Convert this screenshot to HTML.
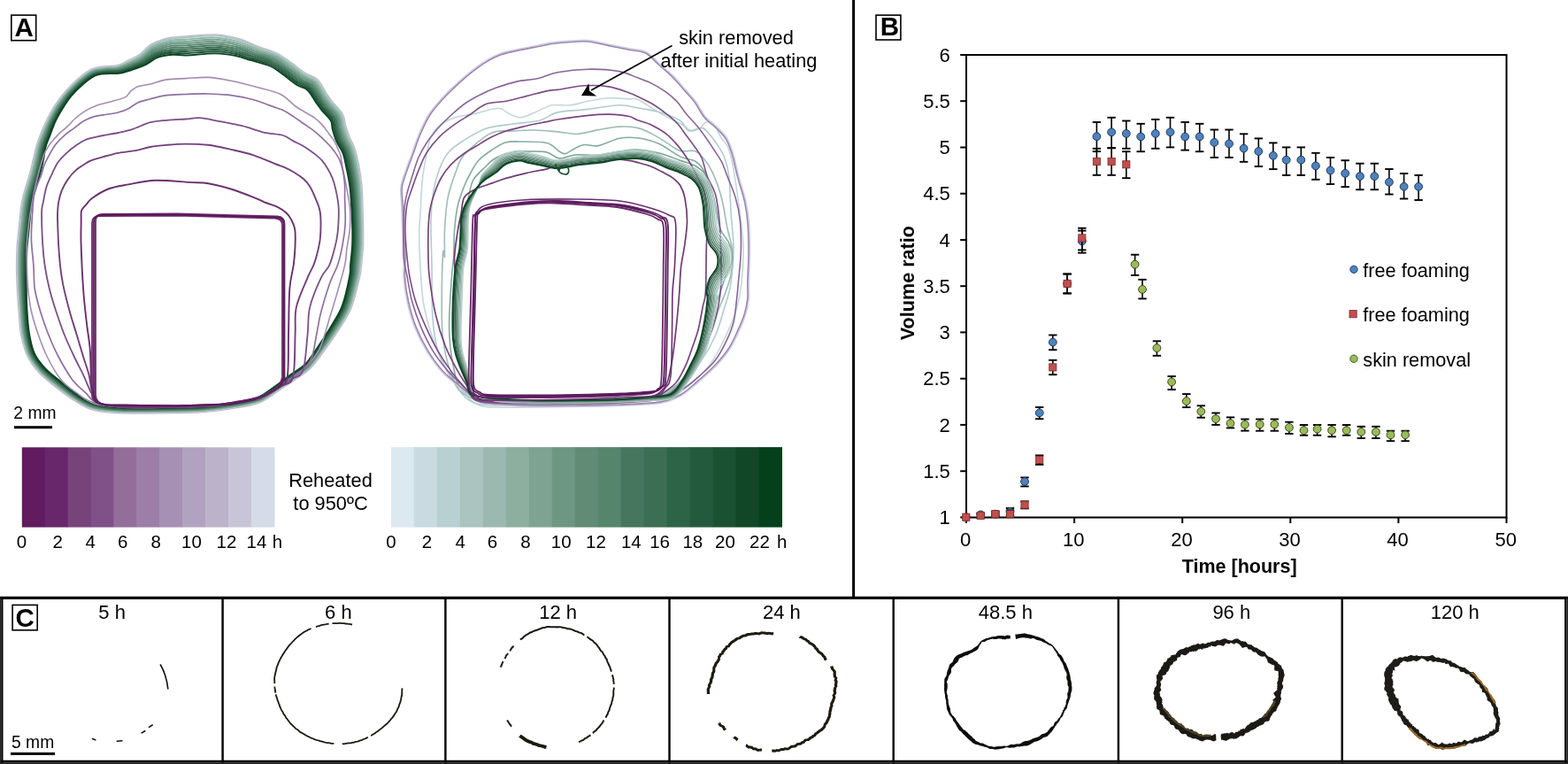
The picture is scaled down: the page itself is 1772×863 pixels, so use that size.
<!DOCTYPE html><html><head><meta charset="utf-8"><title>Figure</title><style>html,body{margin:0;padding:0;background:#fff;}body{width:1772px;height:863px;overflow:hidden;}</style></head><body><svg width="1772" height="863" viewBox="0 0 1772 863" style="display:block">
<rect width="1772" height="863" fill="#ffffff"/>
<g fill="none" stroke-linejoin="round" stroke-linecap="round">
<path d="M191.9,42.5 C198.2,41.1 200.8,41.6 209.4,41.0 C218.0,40.4 233.1,38.4 243.3,38.9 C253.6,39.4 263.3,41.9 271.0,44.0 C278.7,46.1 282.5,48.9 289.6,51.6 C296.6,54.3 306.5,56.8 313.2,60.0 C319.9,63.3 324.6,67.3 329.9,71.1 C335.2,74.8 340.0,79.2 344.8,82.3 C349.7,85.4 354.7,85.7 358.9,89.8 C363.1,93.8 367.1,102.6 369.9,106.8 C372.7,110.9 372.7,111.0 375.6,114.7 C378.6,118.4 384.9,124.3 387.4,128.8 C389.9,133.3 389.4,137.4 390.7,141.7 C391.9,145.9 393.1,149.9 394.9,154.2 C396.6,158.6 399.3,162.7 401.0,167.8 C402.8,172.9 404.0,177.6 405.4,185.0 C406.7,192.3 408.3,201.2 409.2,212.0 C410.0,222.8 410.2,239.1 410.5,249.8 C410.8,260.4 411.0,267.3 410.7,275.8 C410.4,284.3 409.2,294.1 408.5,300.7 C407.7,307.2 408.2,307.1 406.2,315.1 C404.3,323.2 400.5,339.5 396.6,349.1 C392.7,358.7 387.8,364.9 382.9,372.7 C378.0,380.4 372.3,388.3 367.0,395.6 C361.6,402.9 356.5,410.6 350.8,416.3 C345.0,421.9 338.5,425.3 332.4,429.6 C326.3,433.8 320.8,437.7 314.2,441.9 C307.7,446.2 301.8,451.8 293.0,455.1 C284.2,458.4 272.1,460.0 261.7,461.7 C251.2,463.5 242.5,464.7 230.3,465.6 C218.1,466.4 203.9,466.6 188.5,466.8 C173.0,467.0 151.1,467.4 137.3,466.8 C123.5,466.2 114.6,465.7 105.7,463.3 C96.8,461.0 91.2,456.9 84.1,452.6 C77.0,448.3 69.6,442.6 63.0,437.4 C56.4,432.2 49.9,427.4 44.5,421.6 C39.2,415.8 34.4,409.7 31.0,402.5 C27.5,395.3 25.3,386.8 23.7,378.5 C22.0,370.1 21.8,361.0 21.1,352.4 C20.4,343.8 19.7,335.4 19.3,326.7 C18.9,317.9 18.5,307.8 18.5,300.0 C18.5,292.1 18.7,285.6 19.0,279.6 C19.3,273.7 20.0,269.4 20.5,264.4 C21.0,259.3 21.5,254.4 22.0,249.4 C22.5,244.3 22.9,238.9 23.6,234.1 C24.3,229.3 25.1,224.8 26.2,220.5 C27.2,216.2 28.4,212.7 29.8,208.2 C31.1,203.6 32.9,198.3 34.2,193.3 C35.5,188.4 36.4,183.7 37.7,178.6 C38.9,173.4 40.3,167.1 41.7,162.4 C43.2,157.6 44.5,154.4 46.4,149.8 C48.4,145.1 50.7,139.6 53.3,134.4 C56.0,129.2 58.6,123.8 62.1,118.5 C65.5,113.3 69.6,108.0 74.0,102.9 C78.4,97.9 83.5,92.7 88.5,88.5 C93.4,84.3 98.5,80.2 103.5,77.9 C108.6,75.7 114.1,75.5 118.9,74.7 C123.7,74.0 128.0,74.7 132.3,73.6 C136.7,72.5 140.8,70.2 145.0,68.2 C149.2,66.1 153.1,64.6 157.5,61.5 C161.9,58.5 165.5,53.0 171.2,49.9 C176.9,46.7 185.5,44.0 191.9,42.5Z" stroke="#c4b6d4" stroke-width="1.3"/>
<path d="M192.1,44.0 C198.4,42.6 201.0,43.1 209.5,42.5 C218.0,41.9 233.1,39.9 243.3,40.4 C253.5,40.9 263.0,43.3 270.7,45.4 C278.3,47.5 282.1,50.4 289.1,53.0 C296.1,55.7 305.9,58.2 312.6,61.4 C319.2,64.6 323.8,68.6 329.0,72.3 C334.3,76.0 339.2,80.5 344.0,83.6 C348.8,86.7 353.8,86.8 357.9,90.9 C362.0,94.9 365.9,103.5 368.7,107.6 C371.4,111.8 371.6,112.0 374.5,115.6 C377.4,119.3 383.6,125.2 386.1,129.6 C388.6,134.0 388.0,137.9 389.2,142.1 C390.5,146.3 391.7,150.4 393.5,154.8 C395.2,159.2 397.9,163.2 399.6,168.3 C401.3,173.4 402.5,178.0 403.9,185.3 C405.2,192.6 406.8,201.4 407.7,212.1 C408.5,222.9 408.7,239.2 409.0,249.8 C409.3,260.4 409.5,267.3 409.2,275.7 C408.9,284.2 407.7,294.0 407.0,300.5 C406.2,307.1 406.7,306.8 404.8,314.8 C402.8,322.8 399.1,339.0 395.2,348.5 C391.3,358.0 386.5,364.2 381.6,371.9 C376.7,379.6 371.1,387.5 365.8,394.7 C360.4,401.9 355.4,409.6 349.7,415.2 C344.0,420.8 337.6,424.1 331.5,428.3 C325.5,432.6 319.9,436.4 313.4,440.7 C306.9,444.9 301.1,450.5 292.5,453.7 C283.8,457.0 271.8,458.5 261.4,460.3 C251.0,462.0 242.3,463.3 230.2,464.1 C218.0,464.9 203.9,465.1 188.4,465.3 C173.0,465.5 151.1,465.9 137.4,465.3 C123.7,464.7 114.9,464.2 106.1,461.9 C97.4,459.6 91.9,455.6 84.9,451.3 C77.9,447.1 70.5,441.4 63.9,436.2 C57.4,431.1 50.9,426.3 45.6,420.6 C40.4,414.9 35.7,408.9 32.3,401.9 C28.9,394.8 26.8,386.5 25.2,378.2 C23.5,370.0 23.3,360.9 22.6,352.3 C21.9,343.7 21.2,335.4 20.8,326.6 C20.4,317.9 20.0,307.8 20.0,300.0 C20.0,292.2 20.2,285.6 20.5,279.7 C20.8,273.8 21.5,269.5 22.0,264.5 C22.5,259.5 23.0,254.5 23.5,249.5 C24.0,244.5 24.4,239.1 25.1,234.3 C25.7,229.5 26.6,225.1 27.6,220.8 C28.7,216.5 29.9,213.1 31.2,208.6 C32.5,204.1 34.3,198.7 35.7,193.7 C37.0,188.8 37.9,184.1 39.1,178.9 C40.4,173.7 41.7,167.5 43.2,162.8 C44.6,158.0 45.9,155.0 47.8,150.3 C49.7,145.7 52.1,140.2 54.7,135.1 C57.3,129.9 59.9,124.5 63.3,119.4 C66.7,114.2 70.8,108.9 75.1,103.9 C79.5,99.0 84.6,93.7 89.4,89.6 C94.3,85.5 99.2,81.5 104.2,79.3 C109.1,77.1 114.3,76.9 119.1,76.2 C123.8,75.5 128.2,76.2 132.6,75.1 C137.0,74.0 141.3,71.6 145.6,69.5 C149.8,67.5 153.9,65.9 158.3,62.8 C162.6,59.8 166.2,54.3 171.8,51.2 C177.5,48.1 185.8,45.5 192.1,44.0Z" stroke="#a5c8bc" stroke-width="1.9"/>
<path d="M192.4,46.0 C198.6,44.7 201.1,45.3 209.6,44.7 C218.1,44.2 233.1,42.2 243.2,42.6 C253.3,43.1 262.6,45.4 270.2,47.4 C277.7,49.4 281.6,52.1 288.5,54.7 C295.5,57.3 305.3,59.8 311.9,62.9 C318.5,66.1 322.9,70.0 328.1,73.6 C333.3,77.3 338.4,81.9 343.1,85.0 C347.9,88.1 352.7,88.1 356.7,92.1 C360.8,96.0 364.6,104.4 367.4,108.5 C370.1,112.6 370.4,113.0 373.3,116.6 C376.1,120.2 382.3,126.0 384.7,130.3 C387.2,134.6 386.5,138.3 387.7,142.5 C388.9,146.7 390.3,151.0 392.0,155.4 C393.8,159.8 396.5,163.8 398.3,168.8 C400.0,173.8 401.1,178.3 402.5,185.5 C403.8,192.8 405.5,201.5 406.3,212.3 C407.2,223.0 407.5,239.3 407.8,249.9 C408.0,260.4 408.3,267.2 408.0,275.7 C407.6,284.1 406.5,293.9 405.8,300.4 C405.0,306.9 405.6,306.6 403.7,314.5 C401.8,322.5 398.1,338.7 394.3,348.2 C390.5,357.6 385.7,363.7 380.9,371.4 C376.0,379.1 370.4,387.1 365.1,394.3 C359.9,401.5 354.9,409.2 349.3,414.7 C343.6,420.3 337.2,423.6 331.2,427.8 C325.1,432.0 319.6,436.0 313.1,440.2 C306.6,444.5 300.9,450.0 292.3,453.2 C283.7,456.5 271.7,458.0 261.3,459.7 C251.0,461.4 242.3,462.7 230.1,463.5 C218.0,464.4 203.9,464.5 188.4,464.7 C173.0,464.9 151.1,465.3 137.4,464.7 C123.7,464.2 115.0,463.6 106.3,461.3 C97.6,458.9 92.2,455.0 85.3,450.8 C78.3,446.5 70.9,440.7 64.4,435.6 C57.9,430.5 51.4,425.7 46.2,420.0 C41.0,414.4 36.4,408.6 33.0,401.6 C29.7,394.6 27.6,386.3 26.0,378.1 C24.5,369.8 24.2,360.8 23.5,352.2 C22.8,343.7 22.2,335.3 21.8,326.6 C21.4,317.9 21.1,307.8 21.1,300.0 C21.1,292.2 21.3,285.7 21.6,279.8 C22.0,273.9 22.6,269.6 23.1,264.6 C23.6,259.6 24.1,254.6 24.6,249.6 C25.1,244.6 25.5,239.2 26.2,234.5 C26.8,229.7 27.7,225.4 28.7,221.1 C29.7,216.8 30.9,213.4 32.3,208.9 C33.6,204.4 35.4,199.0 36.7,194.0 C38.1,189.0 39.0,184.3 40.2,179.1 C41.4,174.0 42.7,167.8 44.1,163.0 C45.6,158.3 46.9,155.3 48.7,150.7 C50.6,146.1 52.9,140.6 55.5,135.4 C58.1,130.3 60.7,125.0 64.1,119.8 C67.4,114.7 71.4,109.4 75.7,104.4 C80.0,99.5 85.1,94.3 89.9,90.2 C94.7,86.2 99.6,82.2 104.5,80.0 C109.3,77.8 114.4,77.7 119.2,77.0 C123.9,76.3 128.3,77.0 132.8,75.9 C137.3,74.9 141.6,72.6 146.0,70.6 C150.3,68.6 154.5,67.0 158.9,64.0 C163.4,61.0 166.9,55.7 172.5,52.7 C178.1,49.7 186.2,47.3 192.4,46.0Z" stroke="#90b6a7" stroke-width="1.9"/>
<path d="M192.7,48.0 C198.8,46.7 201.3,47.5 209.7,47.0 C218.1,46.4 233.2,44.5 243.2,44.8 C253.2,45.2 262.3,47.4 269.7,49.3 C277.2,51.3 281.0,53.9 287.9,56.4 C294.8,58.9 304.6,61.3 311.2,64.4 C317.7,67.5 321.9,71.3 327.1,75.0 C332.3,78.7 337.5,83.3 342.2,86.4 C347.0,89.4 351.6,89.4 355.6,93.3 C359.5,97.1 363.4,105.3 366.1,109.4 C368.8,113.4 369.2,114.0 372.0,117.6 C374.9,121.2 381.0,126.9 383.4,131.1 C385.8,135.3 385.0,138.8 386.2,142.9 C387.4,147.1 388.8,151.6 390.6,156.0 C392.4,160.4 395.2,164.3 396.9,169.3 C398.6,174.2 399.7,178.6 401.0,185.8 C402.4,193.0 404.1,201.7 405.0,212.4 C405.9,223.1 406.3,239.4 406.6,249.9 C406.8,260.4 407.1,267.2 406.8,275.6 C406.4,284.0 405.2,293.9 404.5,300.3 C403.9,306.7 404.5,306.4 402.6,314.3 C400.7,322.2 397.1,338.4 393.3,347.8 C389.6,357.2 384.9,363.3 380.1,371.0 C375.3,378.6 369.7,386.6 364.5,393.8 C359.3,401.0 354.4,408.7 348.8,414.3 C343.2,419.8 336.8,423.0 330.8,427.3 C324.8,431.5 319.2,435.5 312.8,439.8 C306.3,444.0 300.7,449.5 292.1,452.7 C283.5,455.9 271.6,457.5 261.2,459.2 C250.9,460.9 242.2,462.1 230.1,463.0 C218.0,463.8 203.9,464.0 188.4,464.2 C173.0,464.4 151.1,464.8 137.4,464.2 C123.8,463.6 115.1,462.9 106.5,460.6 C97.8,458.3 92.5,454.5 85.6,450.2 C78.7,445.9 71.4,440.1 64.9,435.0 C58.4,429.9 52.0,425.2 46.8,419.5 C41.6,413.9 37.0,408.2 33.7,401.2 C30.4,394.3 28.5,386.1 26.9,377.9 C25.4,369.7 25.1,360.7 24.4,352.2 C23.7,343.6 23.2,335.3 22.8,326.6 C22.4,317.9 22.2,307.8 22.2,300.0 C22.2,292.2 22.4,285.7 22.7,279.8 C23.1,274.0 23.7,269.7 24.2,264.7 C24.7,259.7 25.2,254.7 25.7,249.7 C26.2,244.7 26.6,239.3 27.3,234.6 C27.9,229.9 28.8,225.6 29.8,221.4 C30.8,217.1 32.0,213.7 33.3,209.2 C34.7,204.7 36.5,199.3 37.8,194.3 C39.1,189.3 40.1,184.6 41.3,179.4 C42.5,174.2 43.7,168.0 45.1,163.3 C46.5,158.6 47.8,155.7 49.7,151.1 C51.5,146.5 53.8,141.0 56.3,135.8 C58.8,130.7 61.5,125.5 64.8,120.3 C68.2,115.2 72.1,109.8 76.3,104.9 C80.6,100.0 85.7,94.9 90.4,90.8 C95.2,86.8 100.0,82.9 104.8,80.7 C109.6,78.6 114.6,78.4 119.3,77.8 C124.0,77.1 128.4,77.8 133.0,76.8 C137.5,75.8 141.9,73.6 146.4,71.6 C150.8,69.7 155.1,68.0 159.6,65.1 C164.1,62.2 167.7,57.1 173.2,54.2 C178.7,51.4 186.6,49.2 192.7,48.0Z" stroke="#7da695" stroke-width="1.9"/>
<path d="M193.0,49.9 C199.0,48.8 201.5,49.6 209.8,49.2 C218.2,48.7 233.2,46.7 243.1,47.1 C253.0,47.4 261.9,49.4 269.3,51.3 C276.7,53.1 280.5,55.6 287.4,58.1 C294.2,60.5 304.0,62.9 310.5,65.9 C316.9,69.0 321.0,72.7 326.1,76.4 C331.3,80.0 336.6,84.8 341.3,87.8 C346.1,90.8 350.5,90.7 354.4,94.5 C358.3,98.2 362.1,106.3 364.8,110.3 C367.6,114.3 368.0,114.9 370.8,118.5 C373.7,122.1 379.7,127.7 382.0,131.9 C384.4,136.0 383.6,139.2 384.7,143.4 C385.9,147.5 387.4,152.2 389.2,156.6 C391.0,161.0 393.8,164.8 395.5,169.8 C397.3,174.7 398.3,179.0 399.6,186.1 C401.0,193.2 402.7,201.9 403.7,212.5 C404.6,223.2 405.0,239.4 405.3,249.9 C405.6,260.5 405.9,267.2 405.5,275.6 C405.2,283.9 404.0,293.8 403.3,300.2 C402.7,306.6 403.3,306.2 401.5,314.1 C399.7,321.9 396.1,338.0 392.4,347.4 C388.7,356.8 384.1,362.8 379.3,370.5 C374.6,378.2 369.0,386.2 363.9,393.4 C358.7,400.6 353.9,408.2 348.3,413.8 C342.7,419.4 336.4,422.5 330.4,426.7 C324.4,431.0 318.9,435.0 312.5,439.3 C306.0,443.5 300.4,449.0 291.9,452.2 C283.3,455.4 271.4,456.9 261.1,458.6 C250.8,460.3 242.2,461.6 230.1,462.4 C217.9,463.3 203.8,463.4 188.4,463.6 C173.0,463.8 151.1,464.2 137.5,463.6 C123.8,463.0 115.2,462.3 106.6,460.0 C98.1,457.6 92.8,453.9 86.0,449.6 C79.1,445.4 71.8,439.5 65.4,434.4 C58.9,429.3 52.5,424.6 47.3,419.0 C42.2,413.4 37.7,407.8 34.4,400.9 C31.2,394.0 29.3,385.9 27.8,377.7 C26.3,369.6 25.9,360.6 25.3,352.1 C24.6,343.6 24.1,335.2 23.8,326.5 C23.5,317.9 23.3,307.8 23.3,300.0 C23.3,292.2 23.5,285.8 23.8,279.9 C24.2,274.0 24.8,269.8 25.3,264.8 C25.8,259.8 26.3,254.8 26.8,249.8 C27.3,244.8 27.7,239.5 28.4,234.8 C29.0,230.1 29.9,225.8 30.9,221.6 C31.9,217.4 33.1,214.0 34.4,209.5 C35.7,205.0 37.6,199.6 38.9,194.6 C40.2,189.6 41.2,184.8 42.4,179.6 C43.6,174.5 44.7,168.3 46.1,163.6 C47.4,158.9 48.8,156.0 50.6,151.4 C52.4,146.9 54.6,141.3 57.1,136.2 C59.6,131.1 62.3,125.9 65.6,120.8 C68.9,115.7 72.7,110.3 76.9,105.4 C81.1,100.5 86.2,95.4 90.9,91.4 C95.6,87.4 100.4,83.6 105.1,81.4 C109.9,79.3 114.7,79.2 119.4,78.5 C124.0,77.9 128.6,78.7 133.1,77.7 C137.7,76.7 142.3,74.6 146.8,72.6 C151.3,70.7 155.8,69.1 160.3,66.3 C164.8,63.5 168.5,58.5 173.9,55.7 C179.4,53.0 187.1,51.0 193.0,49.9Z" stroke="#6c9783" stroke-width="1.9"/>
<path d="M193.3,51.9 C199.2,50.9 201.7,51.8 209.9,51.4 C218.2,51.0 233.2,49.0 243.0,49.3 C252.8,49.6 261.5,51.5 268.8,53.2 C276.1,55.0 280.0,57.4 286.8,59.8 C293.6,62.1 303.4,64.5 309.8,67.4 C316.2,70.4 320.1,74.1 325.2,77.7 C330.3,81.3 335.8,86.2 340.4,89.2 C345.1,92.2 349.4,92.0 353.3,95.7 C357.1,99.4 360.8,107.2 363.5,111.2 C366.3,115.1 366.8,115.9 369.6,119.5 C372.5,123.1 378.4,128.6 380.7,132.6 C383.0,136.7 382.1,139.7 383.2,143.8 C384.4,147.9 385.9,152.8 387.7,157.2 C389.5,161.6 392.4,165.4 394.2,170.3 C395.9,175.1 396.8,179.3 398.2,186.4 C399.6,193.4 401.4,202.0 402.4,212.6 C403.3,223.2 403.8,239.5 404.1,250.0 C404.4,260.5 404.6,267.2 404.3,275.5 C404.0,283.9 402.8,293.7 402.1,300.1 C401.5,306.4 402.2,306.0 400.4,313.8 C398.7,321.7 395.1,337.7 391.5,347.1 C387.8,356.4 383.3,362.4 378.6,370.0 C373.9,377.7 368.3,385.7 363.2,392.9 C358.1,400.1 353.4,407.8 347.8,413.3 C342.3,418.9 335.9,421.9 330.0,426.2 C324.0,430.4 318.5,434.6 312.2,438.8 C305.8,443.1 300.2,448.5 291.7,451.7 C283.2,454.9 271.3,456.4 261.0,458.1 C250.8,459.8 242.1,461.0 230.0,461.9 C217.9,462.7 203.8,462.9 188.4,463.1 C173.0,463.3 151.1,463.7 137.5,463.1 C123.9,462.5 115.3,461.7 106.8,459.3 C98.3,457.0 93.1,453.3 86.3,449.1 C79.5,444.8 72.3,438.9 65.9,433.8 C59.5,428.7 53.0,424.0 47.9,418.5 C42.8,412.9 38.4,407.4 35.1,400.6 C31.9,393.8 30.2,385.7 28.7,377.6 C27.2,369.5 26.8,360.5 26.2,352.0 C25.5,343.5 25.1,335.2 24.8,326.5 C24.5,317.8 24.4,307.8 24.4,300.0 C24.5,292.2 24.6,285.8 24.9,280.0 C25.3,274.1 25.9,269.9 26.4,264.9 C26.9,259.9 27.4,254.9 27.9,249.9 C28.4,244.9 28.8,239.6 29.5,234.9 C30.1,230.2 31.0,226.1 32.0,221.9 C33.0,217.7 34.1,214.3 35.5,209.8 C36.8,205.3 38.6,199.9 40.0,194.9 C41.3,189.9 42.3,185.0 43.5,179.9 C44.6,174.7 45.7,168.5 47.0,163.9 C48.4,159.2 49.7,156.4 51.5,151.8 C53.3,147.3 55.4,141.7 57.9,136.6 C60.4,131.5 63.1,126.4 66.3,121.3 C69.6,116.2 73.3,110.8 77.5,105.9 C81.7,101.1 86.8,96.0 91.4,92.0 C96.1,88.0 100.8,84.3 105.4,82.1 C110.1,80.0 114.8,79.9 119.5,79.3 C124.1,78.7 128.7,79.5 133.3,78.6 C137.9,77.6 142.6,75.5 147.2,73.7 C151.8,71.8 156.4,70.2 161.0,67.4 C165.5,64.7 169.2,59.8 174.6,57.2 C180.0,54.7 187.5,52.9 193.3,51.9Z" stroke="#5b8873" stroke-width="1.9"/>
<path d="M193.7,53.9 C199.4,53.0 201.8,54.0 210.1,53.6 C218.3,53.2 233.2,51.2 243.0,51.5 C252.7,51.8 261.2,53.5 268.4,55.2 C275.6,56.8 279.4,59.1 286.2,61.4 C293.0,63.7 302.7,66.0 309.0,69.0 C315.4,71.9 319.1,75.5 324.2,79.1 C329.3,82.7 334.9,87.6 339.6,90.6 C344.2,93.6 348.3,93.3 352.1,96.9 C355.9,100.5 359.5,108.1 362.3,112.0 C365.0,116.0 365.5,116.9 368.4,120.5 C371.2,124.0 377.1,129.4 379.3,133.4 C381.5,137.3 380.6,140.1 381.8,144.2 C382.9,148.3 384.4,153.4 386.3,157.8 C388.1,162.2 391.1,165.9 392.8,170.7 C394.6,175.6 395.4,179.6 396.8,186.6 C398.2,193.6 400.0,202.2 401.0,212.8 C402.1,223.3 402.5,239.6 402.9,250.0 C403.2,260.5 403.4,267.2 403.1,275.5 C402.8,283.8 401.5,293.6 400.9,299.9 C400.3,306.3 401.1,305.8 399.4,313.6 C397.6,321.4 394.1,337.4 390.5,346.7 C386.9,356.1 382.5,361.9 377.8,369.6 C373.2,377.2 367.7,385.3 362.6,392.5 C357.5,399.7 352.9,407.3 347.4,412.9 C341.9,418.4 335.5,421.4 329.6,425.6 C323.7,429.9 318.2,434.1 311.8,438.4 C305.5,442.6 300.0,447.9 291.5,451.1 C283.0,454.3 271.2,455.8 261.0,457.5 C250.7,459.2 242.1,460.5 230.0,461.3 C217.9,462.2 203.8,462.3 188.4,462.5 C173.0,462.7 151.1,463.2 137.5,462.5 C123.9,461.9 115.5,461.0 107.0,458.7 C98.5,456.3 93.5,452.8 86.7,448.5 C79.9,444.3 72.7,438.3 66.3,433.2 C60.0,428.1 53.6,423.4 48.5,417.9 C43.4,412.4 39.0,407.0 35.9,400.2 C32.7,393.5 31.0,385.5 29.5,377.4 C28.1,369.4 27.7,360.5 27.0,352.0 C26.4,343.5 26.0,335.1 25.8,326.5 C25.6,317.8 25.5,307.7 25.6,300.0 C25.6,292.3 25.7,285.9 26.1,280.0 C26.4,274.2 27.1,270.1 27.6,265.1 C28.1,260.1 28.6,255.1 29.1,250.1 C29.6,245.1 29.9,239.7 30.5,235.1 C31.2,230.4 32.0,226.3 33.0,222.1 C34.0,218.0 35.2,214.7 36.5,210.2 C37.9,205.7 39.7,200.1 41.0,195.1 C42.4,190.1 43.4,185.3 44.5,180.1 C45.7,175.0 46.7,168.8 48.0,164.1 C49.3,159.5 50.7,156.7 52.5,152.2 C54.3,147.7 56.3,142.1 58.7,137.0 C61.1,131.9 63.8,126.8 67.1,121.7 C70.3,116.6 73.9,111.3 78.1,106.5 C82.2,101.6 87.3,96.5 92.0,92.6 C96.6,88.7 101.2,84.9 105.8,82.9 C110.4,80.8 114.9,80.7 119.5,80.1 C124.2,79.5 128.8,80.3 133.5,79.4 C138.2,78.5 142.9,76.5 147.6,74.7 C152.3,72.9 157.0,71.2 161.6,68.6 C166.3,65.9 170.0,61.2 175.4,58.8 C180.7,56.3 187.9,54.7 193.7,53.9Z" stroke="#4a7a62" stroke-width="1.9"/>
<path d="M194.0,55.9 C199.7,55.1 202.0,56.2 210.2,55.8 C218.3,55.5 233.3,53.5 242.9,53.7 C252.5,53.9 260.8,55.6 267.9,57.1 C275.0,58.7 278.9,60.9 285.6,63.1 C292.4,65.3 302.1,67.6 308.3,70.5 C314.6,73.4 318.2,76.8 323.3,80.4 C328.3,84.0 334.0,89.1 338.7,92.0 C343.3,95.0 347.3,94.6 351.0,98.1 C354.7,101.6 358.3,109.0 361.0,112.9 C363.7,116.8 364.3,117.9 367.2,121.5 C370.0,125.0 375.8,130.3 378.0,134.1 C380.1,138.0 379.1,140.6 380.3,144.6 C381.4,148.7 383.0,154.0 384.8,158.4 C386.7,162.8 389.7,166.5 391.5,171.2 C393.2,176.0 394.0,180.0 395.4,186.9 C396.7,193.9 398.7,202.4 399.7,212.9 C400.8,223.4 401.3,239.6 401.7,250.1 C402.0,260.5 402.2,267.1 401.9,275.4 C401.5,283.7 400.3,293.5 399.7,299.8 C399.1,306.1 400.0,305.6 398.3,313.3 C396.6,321.1 393.1,337.1 389.6,346.4 C386.1,355.7 381.7,361.5 377.1,369.1 C372.5,376.7 367.0,384.8 361.9,392.0 C356.9,399.2 352.3,406.9 346.9,412.4 C341.4,417.9 335.1,420.8 329.2,425.1 C323.3,429.3 317.9,433.7 311.5,437.9 C305.2,442.2 299.8,447.4 291.3,450.6 C282.9,453.8 271.1,455.3 260.9,457.0 C250.6,458.7 242.0,459.9 229.9,460.8 C217.9,461.6 203.8,461.8 188.4,462.0 C173.0,462.2 151.1,462.6 137.5,462.0 C124.0,461.3 115.6,460.4 107.2,458.0 C98.7,455.7 93.8,452.2 87.0,448.0 C80.3,443.7 73.2,437.7 66.8,432.6 C60.5,427.5 54.1,422.9 49.1,417.4 C44.0,412.0 39.7,406.6 36.6,399.9 C33.4,393.2 31.8,385.3 30.4,377.3 C29.0,369.3 28.5,360.4 27.9,351.9 C27.3,343.4 27.0,335.1 26.8,326.5 C26.6,317.8 26.6,307.7 26.7,300.0 C26.7,292.3 26.8,285.9 27.2,280.1 C27.5,274.3 28.2,270.2 28.7,265.2 C29.2,260.2 29.7,255.2 30.2,250.2 C30.7,245.2 31.0,239.9 31.6,235.2 C32.3,230.6 33.1,226.5 34.1,222.4 C35.1,218.3 36.3,215.0 37.6,210.5 C38.9,206.0 40.8,200.4 42.1,195.4 C43.4,190.4 44.5,185.5 45.6,180.4 C46.8,175.2 47.6,169.0 48.9,164.4 C50.2,159.8 51.6,157.1 53.4,152.6 C55.2,148.0 57.1,142.4 59.5,137.4 C61.9,132.3 64.6,127.3 67.8,122.2 C71.0,117.1 74.6,111.8 78.7,107.0 C82.8,102.1 87.9,97.1 92.5,93.2 C97.0,89.3 101.6,85.6 106.1,83.6 C110.6,81.5 115.0,81.4 119.6,80.9 C124.2,80.3 128.9,81.2 133.7,80.3 C138.4,79.5 143.2,77.5 148.0,75.8 C152.8,74.0 157.6,72.3 162.3,69.7 C167.0,67.1 170.8,62.6 176.1,60.3 C181.3,58.0 188.3,56.6 194.0,55.9Z" stroke="#3a6c52" stroke-width="1.9"/>
<path d="M194.3,57.8 C199.9,57.2 202.2,58.4 210.3,58.0 C218.4,57.7 233.3,55.8 242.8,56.0 C252.4,56.1 260.4,57.6 267.5,59.1 C274.5,60.5 278.4,62.7 285.1,64.8 C291.8,67.0 301.4,69.1 307.6,72.0 C313.8,74.8 317.3,78.2 322.3,81.8 C327.3,85.4 333.2,90.5 337.8,93.4 C342.3,96.3 346.2,95.9 349.8,99.3 C353.5,102.7 357.0,110.0 359.7,113.8 C362.4,117.7 363.1,118.9 366.0,122.4 C368.8,125.9 374.5,131.1 376.6,134.9 C378.7,138.7 377.6,141.1 378.8,145.1 C379.9,149.1 381.5,154.5 383.4,159.0 C385.3,163.4 388.3,167.0 390.1,171.7 C391.9,176.4 392.6,180.3 394.0,187.2 C395.3,194.1 397.3,202.5 398.4,213.0 C399.5,223.5 400.1,239.7 400.4,250.1 C400.8,260.5 401.0,267.1 400.6,275.4 C400.3,283.6 399.0,293.4 398.5,299.7 C397.9,306.0 398.8,305.4 397.2,313.1 C395.6,320.8 392.1,336.7 388.7,346.0 C385.2,355.3 380.9,361.0 376.3,368.6 C371.7,376.2 366.3,384.4 361.3,391.6 C356.3,398.8 351.8,406.4 346.4,411.9 C341.0,417.4 334.7,420.3 328.8,424.5 C323.0,428.8 317.5,433.2 311.2,437.4 C304.9,441.7 299.5,446.9 291.1,450.1 C282.7,453.3 271.0,454.7 260.8,456.4 C250.6,458.1 242.0,459.4 229.9,460.2 C217.8,461.0 203.8,461.2 188.4,461.4 C173.0,461.6 151.1,462.1 137.6,461.4 C124.1,460.7 115.7,459.7 107.3,457.4 C99.0,455.1 94.1,451.6 87.4,447.4 C80.7,443.2 73.6,437.1 67.3,432.0 C61.0,426.9 54.6,422.3 49.6,416.9 C44.6,411.5 40.3,406.2 37.3,399.6 C34.2,392.9 32.7,385.1 31.3,377.1 C29.9,369.1 29.4,360.3 28.8,351.8 C28.2,343.4 28.0,335.1 27.8,326.4 C27.6,317.8 27.7,307.7 27.8,300.0 C27.9,292.3 27.9,285.9 28.3,280.2 C28.6,274.4 29.3,270.3 29.8,265.3 C30.3,260.3 30.8,255.3 31.3,250.3 C31.8,245.3 32.1,240.0 32.7,235.4 C33.4,230.8 34.2,226.7 35.2,222.6 C36.2,218.5 37.3,215.3 38.7,210.8 C40.0,206.3 41.8,200.7 43.2,195.7 C44.5,190.7 45.6,185.8 46.7,180.6 C47.8,175.4 48.6,169.3 49.9,164.7 C51.2,160.1 52.6,157.4 54.3,152.9 C56.1,148.4 57.9,142.8 60.3,137.8 C62.7,132.7 65.4,127.7 68.6,122.7 C71.7,117.6 75.2,112.3 79.3,107.5 C83.3,102.6 88.4,97.6 93.0,93.8 C97.5,89.9 101.9,86.3 106.4,84.3 C110.9,82.2 115.2,82.1 119.7,81.6 C124.3,81.1 129.1,82.0 133.8,81.2 C138.6,80.4 143.6,78.5 148.4,76.8 C153.3,75.1 158.3,73.4 163.0,70.9 C167.7,68.4 171.6,63.9 176.8,61.8 C182.0,59.6 188.7,58.5 194.3,57.8Z" stroke="#2a5f43" stroke-width="1.9"/>
<path d="M194.6,59.8 C200.1,59.3 202.4,60.5 210.4,60.3 C218.4,60.0 233.3,58.0 242.8,58.2 C252.2,58.3 260.1,59.6 267.0,61.0 C274.0,62.4 277.8,64.4 284.5,66.5 C291.1,68.6 300.8,70.7 306.9,73.5 C313.1,76.3 316.3,79.6 321.3,83.2 C326.3,86.7 332.3,91.9 336.9,94.8 C341.4,97.7 345.1,97.2 348.7,100.5 C352.3,103.8 355.7,110.9 358.4,114.7 C361.1,118.5 361.9,119.9 364.7,123.4 C367.6,126.9 373.2,132.0 375.3,135.7 C377.3,139.4 376.1,141.5 377.3,145.5 C378.4,149.5 380.1,155.1 382.0,159.6 C383.9,164.0 387.0,167.6 388.7,172.2 C390.5,176.9 391.2,180.6 392.5,187.5 C393.9,194.3 395.9,202.7 397.1,213.1 C398.2,223.6 398.8,239.8 399.2,250.1 C399.6,260.5 399.8,267.1 399.4,275.3 C399.1,283.6 397.8,293.3 397.2,299.6 C396.7,305.8 397.7,305.2 396.1,312.9 C394.5,320.5 391.2,336.4 387.7,345.6 C384.3,354.9 380.1,360.6 375.5,368.2 C371.0,375.8 365.6,383.9 360.7,391.1 C355.7,398.3 351.3,406.0 345.9,411.5 C340.6,416.9 334.3,419.7 328.4,424.0 C322.6,428.3 317.2,432.7 310.9,437.0 C304.7,441.2 299.3,446.4 290.9,449.6 C282.5,452.7 270.9,454.2 260.7,455.9 C250.5,457.6 241.9,458.8 229.9,459.7 C217.8,460.5 203.8,460.7 188.4,460.9 C173.0,461.1 151.1,461.5 137.6,460.9 C124.1,460.2 115.8,459.1 107.5,456.7 C99.2,454.4 94.4,451.1 87.7,446.8 C81.1,442.6 74.1,436.5 67.8,431.4 C61.5,426.3 55.2,421.7 50.2,416.4 C45.2,411.0 41.0,405.8 38.0,399.2 C35.0,392.7 33.5,384.8 32.2,376.9 C30.8,369.0 30.3,360.2 29.7,351.8 C29.1,343.3 28.9,335.0 28.8,326.4 C28.7,317.8 28.8,307.7 28.9,300.0 C29.0,292.3 29.1,286.0 29.4,280.2 C29.7,274.5 30.4,270.4 30.9,265.4 C31.4,260.4 31.9,255.4 32.4,250.4 C32.9,245.4 33.2,240.1 33.8,235.5 C34.5,231.0 35.3,227.0 36.3,222.9 C37.3,218.8 38.4,215.6 39.7,211.1 C41.1,206.6 42.9,201.0 44.3,196.0 C45.6,191.0 46.7,186.0 47.8,180.9 C48.9,175.7 49.6,169.6 50.9,165.0 C52.1,160.4 53.5,157.8 55.3,153.3 C57.0,148.8 58.8,143.2 61.1,138.2 C63.4,133.1 66.2,128.2 69.3,123.2 C72.5,118.1 75.8,112.8 79.9,108.0 C83.9,103.2 89.0,98.2 93.5,94.4 C97.9,90.5 102.3,87.0 106.7,85.0 C111.1,83.0 115.3,82.9 119.8,82.4 C124.4,81.9 129.2,82.8 134.0,82.1 C138.8,81.3 143.9,79.5 148.8,77.8 C153.8,76.1 158.9,74.4 163.7,72.0 C168.4,69.6 172.3,65.3 177.5,63.3 C182.6,61.2 189.1,60.3 194.6,59.8Z" stroke="#1a5133" stroke-width="1.9"/>
<path d="M194.9,61.8 C200.3,61.4 202.5,62.7 210.5,62.5 C218.5,62.3 233.4,60.3 242.7,60.4 C252.1,60.5 259.7,61.7 266.5,63.0 C273.4,64.3 277.3,66.2 283.9,68.2 C290.5,70.2 300.2,72.3 306.2,75.0 C312.3,77.7 315.4,81.0 320.4,84.5 C325.3,88.1 331.4,93.3 336.0,96.2 C340.5,99.1 344.0,98.5 347.5,101.7 C351.1,105.0 354.5,111.8 357.1,115.6 C359.8,119.3 360.7,120.9 363.5,124.4 C366.3,127.8 371.9,132.8 373.9,136.4 C375.9,140.0 374.7,142.0 375.8,145.9 C376.9,149.9 378.6,155.7 380.5,160.2 C382.5,164.6 385.6,168.1 387.4,172.7 C389.2,177.3 389.7,181.0 391.1,187.7 C392.5,194.5 394.6,202.9 395.7,213.3 C396.9,223.7 397.6,239.8 398.0,250.2 C398.4,260.5 398.5,267.1 398.2,275.3 C397.9,283.5 396.6,293.2 396.0,299.5 C395.5,305.7 396.6,305.0 395.0,312.6 C393.5,320.2 390.2,336.1 386.8,345.3 C383.4,354.5 379.3,360.1 374.8,367.7 C370.3,375.3 364.9,383.5 360.0,390.7 C355.2,397.9 350.8,405.5 345.5,411.0 C340.1,416.4 333.9,419.2 328.1,423.5 C322.2,427.7 316.8,432.3 310.6,436.5 C304.4,440.8 299.1,445.9 290.7,449.1 C282.4,452.2 270.7,453.7 260.6,455.3 C250.4,457.0 241.9,458.3 229.8,459.1 C217.8,459.9 203.7,460.1 188.4,460.3 C173.0,460.5 151.1,461.0 137.6,460.3 C124.2,459.6 115.9,458.4 107.7,456.1 C99.4,453.8 94.7,450.5 88.1,446.3 C81.5,442.0 74.5,435.8 68.3,430.8 C62.1,425.7 55.7,421.1 50.8,415.8 C45.8,410.5 41.6,405.4 38.7,398.9 C35.7,392.4 34.4,384.6 33.0,376.8 C31.7,368.9 31.1,360.1 30.6,351.7 C30.0,343.3 29.9,335.0 29.8,326.4 C29.7,317.7 29.9,307.7 30.0,300.0 C30.1,292.3 30.2,286.0 30.5,280.3 C30.8,274.5 31.5,270.5 32.0,265.5 C32.5,260.5 33.0,255.5 33.5,250.5 C34.0,245.5 34.3,240.3 34.9,235.7 C35.6,231.2 36.4,227.2 37.4,223.2 C38.3,219.1 39.5,215.9 40.8,211.4 C42.1,206.9 44.0,201.3 45.3,196.3 C46.7,191.2 47.8,186.3 48.9,181.1 C50.0,175.9 50.6,169.8 51.8,165.2 C53.0,160.7 54.5,158.1 56.2,153.7 C57.9,149.2 59.6,143.5 61.9,138.5 C64.2,133.5 67.0,128.7 70.1,123.6 C73.2,118.6 76.5,113.3 80.5,108.5 C84.4,103.7 89.5,98.8 94.0,95.0 C98.4,91.2 102.7,87.7 107.0,85.7 C111.4,83.7 115.4,83.6 119.9,83.2 C124.5,82.7 129.3,83.6 134.2,82.9 C139.1,82.2 144.2,80.5 149.2,78.9 C154.3,77.2 159.5,75.5 164.3,73.2 C169.2,70.8 173.1,66.7 178.2,64.8 C183.3,62.9 189.5,62.2 194.9,61.8Z" stroke="#0b4424" stroke-width="1.9"/>
<path d="M106.9,456.0 C98.0,453.3 92.9,448.3 86.5,443.7 C80.1,439.1 74.1,435.2 68.6,428.4 C63.1,421.6 57.5,411.5 53.3,403.0 C49.0,394.5 46.1,386.0 43.1,377.5 C40.1,369.0 37.4,360.5 35.5,352.0 C33.6,343.5 32.5,335.0 31.7,326.5 C30.8,318.0 30.6,309.5 30.4,301.0 C30.2,292.5 30.0,284.0 30.4,275.5 C30.8,267.0 32.0,257.6 32.9,250.0 C33.8,242.4 34.8,236.7 36.0,230.0 C37.2,223.3 38.5,216.7 40.0,210.0 C41.5,203.3 43.5,195.5 45.0,190.0 C46.5,184.5 47.9,180.1 48.9,177.0 C49.9,173.9 49.9,173.8 51.2,171.3 C52.6,168.8 54.5,165.3 57.0,162.0 C59.5,158.7 63.4,154.4 66.2,151.6 C69.0,148.8 71.5,147.0 73.6,145.1 C75.7,143.2 77.1,141.8 79.0,140.0 C80.9,138.2 82.0,136.4 84.8,134.0 C87.6,131.6 92.0,128.0 95.9,125.6 C99.8,123.2 103.3,121.2 108.4,119.4 C113.5,117.6 120.9,116.1 126.5,114.5 C132.1,112.9 138.3,111.4 141.8,109.6 C145.3,107.8 145.1,105.4 147.4,103.4 C149.7,101.4 151.9,99.2 155.7,97.8 C159.5,96.4 164.6,96.3 170.0,95.0 C175.4,93.7 181.7,91.0 188.4,89.9 C195.1,88.8 202.2,89.0 210.0,88.6 C217.8,88.2 227.0,87.0 235.5,87.4 C244.0,87.8 251.7,89.3 261.0,91.2 C270.4,93.1 282.2,96.2 291.6,98.8 C301.0,101.3 310.1,103.0 317.1,106.5 C324.2,110.0 329.5,116.8 333.9,120.0 C338.2,123.2 339.7,123.7 343.2,125.8 C346.7,127.9 351.3,130.2 354.8,132.7 C358.3,135.2 361.3,138.0 364.0,140.9 C366.7,143.8 368.7,147.0 371.0,150.1 C373.3,153.2 376.0,156.1 377.9,159.4 C379.8,162.7 381.4,167.1 382.6,169.8 C383.8,172.5 384.1,172.3 384.9,175.6 C385.7,178.9 386.0,183.3 387.2,189.5 C388.4,195.7 390.4,205.1 391.8,212.7 C393.2,220.2 394.8,227.3 395.4,234.8 C396.0,242.3 396.0,250.2 395.4,257.9 C394.8,265.6 392.9,274.2 391.9,281.1 C390.9,288.1 391.5,291.2 389.6,299.6 C387.8,308.0 383.6,322.0 380.8,331.6 C378.1,341.2 375.7,348.6 373.1,357.1 C370.6,365.6 367.6,376.2 365.5,382.6 C363.4,389.0 363.0,390.7 360.4,395.3 C357.8,399.9 354.2,405.4 350.0,410.0 C345.8,414.6 340.8,418.5 335.0,423.0 C329.2,427.5 322.2,432.7 315.0,437.0 C307.8,441.3 301.2,446.0 292.0,449.0 C282.8,452.0 270.3,453.3 260.0,455.0 C249.7,456.7 241.7,458.2 230.0,459.0 C218.3,459.8 205.0,459.8 190.0,460.0 C175.0,460.2 153.8,460.7 140.0,460.0 C126.2,459.3 115.8,458.7 106.9,456.0Z" stroke="#a48db3" stroke-width="1.6"/>
<path d="M109.4,455.0 C102.2,452.3 101.4,448.1 96.7,443.7 C92.0,439.3 86.5,435.2 81.4,428.4 C76.3,421.6 70.6,411.5 66.1,403.0 C61.6,394.5 58.0,386.0 54.6,377.5 C51.2,369.0 48.2,360.5 45.7,352.0 C43.2,343.5 40.6,335.0 39.3,326.5 C38.0,318.0 38.6,310.4 38.0,301.0 C37.4,291.6 35.6,280.2 35.4,270.0 C35.2,259.8 36.2,248.2 36.7,240.0 C37.2,231.8 37.5,226.2 38.4,221.1 C39.3,216.0 40.5,213.4 41.9,209.5 C43.2,205.6 45.1,201.8 46.5,197.9 C47.9,194.1 48.5,190.2 50.0,186.4 C51.5,182.6 53.7,178.7 55.8,174.8 C57.9,170.9 59.7,167.1 62.8,163.2 C65.9,159.3 70.9,154.6 74.3,151.6 C77.7,148.6 80.0,147.6 83.4,145.1 C86.8,142.6 90.8,139.0 94.5,136.8 C98.2,134.6 101.9,133.1 105.6,131.9 C109.3,130.7 112.2,130.6 116.8,129.8 C121.4,129.0 128.8,128.2 133.4,127.0 C138.0,125.8 140.9,124.8 144.6,122.9 C148.3,121.1 151.5,117.8 155.7,115.9 C159.9,114.0 164.6,113.1 170.0,111.7 C175.4,110.3 181.7,108.6 188.4,107.7 C195.1,106.8 202.2,106.8 210.0,106.5 C217.8,106.2 227.0,105.8 235.5,106.0 C244.0,106.2 252.5,106.6 261.0,107.7 C269.5,108.8 278.0,110.5 286.5,112.8 C295.0,115.1 306.4,119.8 312.0,121.8 C317.6,123.8 316.7,123.0 320.0,124.6 C323.3,126.2 327.7,129.1 331.6,131.6 C335.5,134.1 339.3,137.0 343.2,139.7 C347.1,142.4 351.3,145.1 354.8,147.8 C358.3,150.5 361.1,153.2 364.0,155.9 C366.9,158.6 369.8,161.5 372.1,164.0 C374.4,166.5 376.0,168.3 377.9,171.0 C379.8,173.7 382.1,176.8 383.7,180.3 C385.2,183.8 386.2,187.4 387.2,191.8 C388.2,196.2 389.1,201.7 389.5,206.9 C389.9,212.1 389.5,215.7 389.6,223.2 C389.7,230.7 390.6,243.4 390.2,252.1 C389.8,260.8 388.8,267.4 387.3,275.3 C385.9,283.2 383.9,292.4 381.5,299.6 C379.1,306.9 376.2,310.1 373.1,318.8 C370.0,327.5 365.4,342.2 362.9,352.0 C360.3,361.8 359.5,369.0 357.8,377.5 C356.1,386.0 354.8,396.8 352.7,403.0 C350.6,409.2 348.3,411.3 345.0,415.0 C341.7,418.7 338.0,421.3 333.0,425.0 C328.0,428.7 321.8,433.0 315.0,437.0 C308.2,441.0 301.2,445.8 292.0,449.0 C282.8,452.2 270.3,454.3 260.0,456.0 C249.7,457.7 241.7,458.3 230.0,459.0 C218.3,459.7 205.0,459.8 190.0,460.0 C175.0,460.2 153.4,460.8 140.0,460.0 C126.6,459.2 116.6,457.7 109.4,455.0Z" stroke="#9070a0" stroke-width="1.7"/>
<path d="M110.7,455.0 C104.5,452.3 105.8,449.0 103.0,443.7 C100.2,438.4 97.3,430.1 94.1,423.3 C90.9,416.5 87.5,410.6 83.9,403.0 C80.3,395.4 75.9,386.0 72.5,377.5 C69.1,369.0 66.3,360.5 63.5,352.0 C60.7,343.5 58.0,335.0 55.9,326.5 C53.8,318.0 52.1,309.5 50.8,301.0 C49.5,292.5 48.8,285.7 48.2,275.5 C47.6,265.3 47.0,247.9 47.1,240.0 C47.2,232.1 48.0,232.8 48.9,228.1 C49.8,223.4 50.8,216.8 52.3,211.8 C53.8,206.8 56.0,202.5 58.1,197.9 C60.2,193.3 62.4,188.1 65.1,184.0 C67.8,179.9 70.9,176.9 74.4,173.6 C77.9,170.3 82.0,167.0 85.9,164.3 C89.8,161.6 93.3,159.2 98.0,157.4 C102.7,155.6 108.1,154.7 114.0,153.5 C119.9,152.3 127.4,151.3 133.4,150.0 C139.4,148.7 144.0,147.8 150.1,145.8 C156.2,143.8 163.6,139.9 170.0,138.2 C176.4,136.5 181.7,136.4 188.4,135.8 C195.1,135.2 203.8,134.9 210.0,134.5 C216.2,134.1 218.9,132.8 225.3,133.2 C231.7,133.6 240.1,135.6 248.2,137.1 C256.3,138.6 265.2,140.1 273.7,142.2 C282.2,144.3 291.5,148.0 299.2,149.8 C306.9,151.6 314.6,151.4 320.0,153.0 C325.4,154.6 327.7,157.4 331.6,159.4 C335.5,161.4 339.3,162.9 343.2,165.2 C347.1,167.5 351.3,170.6 354.8,173.3 C358.3,176.0 361.3,178.3 364.0,181.4 C366.7,184.5 369.1,188.5 371.0,191.8 C372.9,195.1 374.2,197.6 375.6,201.1 C377.0,204.6 377.9,207.1 379.1,212.7 C380.3,218.3 382.3,226.3 382.7,234.8 C383.1,243.3 382.3,256.0 381.5,263.7 C380.7,271.4 379.6,275.1 378.0,281.1 C376.4,287.1 374.7,294.2 372.2,299.6 C369.7,305.0 366.6,305.8 362.9,313.7 C359.2,321.6 352.8,336.3 350.2,346.9 C347.6,357.5 348.9,365.6 347.6,377.5 C346.3,389.4 345.4,409.8 342.5,418.2 C339.6,426.6 334.6,424.7 330.0,428.0 C325.4,431.3 321.3,434.3 315.0,438.0 C308.7,441.7 301.2,447.0 292.0,450.0 C282.8,453.0 270.3,454.5 260.0,456.0 C249.7,457.5 241.7,458.3 230.0,459.0 C218.3,459.7 205.0,459.8 190.0,460.0 C175.0,460.2 153.2,460.8 140.0,460.0 C126.8,459.2 116.9,457.7 110.7,455.0Z" stroke="#7a4f87" stroke-width="1.8"/>
<path d="M112.0,455.0 C106.0,452.3 106.2,449.0 104.3,443.7 C102.4,438.4 102.2,430.1 100.5,423.3 C98.8,416.5 96.4,410.6 94.1,403.0 C91.8,395.4 89.0,386.0 86.5,377.5 C84.0,369.0 81.3,361.4 78.8,352.0 C76.2,342.6 73.0,330.1 71.2,321.4 C69.4,312.7 68.8,307.6 68.0,300.0 C67.2,292.4 66.6,283.8 66.1,275.5 C65.6,267.2 65.3,255.9 65.1,250.0 C64.9,244.1 64.9,243.7 65.1,240.0 C65.3,236.3 65.4,232.2 66.2,228.1 C67.0,224.0 68.0,219.6 69.7,215.3 C71.5,211.1 74.0,206.5 76.7,202.6 C79.4,198.7 82.4,195.2 85.9,192.1 C89.5,189.0 95.2,185.8 98.0,184.0 C100.8,182.2 99.8,182.5 102.9,181.3 C106.0,180.2 111.7,178.5 116.8,177.1 C121.9,175.7 127.4,174.1 133.4,172.9 C139.4,171.7 146.8,171.2 152.9,170.1 C159.0,168.9 164.1,167.1 170.0,166.0 C175.9,164.9 181.7,164.4 188.4,163.8 C195.1,163.2 202.2,162.6 210.0,162.6 C217.8,162.6 227.0,162.8 235.5,163.8 C244.0,164.9 252.5,167.0 261.0,168.9 C269.5,170.8 278.0,172.5 286.5,175.3 C295.0,178.1 306.4,183.3 312.0,185.5 C317.6,187.7 316.7,187.0 320.0,188.4 C323.3,189.8 327.7,191.9 331.6,194.2 C335.5,196.5 340.1,199.6 343.2,202.3 C346.3,205.0 348.2,207.5 350.1,210.4 C352.0,213.3 353.0,215.9 354.8,220.0 C356.6,224.1 359.4,230.4 360.7,234.8 C362.0,239.2 362.2,240.5 362.4,246.3 C362.6,252.1 362.5,262.7 361.8,269.5 C361.1,276.3 359.6,281.9 358.3,286.9 C357.1,291.9 356.1,295.1 354.3,299.6 C352.5,304.1 350.8,305.8 347.6,313.7 C344.4,321.6 337.2,336.3 334.9,346.9 C332.6,357.5 334.2,364.3 333.6,377.5 C333.0,390.7 333.7,416.1 331.1,425.9 C328.5,435.6 324.0,432.1 318.0,436.0 C312.0,439.9 304.7,445.7 295.0,449.0 C285.3,452.3 270.8,454.3 260.0,456.0 C249.2,457.7 241.7,458.3 230.0,459.0 C218.3,459.7 205.0,459.8 190.0,460.0 C175.0,460.2 153.0,460.8 140.0,460.0 C127.0,459.2 118.0,457.7 112.0,455.0Z" stroke="#733f7b" stroke-width="1.9"/>
<path d="M112.0,455.0 C106.3,452.4 107.1,448.1 105.6,443.7 C104.1,439.3 103.6,436.5 103.0,428.4 C102.4,420.3 102.6,405.9 101.8,395.3 C101.0,384.7 99.2,376.2 97.9,364.7 C96.6,353.2 95.1,341.4 94.1,326.5 C93.0,311.6 92.0,288.2 91.6,275.5 C91.2,262.8 91.7,255.9 91.7,250.0 C91.7,244.1 91.5,242.3 91.7,240.0 C91.9,237.7 91.9,237.8 92.9,236.2 C94.0,234.6 96.1,232.5 98.0,230.4 C99.9,228.3 100.3,226.5 104.3,223.7 C108.3,220.9 115.4,216.1 122.2,213.5 C129.0,210.9 136.2,210.0 145.1,208.4 C154.0,206.8 164.2,204.2 175.7,203.8 C187.2,203.4 203.9,205.3 213.9,205.9 C223.9,206.5 227.7,205.9 235.5,207.2 C243.3,208.5 251.9,210.7 261.0,213.5 C270.1,216.3 283.4,221.7 290.0,224.3 C296.6,226.9 296.5,227.4 300.4,229.0 C304.3,230.6 309.3,231.7 313.2,233.6 C317.1,235.5 320.9,238.0 323.6,240.5 C326.3,243.0 327.8,245.3 329.4,248.6 C331.0,251.9 332.7,254.8 333.4,260.2 C334.1,265.6 333.7,274.5 333.4,281.1 C333.1,287.7 332.7,292.0 331.7,299.6 C330.7,307.2 328.2,313.5 327.3,326.5 C326.4,339.5 326.4,360.9 326.0,377.5 C325.6,394.1 326.5,416.0 324.7,425.9 C322.9,435.8 319.9,433.3 315.0,437.0 C310.1,440.7 304.2,445.0 295.0,448.0 C285.8,451.0 270.8,453.3 260.0,455.0 C249.2,456.7 241.7,457.3 230.0,458.0 C218.3,458.7 205.0,458.8 190.0,459.0 C175.0,459.2 153.0,459.7 140.0,459.0 C127.0,458.3 117.7,457.6 112.0,455.0Z" stroke="#6a2f6d" stroke-width="1.9"/>
<path d="M104.0,252.2 Q104.0,244.2 112.0,244.2 L200.0,243.7 L311.0,246.7 Q319.0,247.2 319.0,255.2 L319.0,426 Q317.0,434 314,438 L300,446 L288,451 L260,456.5 L200,458.5 L120,457.5 Q104.0,456 104.0,446 Z" stroke="#6c2f6e" stroke-width="1.8"/>
<path d="M108.0,250.0 Q108.0,242.0 116.0,242.0 L200.0,241.5 L313.5,244.5 Q321.5,245.0 321.5,253.0 L321.5,426 Q319.5,434 314,438 L300,446 L288,451 L260,456.5 L200,458.5 L120,457.5 Q108.0,456 108.0,446 Z" stroke="#66266a" stroke-width="1.8"/>
<path d="M106.0,251.0 Q106.0,243.0 114.0,243.0 L200.0,242.5 L312.5,245.5 Q320.5,246.0 320.5,254.0 L320.5,426 Q318.5,434 314,438 L300,446 L288,451 L260,456.5 L200,458.5 L120,457.5 Q106.0,456 106.0,446 Z" stroke="#5c1a5c" stroke-width="1.8"/>
</g>
<g fill="none" stroke-linejoin="round" stroke-linecap="round">
<path d="M475.1,240.0 C475.7,230.4 476.2,213.1 477.4,202.2 C478.6,191.3 480.6,182.1 482.1,174.4 C483.7,166.7 484.4,161.3 486.7,155.9 C489.0,150.5 491.4,145.9 496.0,142.0 C500.6,138.1 507.6,135.0 514.5,132.7 C521.5,130.4 529.6,129.8 537.7,128.1 C545.8,126.4 557.0,122.3 563.2,122.3 C569.4,122.3 570.5,126.4 574.8,128.1 C579.0,129.8 583.3,133.1 588.7,132.7 C594.1,132.3 601.4,128.0 607.2,125.7 C613.0,123.4 617.1,120.0 623.4,118.8 C629.7,117.6 638.1,119.6 645.0,118.8 C651.9,118.0 657.6,115.5 664.8,114.2 C671.9,112.9 680.2,111.1 687.9,110.7 C695.6,110.3 705.8,111.6 711.1,111.8 C716.5,112.0 715.8,110.3 720.0,112.0 C724.2,113.7 730.8,118.5 736.2,121.7 C741.6,124.9 747.1,128.4 752.5,131.4 C757.9,134.4 763.8,136.8 768.7,139.5 C773.6,142.2 777.9,146.9 781.7,147.7 C785.5,148.5 788.7,146.0 791.4,144.4 C794.1,142.8 795.5,138.7 797.9,137.9 C800.3,137.1 803.3,136.8 806.0,139.5 C808.7,142.2 811.5,149.9 814.2,154.2 C816.9,158.5 820.1,160.9 822.3,165.5 C824.4,170.1 825.8,176.1 827.1,181.8 C828.5,187.6 828.9,190.3 830.4,200.0 C831.9,209.7 834.4,226.7 836.0,240.0 C837.6,253.3 839.7,266.7 840.0,280.0 C840.3,293.3 839.3,308.3 838.0,320.0 C836.7,331.7 835.0,340.0 832.0,350.0 C829.0,360.0 824.5,370.3 820.0,380.0 C815.5,389.7 810.8,399.7 805.0,408.0 C799.2,416.3 792.5,423.3 785.0,430.0 C777.5,436.7 769.2,443.7 760.0,448.0 C750.8,452.3 748.3,454.2 730.0,456.0 C711.7,457.8 678.3,458.3 650.0,459.0 C621.7,459.7 578.9,460.6 560.0,460.0 C541.1,459.4 543.0,458.4 536.8,455.3 C530.6,452.2 528.0,447.4 522.9,441.4 C517.8,435.4 511.8,428.9 506.2,419.2 C500.6,409.5 494.1,396.0 489.5,383.0 C484.9,370.0 480.9,357.5 478.4,341.3 C475.8,325.1 475.0,299.2 474.2,285.6 C473.4,272.0 473.6,267.5 473.8,259.9 C474.0,252.3 474.5,249.6 475.1,240.0Z" stroke="#c3d8da" stroke-width="1.6"/>
<path d="M488.0,300.0 C487.7,281.7 486.7,264.2 487.0,250.0 C487.3,235.8 488.3,225.0 490.0,215.0 C491.7,205.0 494.2,197.2 497.0,190.0 C499.8,182.8 502.3,177.3 507.0,172.0 C511.7,166.7 517.8,162.5 525.0,158.0 C532.2,153.5 540.8,148.0 550.0,145.0 C559.2,142.0 570.0,141.5 580.0,140.0 C590.0,138.5 601.7,138.2 610.0,136.0 C618.3,133.8 620.9,129.0 630.0,126.9 C639.1,124.8 653.2,124.8 664.8,123.4 C676.4,122.1 689.9,119.0 699.5,118.8 C709.1,118.6 715.2,121.0 722.7,122.3 C730.2,123.6 736.7,124.3 744.4,126.6 C752.1,128.9 763.0,132.8 768.7,136.3 C774.4,139.8 774.3,146.3 778.4,147.7 C782.5,149.0 789.3,143.9 793.1,144.4 C796.9,144.9 798.2,147.7 801.2,150.9 C804.2,154.2 807.9,159.3 810.9,163.9 C813.9,168.5 816.8,172.5 819.0,178.5 C821.2,184.5 822.7,189.8 823.9,200.0 C825.1,210.2 825.1,226.7 826.0,240.0 C826.9,253.3 829.0,266.7 829.0,280.0 C829.0,293.3 827.8,308.3 826.0,320.0 C824.2,331.7 821.0,340.0 818.0,350.0 C815.0,360.0 812.3,370.3 808.0,380.0 C803.7,389.7 798.0,399.7 792.0,408.0 C786.0,416.3 779.0,423.7 772.0,430.0 C765.0,436.3 762.0,441.8 750.0,446.0 C738.0,450.2 716.7,453.2 700.0,455.0 C683.3,456.8 673.3,456.5 650.0,457.0 C626.7,457.5 580.0,458.8 560.0,458.0 C540.0,457.2 538.0,456.7 530.0,452.0 C522.0,447.3 517.7,438.7 512.0,430.0 C506.3,421.3 499.8,411.7 496.0,400.0 C492.2,388.3 490.3,376.7 489.0,360.0 C487.7,343.3 488.3,318.3 488.0,300.0Z" stroke="#b2cccc" stroke-width="1.6"/>
<path d="M502.5,290.0 C502.8,285.7 501.9,271.1 502.5,259.9 C503.1,248.7 504.0,233.9 506.2,222.8 C508.4,211.7 512.4,201.2 515.5,193.1 C518.6,185.0 518.2,181.6 524.8,174.5 C531.4,167.4 545.8,154.8 555.0,150.4 C564.2,146.0 571.7,148.6 580.0,148.0 C588.3,147.4 596.7,146.8 605.0,147.0 C613.3,147.2 622.0,148.2 630.0,148.9 C638.0,149.6 645.5,151.6 653.2,151.2 C660.9,150.8 668.6,147.9 676.3,146.6 C684.0,145.2 692.2,143.5 699.5,143.1 C706.8,142.7 713.9,143.1 720.0,144.4 C726.1,145.7 730.8,148.2 736.2,150.9 C741.6,153.6 747.1,157.3 752.5,160.6 C757.9,163.8 763.3,168.8 768.7,170.4 C774.1,172.0 780.6,169.1 784.9,170.4 C789.2,171.8 791.5,174.7 794.7,178.5 C798.0,182.3 801.4,187.0 804.4,193.1 C807.4,199.2 810.9,208.5 813.0,215.0 C815.1,221.5 815.8,224.8 817.3,232.0 C818.8,239.2 820.2,249.3 822.0,258.0 C823.8,266.7 827.3,275.3 828.0,284.0 C828.7,292.7 827.3,302.3 826.0,310.0 C824.7,317.7 822.3,323.3 820.0,330.0 C817.7,336.7 814.5,343.0 812.0,350.0 C809.5,357.0 807.8,364.5 805.0,372.0 C802.2,379.5 799.2,387.3 795.0,395.0 C790.8,402.7 785.5,411.0 780.0,418.0 C774.5,425.0 768.7,432.0 762.0,437.0 C755.3,442.0 750.3,445.3 740.0,448.0 C729.7,450.7 715.0,451.7 700.0,453.0 C685.0,454.3 673.3,455.5 650.0,456.0 C626.7,456.5 581.2,458.0 560.0,456.0 C538.8,454.0 531.4,450.3 522.9,444.2 C514.4,438.1 512.7,429.4 509.0,419.2 C505.3,409.0 502.2,396.0 500.6,383.0 C499.0,370.0 499.2,357.5 499.2,341.3 C499.2,325.1 500.1,294.2 500.6,285.6 C501.2,277.1 502.2,294.3 502.5,290.0Z" stroke="#9dbdb6" stroke-width="1.6"/>
<path d="M512.7,290.0 C513.2,281.1 512.8,269.6 513.6,259.9 C514.4,250.2 515.5,240.3 517.4,232.0 C519.3,223.7 522.4,216.0 524.8,209.8 C527.2,203.6 529.3,199.8 532.0,195.0 C534.7,190.2 537.2,185.2 541.0,181.0 C544.8,176.8 550.0,173.3 555.0,170.0 C560.0,166.7 565.7,162.7 571.0,161.0 C576.3,159.3 579.2,159.9 587.0,160.0 C594.8,160.1 610.5,159.7 618.0,161.5 C625.5,163.3 628.5,169.0 632.0,171.0 C635.5,173.0 636.1,174.1 639.0,173.5 C641.9,172.9 646.0,169.4 649.5,167.7 C653.0,166.0 655.6,164.0 660.0,163.5 C664.4,163.0 669.3,165.8 676.0,164.6 C682.7,163.4 692.7,157.8 700.0,156.3 C707.3,154.8 712.6,154.8 720.0,155.8 C727.4,156.8 736.3,158.8 744.4,162.3 C752.5,165.8 762.0,173.7 768.7,176.9 C775.5,180.2 780.6,179.4 784.9,181.8 C789.2,184.2 791.7,186.8 794.7,191.5 C797.7,196.2 800.7,203.2 803.0,210.0 C805.3,216.8 806.8,224.1 808.6,232.1 C810.4,240.1 811.3,250.9 813.9,258.2 C816.5,265.4 822.0,269.8 824.3,275.6 C826.6,281.4 828.4,287.1 827.8,292.9 C827.2,298.7 823.1,304.1 820.8,310.3 C818.5,316.5 816.0,324.0 813.9,330.0 C811.8,336.0 810.6,339.1 808.3,346.1 C806.0,353.1 803.0,363.9 800.0,372.0 C797.0,380.1 793.7,387.3 790.0,395.0 C786.3,402.7 782.2,411.2 778.0,418.0 C773.8,424.8 770.5,431.0 765.0,436.0 C759.5,441.0 755.8,445.3 745.0,448.0 C734.2,450.7 715.8,451.0 700.0,452.0 C684.2,453.0 673.3,453.7 650.0,454.0 C626.7,454.3 581.2,456.2 560.0,454.0 C538.8,451.8 530.9,448.2 522.9,441.0 C514.9,433.8 514.4,422.8 511.8,410.8 C509.2,398.8 507.8,385.3 507.6,369.1 C507.4,352.9 509.5,326.6 510.4,313.4 C511.2,300.2 512.2,298.9 512.7,290.0Z" stroke="#86ac9f" stroke-width="1.6"/>
<path d="M526.0,240.0 C526.7,236.7 528.5,226.2 530.0,220.0 C531.5,213.8 532.0,208.2 535.0,203.0 C538.0,197.8 543.7,193.2 548.0,189.0 C552.3,184.8 555.3,181.0 561.0,178.0 C566.7,175.0 576.0,172.2 582.0,171.0 C588.0,169.8 591.0,170.8 597.0,171.0 C603.0,171.2 612.2,170.7 618.0,172.0 C623.8,173.3 626.7,178.5 632.0,179.0 C637.3,179.5 642.7,175.7 650.0,175.0 C657.3,174.3 667.7,175.7 676.0,175.0 C684.3,174.3 692.7,172.0 700.0,171.0 C707.3,170.0 712.5,168.7 720.0,169.0 C727.5,169.3 737.0,171.0 745.0,173.0 C753.0,175.0 761.3,178.7 768.0,181.0 C774.7,183.3 780.2,184.3 785.0,187.0 C789.8,189.7 794.0,192.3 797.0,197.0 C800.0,201.7 802.0,212.0 803.0,215.0" stroke="#7aa393" stroke-width="1.5"/>
<path d="M536.0,451.0 C531.4,448.2 528.0,444.9 521.9,439.7 C515.8,434.6 506.0,427.2 499.5,420.2 C493.0,413.2 487.9,406.1 482.7,397.7 C477.6,389.3 472.4,379.0 468.6,369.7 C464.9,360.3 462.3,351.0 460.2,341.6 C458.1,332.3 456.6,322.1 456.0,313.5 C455.4,304.9 456.7,299.0 456.5,290.0 C456.3,281.1 455.1,269.6 454.6,260.0 C454.1,250.3 454.0,240.1 453.7,232.1 C453.4,224.0 452.0,218.0 452.8,211.4 C453.6,204.9 456.2,199.2 458.4,192.6 C460.6,186.1 463.4,179.0 465.9,172.2 C468.4,165.4 470.2,158.9 473.3,151.7 C476.4,144.5 480.2,136.0 484.5,129.2 C488.9,122.4 494.7,116.2 499.5,110.8 C504.3,105.4 508.0,101.8 513.5,96.8 C518.9,91.8 526.3,85.2 532.2,80.5 C538.0,75.9 543.1,72.1 548.5,68.8 C554.0,65.5 559.1,62.7 565.0,60.6 C570.8,58.4 576.7,57.5 583.7,55.9 C590.7,54.4 599.9,52.6 606.9,51.2 C613.9,49.9 619.3,48.7 625.6,47.8 C631.9,46.9 638.4,46.4 644.9,46.0 C651.5,45.6 657.7,44.8 664.9,45.5 C672.2,46.2 680.5,48.6 688.2,50.1 C695.9,51.7 704.4,53.3 711.4,54.7 C718.4,56.2 724.7,55.8 730.4,58.7 C736.0,61.5 740.2,67.2 745.4,71.9 C750.6,76.5 756.8,81.7 761.7,86.5 C766.5,91.4 770.7,96.6 774.7,101.2 C778.8,105.8 782.3,109.2 786.1,114.3 C789.9,119.4 793.1,126.9 797.4,132.0 C801.8,137.1 807.9,140.8 812.0,144.9 C816.0,149.0 819.1,151.9 821.9,156.6 C824.7,161.3 826.3,166.0 828.5,173.2 C830.7,180.3 832.6,190.4 835.0,199.6 C837.5,208.8 841.2,219.4 843.2,228.3 C845.1,237.2 845.9,243.6 846.6,252.9 C847.3,262.2 847.5,273.0 847.5,284.2 C847.5,295.4 846.5,311.1 846.3,320.0 C846.1,328.9 846.9,331.7 846.3,337.6 C845.7,343.4 844.5,349.4 842.7,355.2 C841.0,361.1 838.6,366.4 835.7,372.8 C832.7,379.3 829.5,387.1 825.2,393.8 C820.8,400.6 815.5,406.8 809.4,413.2 C803.3,419.7 794.8,426.9 788.4,432.4 C781.9,438.0 777.5,442.7 770.7,446.5 C763.9,450.3 759.4,453.4 747.6,455.4 C735.9,457.4 716.3,457.8 700.1,458.5 C683.8,459.2 666.7,459.3 650.0,459.5 C633.3,459.7 616.7,460.0 600.0,459.5 C583.3,459.0 560.5,457.9 549.8,456.5 C539.1,455.1 540.7,453.8 536.0,451.0Z" stroke="#c8cfe2" stroke-width="1.4"/>
<path d="M536.8,449.7 C532.3,447.0 528.9,443.7 522.9,438.6 C516.9,433.5 507.1,426.1 500.6,419.2 C494.1,412.2 489.1,405.2 484.0,396.9 C478.9,388.5 473.7,378.4 470.0,369.1 C466.3,359.8 463.8,350.6 461.7,341.3 C459.6,332.0 458.1,321.9 457.5,313.4 C456.9,304.8 458.2,298.9 458.0,290.0 C457.8,281.1 456.6,269.6 456.1,259.9 C455.6,250.2 455.5,240.1 455.2,232.0 C454.9,223.9 453.5,218.1 454.3,211.6 C455.1,205.1 457.6,199.6 459.8,193.1 C462.0,186.6 464.8,179.5 467.3,172.7 C469.8,165.9 471.6,159.4 474.7,152.3 C477.8,145.2 481.5,136.8 485.8,130.0 C490.1,123.2 495.8,117.1 500.6,111.8 C505.4,106.5 509.1,102.9 514.5,97.9 C519.9,92.9 527.3,86.3 533.1,81.7 C538.9,77.1 543.9,73.4 549.3,70.1 C554.7,66.8 559.7,64.1 565.5,62.0 C571.3,59.9 577.0,58.9 584.0,57.4 C591.0,55.9 600.2,54.1 607.2,52.7 C614.2,51.4 619.5,50.2 625.8,49.3 C632.1,48.4 638.5,47.9 645.0,47.5 C651.5,47.1 657.6,46.3 664.8,47.0 C671.9,47.7 680.2,50.1 687.9,51.6 C695.6,53.1 704.1,54.8 711.1,56.2 C718.1,57.6 724.2,57.2 729.7,60.0 C735.2,62.8 739.2,68.4 744.4,73.0 C749.5,77.6 755.7,82.7 760.6,87.6 C765.5,92.5 769.6,97.6 773.6,102.2 C777.6,106.8 781.1,110.1 784.9,115.2 C788.7,120.3 792.0,127.9 796.3,133.0 C800.6,138.1 806.8,141.9 810.9,146.0 C815.0,150.1 817.9,152.8 820.6,157.4 C823.3,162.0 824.9,166.5 827.1,173.6 C829.3,180.7 831.2,190.8 833.6,200.0 C836.0,209.2 839.8,219.8 841.7,228.6 C843.6,237.4 844.4,243.7 845.1,253.0 C845.8,262.3 846.0,273.0 846.0,284.2 C846.0,295.4 845.0,311.1 844.8,320.0 C844.6,328.9 845.4,331.6 844.8,337.4 C844.2,343.2 843.0,349.0 841.3,354.8 C839.5,360.6 837.2,365.8 834.3,372.2 C831.4,378.6 828.2,386.3 823.9,393.0 C819.6,399.7 814.4,405.8 808.3,412.2 C802.2,418.6 793.8,425.8 787.4,431.3 C781.0,436.8 776.7,441.4 770.0,445.2 C763.3,449.0 759.1,451.9 747.4,453.9 C735.7,455.9 716.2,456.3 700.0,457.0 C683.8,457.7 666.7,457.8 650.0,458.0 C633.3,458.2 616.7,458.5 600.0,458.0 C583.3,457.5 560.5,456.4 550.0,455.0 C539.5,453.6 541.3,452.4 536.8,449.7Z" stroke="#a084ae" stroke-width="1.6"/>
<path d="M525.7,438.6 C520.6,433.5 512.2,426.1 506.2,419.2 C500.2,412.2 494.6,405.2 489.5,396.9 C484.4,388.5 479.5,378.4 475.6,369.1 C471.7,359.8 468.4,350.6 465.9,341.3 C463.3,332.0 461.9,321.9 460.3,313.4 C458.7,304.8 456.8,298.9 456.1,290.0 C455.4,281.1 455.9,269.2 456.1,259.9 C456.3,250.5 456.5,240.7 457.1,233.9 C457.7,227.1 458.4,224.7 459.8,219.1 C461.2,213.5 463.2,207.3 465.4,200.5 C467.6,193.7 470.0,184.7 472.8,178.2 C475.6,171.7 478.4,167.1 482.1,161.5 C485.8,155.9 490.5,150.1 495.1,144.8 C499.7,139.6 504.7,134.7 509.9,130.0 C515.1,125.3 520.7,120.3 526.1,116.5 C531.5,112.7 536.5,110.1 542.3,107.2 C548.1,104.3 553.9,101.6 560.9,99.1 C567.9,96.6 576.3,93.8 584.0,92.1 C591.7,90.4 599.5,90.4 607.2,88.7 C614.9,87.0 620.4,83.5 630.0,81.7 C639.6,80.0 653.2,78.4 664.8,78.2 C676.4,78.0 690.3,79.0 699.5,80.6 C708.7,82.2 713.9,85.3 720.0,87.6 C726.1,89.8 730.8,91.4 736.2,94.1 C741.6,96.8 747.6,100.3 752.5,103.8 C757.4,107.3 761.7,111.1 765.5,115.2 C769.3,119.3 771.4,123.6 775.2,128.2 C779.0,132.8 784.4,138.2 788.2,142.8 C792.0,147.4 794.6,151.2 797.9,155.8 C801.1,160.4 804.7,165.8 807.7,170.4 C810.7,175.0 813.4,178.5 815.8,183.4 C818.2,188.3 819.7,193.3 822.3,200.0 C824.9,206.7 828.9,215.2 831.2,223.4 C833.6,231.7 835.4,239.4 836.4,249.5 C837.4,259.6 837.6,272.4 837.3,284.2 C836.9,295.9 835.1,311.1 834.3,320.0 C833.5,328.9 833.5,330.1 832.6,337.4 C831.7,344.6 831.1,355.4 829.1,363.5 C827.1,371.6 823.9,378.9 820.4,386.1 C816.9,393.4 813.2,400.6 808.3,407.0 C803.4,413.4 796.7,419.1 790.9,424.3 C785.1,429.5 779.3,434.2 773.5,438.3 C767.7,442.4 761.7,446.4 756.1,448.7 C750.5,451.0 749.4,450.9 740.0,452.0 C730.6,453.1 715.0,454.3 700.0,455.0 C685.0,455.7 666.7,455.8 650.0,456.0 C633.3,456.2 616.7,456.2 600.0,456.0 C583.3,455.8 560.5,456.0 550.0,455.0 C539.5,454.0 541.0,452.7 537.0,450.0 C533.0,447.3 530.8,443.7 525.7,438.6Z" stroke="#8a6598" stroke-width="1.6"/>
<path d="M537.0,452.0 C533.4,449.9 532.7,446.4 528.5,441.4 C524.3,436.4 517.4,429.3 511.8,421.9 C506.2,414.5 500.2,405.7 495.1,396.9 C490.0,388.1 485.4,378.4 481.2,369.1 C477.0,359.8 473.0,350.6 470.0,341.3 C467.0,332.0 464.8,321.9 463.1,313.4 C461.4,304.8 460.9,298.9 460.0,290.0 C459.1,281.1 458.0,269.6 458.0,259.9 C458.0,250.2 458.6,239.7 459.8,232.0 C461.0,224.3 463.2,220.0 465.4,213.5 C467.6,207.0 470.0,199.9 472.8,193.1 C475.6,186.3 478.1,179.2 482.1,172.7 C486.1,166.2 491.4,159.7 497.0,154.1 C502.6,148.5 509.9,143.3 515.5,139.3 C521.0,135.3 524.7,133.6 530.3,130.0 C535.9,126.4 542.3,120.2 549.3,117.6 C556.3,115.0 564.8,115.7 572.5,114.2 C580.2,112.7 587.9,110.3 595.6,108.4 C603.3,106.5 613.1,103.8 618.8,102.6 C624.5,101.4 623.1,102.4 630.0,101.4 C636.9,100.4 650.5,97.4 660.1,96.8 C669.8,96.2 679.4,96.6 687.9,97.9 C696.4,99.2 705.8,103.1 711.1,104.9 C716.5,106.7 715.8,106.7 720.0,108.7 C724.2,110.7 730.8,113.5 736.2,116.8 C741.6,120.0 747.6,124.4 752.5,128.2 C757.4,132.0 761.7,135.4 765.5,139.5 C769.3,143.6 772.0,148.2 775.2,152.5 C778.4,156.8 781.9,161.2 784.9,165.5 C787.9,169.8 790.7,172.8 793.1,178.5 C795.5,184.2 796.9,193.1 799.5,200.0 C802.1,206.9 806.4,211.8 808.6,220.0 C810.9,228.2 812.0,238.8 813.0,249.5 C814.0,260.2 814.4,272.4 814.7,284.2 C815.0,295.9 815.5,309.7 815.0,320.0 C814.5,330.3 813.4,337.4 811.7,346.1 C810.0,354.8 807.4,364.4 804.8,372.2 C802.2,380.0 799.6,385.5 796.1,393.0 C792.6,400.5 788.5,410.4 783.9,417.4 C779.3,424.4 772.9,430.2 768.3,434.8 C763.7,439.4 760.8,442.7 756.1,445.2 C751.4,447.7 749.4,448.7 740.0,450.0 C730.6,451.3 715.0,452.2 700.0,453.0 C685.0,453.8 666.7,454.7 650.0,455.0 C633.3,455.3 616.7,455.2 600.0,455.0 C583.3,454.8 560.5,454.5 550.0,454.0 C539.5,453.5 540.6,454.1 537.0,452.0Z" stroke="#7a4d85" stroke-width="1.6"/>
<path d="M536.0,450.0 C532.9,448.1 534.3,446.5 531.2,441.4 C528.1,436.3 521.9,427.5 517.3,419.2 C512.7,410.9 507.6,402.0 503.4,391.3 C499.2,380.6 495.3,368.2 492.3,355.2 C489.3,342.2 486.7,324.3 485.3,313.4 C483.9,302.5 484.2,298.9 484.0,290.0 C483.8,281.1 483.7,268.6 484.0,259.9 C484.3,251.2 484.6,244.7 485.8,237.6 C487.0,230.5 489.2,223.4 491.4,217.2 C493.6,211.0 495.7,205.8 498.8,200.5 C501.9,195.2 505.9,190.0 509.9,185.7 C513.9,181.4 518.2,177.9 522.9,174.5 C527.5,171.1 532.4,168.6 537.8,165.3 C543.1,162.1 549.2,157.9 555.0,155.0 C560.8,152.1 565.7,150.0 572.5,147.8 C579.3,145.6 587.9,143.8 595.6,142.0 C603.3,140.2 613.1,138.5 618.8,137.3 C624.5,136.1 622.3,136.2 630.0,135.0 C637.7,133.8 655.1,131.4 664.8,130.4 C674.4,129.4 680.2,129.0 687.9,129.2 C695.6,129.4 705.8,130.4 711.1,131.5 C716.5,132.6 715.8,133.9 720.0,135.5 C724.2,137.1 730.8,138.6 736.2,141.2 C741.6,143.8 747.6,147.1 752.5,150.9 C757.4,154.7 761.7,159.6 765.5,163.9 C769.3,168.2 772.2,172.6 775.2,176.9 C778.2,181.2 781.1,186.1 783.3,189.9 C785.5,193.8 786.0,195.3 788.2,200.0 C790.4,204.7 794.7,209.9 796.5,218.2 C798.3,226.4 798.8,238.5 799.1,249.5 C799.4,260.5 798.5,270.8 798.2,284.2 C797.9,297.6 798.0,319.7 797.4,330.0 C796.8,340.3 795.7,339.1 794.3,346.1 C792.9,353.1 791.1,364.4 789.1,372.2 C787.1,380.0 784.5,386.3 782.2,393.0 C779.9,399.7 778.1,405.8 775.2,412.2 C772.3,418.6 768.6,426.4 764.8,431.3 C761.0,436.2 756.7,438.9 752.6,441.7 C748.5,444.5 748.8,446.3 740.0,448.0 C731.2,449.7 715.0,451.2 700.0,452.0 C685.0,452.8 666.7,452.7 650.0,453.0 C633.3,453.3 616.7,454.0 600.0,454.0 C583.3,454.0 560.7,453.7 550.0,453.0 C539.3,452.3 539.1,451.9 536.0,450.0Z" stroke="#77457f" stroke-width="1.7"/>
<path d="M534.0,449.0 C531.3,447.7 535.4,448.2 534.0,444.2 C532.6,440.1 528.5,433.5 525.7,424.7 C522.9,415.9 519.2,402.9 517.3,391.3 C515.4,379.7 515.0,368.2 514.5,355.2 C514.0,342.2 514.6,324.3 514.5,313.4 C514.4,302.5 513.1,298.9 513.6,290.0 C514.1,281.1 516.1,268.0 517.4,259.9 C518.6,251.8 519.9,247.5 521.1,241.3 C522.3,235.1 522.0,227.4 524.8,222.8 C527.6,218.2 532.6,216.2 537.8,213.5 C543.0,210.8 550.4,209.0 556.2,206.9 C562.0,204.8 565.9,203.0 572.5,201.1 C579.1,199.2 587.9,197.1 595.6,195.3 C603.3,193.6 613.1,192.2 618.8,190.6 C624.5,189.0 622.3,187.9 630.0,186.0 C637.7,184.1 655.1,180.2 664.8,179.0 C674.4,177.8 680.2,178.6 687.9,179.0 C695.6,179.4 705.8,180.7 711.1,181.4 C716.5,182.1 715.8,182.3 720.0,183.4 C724.2,184.5 730.8,186.0 736.2,188.2 C741.6,190.4 748.5,194.3 752.5,196.4 C756.5,198.5 757.3,198.6 760.0,200.8 C762.7,203.0 766.4,205.7 768.7,209.5 C771.0,213.3 772.6,216.7 773.9,223.4 C775.2,230.1 776.5,240.8 776.5,249.5 C776.5,258.2 775.0,266.9 773.9,275.6 C772.8,284.3 770.6,292.5 769.6,301.6 C768.6,310.7 768.4,321.1 767.8,330.0 C767.1,338.9 766.5,346.3 765.7,354.8 C764.9,363.3 764.0,372.2 763.0,380.9 C762.0,389.6 761.1,398.6 759.6,407.0 C758.1,415.4 756.3,425.5 754.3,431.3 C752.3,437.1 750.6,438.9 747.4,441.7 C744.2,444.5 742.9,446.4 735.0,448.0 C727.1,449.6 714.2,450.3 700.0,451.0 C685.8,451.7 666.7,451.7 650.0,452.0 C633.3,452.3 616.7,453.0 600.0,453.0 C583.3,453.0 561.0,452.7 550.0,452.0 C539.0,451.3 536.7,450.3 534.0,449.0Z" stroke="#6f3a74" stroke-width="1.7"/>
<path d="M534.5,443.4 C529.9,439.6 533.3,434.9 532.1,430.1 C531.0,425.3 529.1,419.8 527.5,414.5 C526.0,409.1 523.8,403.3 522.7,398.0 C521.6,392.6 521.2,389.4 521.0,382.3 C520.8,375.2 521.2,364.2 521.5,355.1 C521.8,346.0 522.1,336.6 522.5,327.6 C522.9,318.7 522.9,309.1 523.9,301.3 C524.9,293.6 527.5,290.1 528.4,281.0 C529.3,272.0 528.9,254.6 529.2,246.9 C529.6,239.3 529.8,238.9 530.6,235.2 C531.3,231.6 532.2,229.5 533.9,225.3 C535.6,221.1 539.1,214.5 540.8,210.0 C542.5,205.5 542.0,202.2 544.3,198.2 C546.7,194.3 551.2,190.3 554.9,186.5 C558.6,182.7 561.2,178.3 566.4,175.7 C571.6,173.0 580.7,170.9 586.3,170.5 C591.8,170.1 594.9,172.1 599.7,173.2 C604.4,174.3 610.0,175.9 614.9,177.2 C619.8,178.5 624.2,180.7 629.0,181.0 C633.8,181.3 639.5,179.8 643.6,179.1 C647.7,178.4 648.4,177.7 653.5,177.1 C658.7,176.4 666.8,176.1 674.4,175.1 C682.0,174.1 691.3,171.9 699.0,171.1 C706.7,170.2 713.8,169.8 720.5,170.0 C727.2,170.2 733.2,170.8 739.1,172.4 C745.1,174.1 750.5,177.6 756.2,179.7 C761.9,181.8 767.7,182.8 773.2,185.0 C778.7,187.1 784.4,189.0 789.2,192.6 C794.0,196.3 798.8,200.6 801.8,206.8 C804.9,213.1 806.2,222.1 807.6,230.3 C809.0,238.4 808.9,249.6 810.3,256.0 C811.8,262.4 813.6,264.3 816.2,268.8 C818.7,273.2 824.1,276.4 825.6,282.6 C827.0,288.8 826.6,299.7 824.7,306.1 C822.9,312.5 817.0,316.8 814.6,321.0 C812.1,325.2 810.8,328.3 810.1,331.1 C809.5,334.0 811.3,332.4 810.6,338.1 C809.9,343.8 808.1,355.7 805.9,365.4 C803.8,375.0 800.7,387.4 797.7,395.8 C794.6,404.2 791.3,409.3 787.6,415.8 C783.8,422.3 779.6,429.0 775.0,434.7 C770.3,440.4 767.2,446.8 759.8,449.8 C752.4,452.8 740.3,452.0 730.4,452.7 C720.5,453.4 713.5,453.6 700.1,454.0 C686.7,454.4 666.7,454.8 650.0,455.0 C633.3,455.2 615.0,455.3 599.9,455.0 C584.9,454.7 570.6,454.9 559.7,453.0 C548.8,451.1 539.1,447.2 534.5,443.4Z" stroke="#b3cfc8" stroke-width="1.3"/>
<path d="M534.3,443.7 C529.6,440.0 532.8,435.1 531.5,430.3 C530.3,425.5 528.3,420.1 526.7,414.8 C525.1,409.4 522.9,403.6 521.8,398.2 C520.6,392.8 520.1,389.6 519.9,382.4 C519.6,375.2 520.0,364.2 520.2,355.1 C520.5,345.9 520.8,336.5 521.2,327.6 C521.7,318.6 521.8,308.9 522.8,301.2 C523.8,293.4 526.4,290.0 527.3,280.9 C528.2,271.9 527.8,254.5 528.3,246.8 C528.7,239.2 529.0,238.6 529.9,235.0 C530.7,231.3 531.7,229.1 533.5,225.0 C535.3,220.8 538.9,214.4 540.8,210.0 C542.7,205.6 542.3,202.6 544.8,198.8 C547.3,195.1 551.9,191.2 555.6,187.5 C559.3,183.8 561.9,179.5 567.0,176.9 C572.1,174.3 580.9,172.3 586.3,171.9 C591.7,171.5 594.7,173.5 599.4,174.6 C604.1,175.7 609.7,177.1 614.6,178.4 C619.6,179.7 624.1,181.8 628.9,182.1 C633.8,182.4 639.7,180.9 643.8,180.2 C647.9,179.6 648.6,178.9 653.7,178.2 C658.8,177.5 667.0,177.2 674.6,176.2 C682.1,175.2 691.5,173.0 699.1,172.2 C706.8,171.3 713.8,170.9 720.4,171.1 C727.0,171.4 732.9,172.0 738.8,173.6 C744.7,175.3 750.1,178.8 755.7,180.9 C761.4,183.0 767.2,184.1 772.6,186.2 C778.0,188.4 783.6,190.3 788.3,193.8 C792.9,197.4 797.4,201.4 800.3,207.5 C803.3,213.6 804.6,222.4 806.0,230.5 C807.3,238.6 807.2,249.7 808.6,256.3 C810.0,262.8 811.9,265.1 814.4,269.6 C816.9,274.1 822.2,277.3 823.7,283.3 C825.1,289.2 824.7,299.3 822.9,305.5 C821.1,311.7 815.3,316.1 813.0,320.3 C810.6,324.6 809.3,328.1 808.7,331.0 C808.0,333.9 809.9,332.3 809.2,338.0 C808.5,343.7 806.8,355.6 804.7,365.1 C802.6,374.7 799.6,387.0 796.6,395.4 C793.6,403.8 790.4,408.8 786.7,415.3 C783.0,421.8 778.9,428.6 774.3,434.3 C769.8,439.9 766.9,446.2 759.5,449.2 C752.2,452.2 740.3,451.4 730.3,452.2 C720.4,452.9 713.5,453.2 700.1,453.6 C686.7,454.0 666.7,454.5 650.0,454.6 C633.3,454.8 615.0,455.0 599.9,454.6 C584.9,454.3 570.7,454.4 559.8,452.6 C548.8,450.8 539.0,447.4 534.3,443.7Z" stroke="#a2c1b8" stroke-width="1.3"/>
<path d="M534.1,444.0 C529.3,440.4 532.3,435.4 531.0,430.6 C529.6,425.7 527.6,420.4 525.9,415.1 C524.2,409.7 522.0,403.9 520.8,398.5 C519.6,393.0 519.0,389.7 518.7,382.5 C518.4,375.2 518.8,364.2 519.0,355.1 C519.2,345.9 519.5,336.5 520.0,327.5 C520.4,318.5 520.6,308.8 521.7,301.0 C522.7,293.2 525.3,289.8 526.2,280.8 C527.1,271.7 526.8,254.4 527.3,246.7 C527.8,239.0 528.2,238.4 529.2,234.7 C530.1,231.0 531.1,228.8 533.1,224.7 C535.0,220.6 538.8,214.2 540.8,210.0 C542.8,205.8 542.7,203.0 545.3,199.4 C547.9,195.9 552.7,192.1 556.4,188.5 C560.1,185.0 562.6,180.7 567.6,178.1 C572.6,175.6 581.2,173.6 586.4,173.3 C591.7,172.9 594.4,174.9 599.1,175.9 C603.8,177.0 609.4,178.4 614.4,179.6 C619.4,180.9 624.0,183.0 628.9,183.3 C633.8,183.5 639.8,182.0 644.0,181.3 C648.1,180.7 648.7,180.0 653.8,179.3 C658.9,178.6 667.1,178.3 674.7,177.3 C682.3,176.3 691.6,174.1 699.2,173.3 C706.9,172.5 713.8,172.0 720.4,172.3 C726.9,172.5 732.6,173.2 738.4,174.8 C744.2,176.5 749.7,179.9 755.3,182.0 C760.9,184.1 766.7,185.3 772.1,187.5 C777.4,189.6 782.9,191.5 787.3,195.0 C791.8,198.4 796.0,202.2 798.9,208.1 C801.7,214.1 803.0,222.7 804.4,230.7 C805.7,238.8 805.5,249.9 806.9,256.5 C808.2,263.2 810.1,265.9 812.6,270.5 C815.0,275.0 820.3,278.1 821.8,283.9 C823.2,289.6 822.9,299.0 821.1,305.0 C819.4,310.9 813.7,315.3 811.3,319.6 C809.0,324.0 807.7,327.8 807.2,330.9 C806.6,333.9 808.4,332.2 807.8,337.9 C807.2,343.6 805.5,355.4 803.5,364.9 C801.4,374.4 798.5,386.7 795.5,395.1 C792.6,403.4 789.4,408.4 785.8,414.9 C782.1,421.3 778.1,428.2 773.7,433.8 C769.3,439.5 766.5,445.7 759.3,448.6 C752.1,451.6 740.2,450.9 730.3,451.7 C720.4,452.5 713.5,452.8 700.1,453.2 C686.7,453.7 666.7,454.1 650.0,454.2 C633.3,454.4 615.0,454.6 600.0,454.2 C584.9,453.9 570.8,453.9 559.8,452.2 C548.8,450.5 538.9,447.6 534.1,444.0Z" stroke="#8fb1a5" stroke-width="1.3"/>
<path d="M533.9,444.4 C529.0,440.8 531.9,435.6 530.4,430.8 C528.9,426.0 526.8,420.8 525.1,415.4 C523.3,410.1 521.1,404.2 519.8,398.7 C518.6,393.2 518.0,389.8 517.6,382.6 C517.3,375.3 517.6,364.3 517.7,355.1 C517.9,345.9 518.3,336.4 518.7,327.4 C519.2,318.4 519.5,308.6 520.6,300.8 C521.6,293.0 524.1,289.7 525.1,280.7 C526.0,271.6 525.7,254.3 526.3,246.6 C526.8,238.9 527.4,238.1 528.5,234.4 C529.5,230.7 530.6,228.5 532.7,224.4 C534.7,220.3 538.6,214.1 540.8,210.0 C543.0,205.9 543.0,203.4 545.7,200.0 C548.4,196.6 553.4,192.9 557.1,189.5 C560.9,186.1 563.3,181.8 568.2,179.4 C573.1,176.9 581.4,175.0 586.5,174.6 C591.6,174.3 594.2,176.2 598.8,177.3 C603.4,178.3 609.2,179.7 614.2,180.9 C619.2,182.0 623.9,184.1 628.9,184.4 C633.9,184.6 640.0,183.1 644.1,182.4 C648.3,181.8 648.9,181.1 654.0,180.4 C659.1,179.8 667.3,179.4 674.9,178.4 C682.4,177.4 691.8,175.3 699.4,174.4 C706.9,173.6 713.9,173.1 720.3,173.4 C726.8,173.7 732.3,174.4 738.0,176.0 C743.8,177.7 749.2,181.1 754.8,183.2 C760.4,185.3 766.2,186.6 771.5,188.7 C776.8,190.9 782.1,192.8 786.4,196.1 C790.7,199.5 794.6,203.0 797.4,208.8 C800.1,214.6 801.4,222.9 802.7,231.0 C804.0,239.0 803.8,250.1 805.1,256.8 C806.5,263.5 808.3,266.7 810.7,271.3 C813.2,276.0 818.4,279.0 819.9,284.5 C821.3,290.0 821.0,298.7 819.3,304.4 C817.7,310.1 812.0,314.6 809.7,319.0 C807.5,323.3 806.2,327.6 805.7,330.7 C805.1,333.9 807.0,332.2 806.5,337.8 C805.9,343.5 804.2,355.2 802.2,364.7 C800.2,374.1 797.3,386.4 794.5,394.7 C791.6,403.0 788.4,408.0 784.9,414.4 C781.3,420.9 777.4,427.8 773.1,433.4 C768.8,439.0 766.2,445.1 759.0,448.1 C751.9,451.0 740.1,450.4 730.2,451.2 C720.4,452.0 713.4,452.4 700.1,452.9 C686.7,453.3 666.7,453.7 650.0,453.9 C633.3,454.0 615.0,454.2 600.0,453.9 C584.9,453.5 570.8,453.5 559.8,451.9 C548.8,450.3 538.8,447.9 533.9,444.4Z" stroke="#7ba091" stroke-width="1.3"/>
<path d="M533.7,444.7 C528.7,441.3 531.4,435.9 529.8,431.0 C528.2,426.2 526.1,421.1 524.3,415.7 C522.4,410.4 520.2,404.5 518.9,399.0 C517.6,393.5 516.9,390.0 516.5,382.7 C516.1,375.3 516.3,364.3 516.5,355.0 C516.7,345.8 517.0,336.4 517.5,327.3 C518.0,318.3 518.4,308.5 519.5,300.7 C520.5,292.9 523.0,289.6 524.0,280.5 C524.9,271.5 524.6,254.2 525.3,246.5 C525.9,238.7 526.6,237.8 527.8,234.1 C528.9,230.4 530.1,228.2 532.2,224.1 C534.4,220.1 538.5,213.9 540.8,210.0 C543.1,206.1 543.3,203.9 546.2,200.6 C549.0,197.4 554.1,193.8 557.9,190.5 C561.7,187.2 564.1,183.0 568.8,180.6 C573.6,178.2 581.6,176.3 586.6,176.0 C591.5,175.7 594.0,177.6 598.5,178.6 C603.1,179.6 608.9,180.9 613.9,182.1 C619.0,183.2 623.8,185.3 628.8,185.5 C633.9,185.7 640.1,184.2 644.3,183.6 C648.5,182.9 649.0,182.2 654.1,181.5 C659.2,180.9 667.4,180.5 675.0,179.5 C682.6,178.5 692.0,176.4 699.5,175.5 C707.0,174.7 713.9,174.2 720.2,174.5 C726.6,174.8 732.0,175.6 737.7,177.2 C743.4,178.9 748.8,182.2 754.4,184.4 C759.9,186.5 765.8,187.8 770.9,190.0 C776.1,192.1 781.3,194.1 785.5,197.3 C789.6,200.6 793.3,203.8 795.9,209.4 C798.5,215.1 799.9,223.2 801.1,231.2 C802.4,239.1 802.1,250.3 803.4,257.1 C804.7,263.9 806.5,267.5 808.9,272.2 C811.4,276.9 816.5,279.9 818.0,285.2 C819.4,290.4 819.2,298.3 817.6,303.8 C815.9,309.4 810.4,313.8 808.1,318.3 C805.9,322.7 804.7,327.3 804.2,330.6 C803.7,333.8 805.6,332.1 805.1,337.7 C804.6,343.4 803.0,355.0 801.0,364.4 C799.1,373.9 796.2,386.1 793.4,394.4 C790.5,402.6 787.5,407.5 784.0,414.0 C780.5,420.4 776.7,427.4 772.5,433.0 C768.3,438.6 765.8,444.5 758.8,447.5 C751.8,450.4 740.0,449.9 730.2,450.7 C720.4,451.5 713.4,452.0 700.1,452.5 C686.7,453.0 666.7,453.3 650.0,453.5 C633.3,453.7 615.0,453.8 600.0,453.5 C584.9,453.2 570.9,453.0 559.9,451.5 C548.8,450.0 538.7,448.1 533.7,444.7Z" stroke="#668f7c" stroke-width="1.3"/>
<path d="M533.5,445.0 C528.4,441.7 530.9,436.1 529.2,431.3 C527.5,426.5 525.3,421.4 523.4,416.0 C521.6,410.7 519.2,404.8 517.9,399.2 C516.6,393.7 515.8,390.1 515.4,382.7 C514.9,375.4 515.1,364.3 515.2,355.0 C515.4,345.8 515.7,336.3 516.2,327.2 C516.8,318.1 517.2,308.3 518.3,300.5 C519.4,292.7 521.9,289.4 522.9,280.4 C523.8,271.4 523.6,254.1 524.3,246.3 C525.0,238.6 525.8,237.6 527.1,233.8 C528.3,230.1 529.6,227.8 531.8,223.8 C534.1,219.9 538.3,213.8 540.8,210.0 C543.3,206.2 543.7,204.3 546.6,201.2 C549.6,198.1 554.8,194.7 558.6,191.5 C562.5,188.3 564.8,184.2 569.5,181.8 C574.1,179.5 581.9,177.7 586.7,177.4 C591.5,177.1 593.7,179.0 598.3,180.0 C602.8,181.0 608.6,182.2 613.7,183.3 C618.8,184.4 623.7,186.4 628.8,186.6 C633.9,186.9 640.2,185.3 644.5,184.7 C648.7,184.0 649.2,183.3 654.3,182.7 C659.4,182.0 667.6,181.7 675.2,180.7 C682.7,179.7 692.1,177.5 699.6,176.6 C707.1,175.8 713.9,175.3 720.2,175.6 C726.5,175.9 731.7,176.8 737.3,178.4 C742.9,180.1 748.4,183.4 753.9,185.5 C759.4,187.7 765.3,189.1 770.4,191.2 C775.5,193.4 780.5,195.4 784.5,198.5 C788.5,201.6 791.9,204.6 794.4,210.1 C796.9,215.6 798.3,223.5 799.5,231.4 C800.7,239.3 800.4,250.4 801.7,257.4 C803.0,264.3 804.7,268.3 807.1,273.0 C809.5,277.8 814.6,280.8 816.1,285.8 C817.5,290.8 817.4,298.0 815.8,303.3 C814.2,308.6 808.7,313.0 806.5,317.6 C804.3,322.1 803.1,327.1 802.7,330.4 C802.2,333.8 804.2,332.0 803.7,337.7 C803.2,343.3 801.7,354.8 799.8,364.2 C797.9,373.6 795.1,385.8 792.3,394.0 C789.5,402.3 786.5,407.1 783.1,413.5 C779.7,420.0 775.9,427.0 771.9,432.6 C767.8,438.1 765.5,444.0 758.5,446.9 C751.6,449.9 739.9,449.3 730.1,450.2 C720.4,451.1 713.4,451.6 700.0,452.1 C686.7,452.6 666.7,453.0 650.0,453.1 C633.3,453.3 615.0,453.5 600.0,453.1 C585.0,452.8 571.0,452.5 559.9,451.1 C548.8,449.8 538.7,448.3 533.5,445.0Z" stroke="#507d67" stroke-width="1.3"/>
<path d="M533.4,445.3 C528.2,442.1 530.4,436.4 528.7,431.5 C526.9,426.7 524.6,421.7 522.6,416.4 C520.7,411.0 518.3,405.1 516.9,399.5 C515.5,393.9 514.7,390.2 514.2,382.8 C513.8,375.4 513.9,364.3 514.0,355.0 C514.1,345.7 514.5,336.3 515.0,327.2 C515.5,318.0 516.1,308.1 517.2,300.3 C518.3,292.5 520.7,289.3 521.7,280.3 C522.7,271.2 522.5,254.0 523.3,246.2 C524.1,238.4 525.0,237.3 526.4,233.6 C527.7,229.8 529.0,227.5 531.4,223.6 C533.8,219.6 538.2,213.6 540.8,210.0 C543.4,206.4 544.0,204.7 547.1,201.8 C550.2,198.9 555.6,195.6 559.4,192.5 C563.2,189.4 565.5,185.3 570.1,183.0 C574.6,180.7 582.1,179.0 586.7,178.8 C591.4,178.5 593.5,180.3 598.0,181.3 C602.4,182.3 608.3,183.5 613.5,184.5 C618.6,185.6 623.6,187.5 628.8,187.8 C634.0,188.0 640.4,186.4 644.7,185.8 C648.9,185.1 649.3,184.4 654.4,183.8 C659.5,183.1 667.7,182.8 675.3,181.8 C682.9,180.8 692.3,178.6 699.7,177.8 C707.2,176.9 713.9,176.4 720.1,176.8 C726.3,177.1 731.4,178.0 736.9,179.6 C742.5,181.3 747.9,184.5 753.4,186.7 C758.9,188.8 764.8,190.3 769.8,192.5 C774.8,194.7 779.7,196.6 783.6,199.7 C787.4,202.7 790.5,205.4 792.9,210.7 C795.3,216.0 796.7,223.8 797.9,231.6 C799.1,239.5 798.7,250.6 800.0,257.6 C801.2,264.7 802.9,269.1 805.3,273.9 C807.7,278.7 812.7,281.6 814.2,286.4 C815.6,291.2 815.5,297.6 814.0,302.7 C812.4,307.8 807.0,312.3 804.9,316.9 C802.8,321.5 801.6,326.8 801.2,330.3 C800.8,333.7 802.8,332.0 802.3,337.6 C801.9,343.2 800.4,354.6 798.6,364.0 C796.7,373.3 794.0,385.5 791.2,393.7 C788.5,401.9 785.5,406.7 782.2,413.1 C778.9,419.5 775.2,426.6 771.2,432.1 C767.3,437.7 765.2,443.4 758.3,446.3 C751.4,449.3 739.8,448.8 730.1,449.7 C720.4,450.6 713.4,451.2 700.0,451.7 C686.7,452.3 666.7,452.6 650.0,452.7 C633.3,452.9 615.0,453.1 600.0,452.7 C585.0,452.4 571.0,452.0 559.9,450.7 C548.8,449.5 538.6,448.5 533.4,445.3Z" stroke="#3a6a52" stroke-width="1.3"/>
<path d="M533.2,445.7 C527.9,442.6 530.0,436.6 528.1,431.8 C526.2,426.9 523.8,422.0 521.8,416.7 C519.8,411.3 517.4,405.4 516.0,399.7 C514.5,394.1 513.7,390.4 513.1,382.9 C512.6,375.5 512.6,364.3 512.7,355.0 C512.9,345.7 513.2,336.2 513.7,327.1 C514.3,317.9 515.0,308.0 516.1,300.2 C517.3,292.3 519.6,289.1 520.6,280.1 C521.6,271.1 521.4,253.9 522.3,246.1 C523.1,238.3 524.2,237.1 525.7,233.3 C527.1,229.5 528.5,227.2 531.0,223.3 C533.5,219.4 538.0,213.5 540.8,210.0 C543.6,206.5 544.3,205.2 547.5,202.4 C550.8,199.7 556.3,196.5 560.1,193.5 C564.0,190.5 566.2,186.5 570.7,184.3 C575.1,182.0 582.3,180.4 586.8,180.1 C591.3,179.9 593.3,181.7 597.7,182.7 C602.1,183.6 608.1,184.7 613.2,185.8 C618.4,186.8 623.5,188.7 628.7,188.9 C634.0,189.1 640.5,187.6 644.8,186.9 C649.1,186.2 649.5,185.6 654.6,184.9 C659.7,184.2 667.9,183.9 675.5,182.9 C683.0,181.9 692.4,179.7 699.9,178.9 C707.3,178.0 713.9,177.6 720.1,177.9 C726.2,178.2 731.1,179.1 736.6,180.8 C742.1,182.5 747.5,185.7 753.0,187.8 C758.4,190.0 764.3,191.6 769.3,193.7 C774.2,195.9 778.9,197.9 782.6,200.8 C786.3,203.8 789.1,206.2 791.4,211.4 C793.7,216.5 795.2,224.1 796.3,231.9 C797.4,239.6 797.0,250.8 798.2,257.9 C799.4,265.1 801.2,269.9 803.5,274.7 C805.9,279.6 810.8,282.5 812.3,287.1 C813.7,291.6 813.7,297.3 812.2,302.2 C810.7,307.0 805.4,311.5 803.3,316.2 C801.2,320.9 800.1,326.6 799.7,330.1 C799.3,333.7 801.4,331.9 801.0,337.5 C800.6,343.1 799.1,354.4 797.3,363.7 C795.5,373.0 792.8,385.2 790.2,393.3 C787.5,401.5 784.6,406.2 781.3,412.6 C778.0,419.0 774.5,426.2 770.6,431.7 C766.7,437.2 764.8,442.9 758.0,445.8 C751.3,448.7 739.7,448.3 730.0,449.2 C720.4,450.1 713.4,450.8 700.0,451.4 C686.7,451.9 666.7,452.2 650.0,452.4 C633.3,452.5 615.0,452.7 600.0,452.4 C585.0,452.0 571.1,451.5 560.0,450.4 C548.8,449.3 538.5,448.8 533.2,445.7Z" stroke="#24583c" stroke-width="1.3"/>
<path d="M533.0,446.0 C527.6,443.0 529.5,436.8 527.5,432.0 C525.5,427.2 523.1,422.3 521.0,417.0 C518.9,411.7 516.5,405.7 515.0,400.0 C513.5,394.3 512.6,390.5 512.0,383.0 C511.4,375.5 511.4,364.3 511.5,355.0 C511.6,345.7 511.9,336.2 512.5,327.0 C513.1,317.8 513.8,307.8 515.0,300.0 C516.2,292.2 518.5,289.0 519.5,280.0 C520.5,271.0 520.4,253.8 521.3,246.0 C522.2,238.2 523.5,236.8 525.0,233.0 C526.5,229.2 528.0,226.8 530.6,223.0 C533.2,219.2 537.9,213.3 540.8,210.0 C543.7,206.7 544.6,205.6 548.0,203.0 C551.4,200.4 557.0,197.4 560.9,194.5 C564.8,191.6 567.0,187.7 571.3,185.5 C575.6,183.3 582.5,181.8 586.9,181.5 C591.2,181.2 593.0,183.1 597.4,184.0 C601.8,184.9 607.8,186.0 613.0,187.0 C618.2,188.0 623.4,189.8 628.7,190.0 C634.0,190.2 640.7,188.7 645.0,188.0 C649.3,187.3 649.6,186.7 654.7,186.0 C659.8,185.3 668.1,185.0 675.6,184.0 C683.1,183.0 692.6,180.8 700.0,180.0 C707.4,179.2 714.0,178.7 720.0,179.0 C726.0,179.3 730.8,180.3 736.2,182.0 C741.6,183.7 747.1,186.8 752.5,189.0 C757.9,191.2 763.8,192.8 768.7,195.0 C773.6,197.2 778.2,199.2 781.7,202.0 C785.2,204.8 787.7,207.0 789.9,212.0 C792.1,217.0 793.6,224.4 794.7,232.1 C795.8,239.8 795.3,250.9 796.5,258.2 C797.7,265.4 799.4,270.7 801.7,275.6 C804.0,280.5 809.0,283.4 810.4,287.7 C811.8,292.0 811.8,297.0 810.4,301.6 C809.0,306.2 803.7,310.8 801.7,315.5 C799.7,320.2 798.6,326.4 798.2,330.0 C797.9,333.6 800.0,331.8 799.6,337.4 C799.2,343.0 797.9,354.2 796.1,363.5 C794.4,372.8 791.7,384.9 789.1,393.0 C786.5,401.1 783.6,405.8 780.4,412.2 C777.2,418.6 773.8,425.8 770.0,431.3 C766.2,436.8 764.5,442.3 757.8,445.2 C751.1,448.1 739.6,447.7 730.0,448.7 C720.4,449.7 713.3,450.4 700.0,451.0 C686.7,451.6 666.7,451.8 650.0,452.0 C633.3,452.2 615.0,452.3 600.0,452.0 C585.0,451.7 571.2,451.0 560.0,450.0 C548.8,449.0 538.4,449.0 533.0,446.0Z" stroke="#0d4526" stroke-width="2.0"/>
<path d="M628,186 C630,193 634,197 639,197 C643,197 644,192 641,188 C637,185 632,188 632,193" stroke="#1a4d30" stroke-width="1.6"/>
<path d="M537.0,250.0 C537.7,236.3 537.5,241.2 540.0,238.0 C542.5,234.8 543.7,233.0 552.0,231.0 C560.3,229.0 573.7,227.0 590.0,226.0 C606.3,225.0 631.7,224.8 650.0,225.0 C668.3,225.2 685.8,225.3 700.0,227.0 C714.2,228.7 725.7,232.3 735.0,235.0 C744.3,237.7 751.2,240.2 756.0,243.0 C760.8,245.8 762.4,242.5 763.5,252.0 C764.6,261.5 763.1,287.0 762.5,300.0 C761.9,313.0 760.5,318.5 760.0,330.0 C759.5,341.5 759.9,353.3 759.6,369.0 C759.3,384.7 759.3,412.5 758.0,424.0 C756.7,435.5 755.0,434.2 752.0,438.0 C749.0,441.8 748.7,445.2 740.0,447.0 C731.3,448.8 715.0,448.3 700.0,449.0 C685.0,449.7 666.7,450.5 650.0,451.0 C633.3,451.5 616.7,451.8 600.0,452.0 C583.3,452.2 560.0,452.5 550.0,452.0 C540.0,451.5 542.5,450.8 540.0,449.0 C537.5,447.2 535.8,449.2 535.0,441.0 C534.2,432.8 534.8,420.2 535.0,400.0 C535.2,379.8 535.7,345.0 536.0,320.0 C536.3,295.0 536.3,263.7 537.0,250.0Z" stroke="#6b2f6e" stroke-width="1.6"/>
<path d="M534.2,251.5 C534.9,236.8 534.9,245.7 536.2,243.5 C537.5,241.3 539.4,239.8 542.2,238.5 C545.0,237.2 544.4,236.8 553.2,235.5 C562.0,234.2 582.9,231.5 595.2,230.5 C607.5,229.5 616.0,229.3 627.2,229.5 C638.4,229.7 650.5,230.8 662.2,231.5 C673.9,232.2 685.7,232.2 697.2,234.0 C708.7,235.8 723.5,239.8 731.2,242.0 C738.9,244.2 740.1,245.2 743.2,247.5 C746.3,249.8 748.6,246.5 749.7,255.5 C750.8,264.5 749.9,280.5 749.7,301.5 C749.5,322.5 749.1,359.8 748.7,381.5 C748.3,403.2 748.1,421.8 747.2,431.5 C746.3,441.2 745.4,437.3 743.2,439.5 C741.0,441.7 741.9,443.2 734.2,444.5 C726.5,445.8 711.7,446.3 697.2,447.0 C682.7,447.7 663.9,448.2 647.2,448.5 C630.5,448.8 613.9,449.0 597.2,449.0 C580.5,449.0 557.2,449.1 547.2,448.5 C537.2,447.9 540.0,447.3 537.2,445.5 C534.4,443.7 531.4,444.8 530.2,437.5 C529.0,430.2 529.9,419.2 530.2,401.5 C530.5,383.8 531.5,356.5 532.2,331.5 C532.9,306.5 533.5,266.2 534.2,251.5Z" stroke="#6a2b6d" stroke-width="1.8"/>
<path d="M539.2,249.0 C539.9,234.3 539.9,243.2 541.2,241.0 C542.5,238.8 544.4,237.3 547.2,236.0 C550.0,234.7 549.4,234.3 558.2,233.0 C567.0,231.7 587.9,229.0 600.2,228.0 C612.5,227.0 621.0,226.8 632.2,227.0 C643.4,227.2 655.5,228.2 667.2,229.0 C678.9,229.8 690.7,229.8 702.2,231.5 C713.7,233.2 728.5,237.2 736.2,239.5 C743.9,241.8 745.1,242.8 748.2,245.0 C751.3,247.2 753.6,244.0 754.7,253.0 C755.8,262.0 754.9,278.0 754.7,299.0 C754.5,320.0 754.1,357.3 753.7,379.0 C753.3,400.7 753.1,419.3 752.2,429.0 C751.3,438.7 750.4,434.8 748.2,437.0 C746.0,439.2 746.9,440.8 739.2,442.0 C731.5,443.2 716.7,443.8 702.2,444.5 C687.7,445.2 668.9,445.7 652.2,446.0 C635.5,446.3 618.9,446.5 602.2,446.5 C585.5,446.5 562.2,446.6 552.2,446.0 C542.2,445.4 545.0,444.8 542.2,443.0 C539.4,441.2 536.4,442.3 535.2,435.0 C534.0,427.7 534.9,416.7 535.2,399.0 C535.5,381.3 536.5,354.0 537.2,329.0 C537.9,304.0 538.5,263.7 539.2,249.0Z" stroke="#622163" stroke-width="1.8"/>
<path d="M537.0,250.0 C537.7,235.3 537.7,244.2 539.0,242.0 C540.3,239.8 542.2,238.3 545.0,237.0 C547.8,235.7 547.2,235.3 556.0,234.0 C564.8,232.7 585.7,230.0 598.0,229.0 C610.3,228.0 618.8,227.8 630.0,228.0 C641.2,228.2 653.3,229.2 665.0,230.0 C676.7,230.8 688.5,230.8 700.0,232.5 C711.5,234.2 726.3,238.2 734.0,240.5 C741.7,242.8 742.9,243.8 746.0,246.0 C749.1,248.2 751.4,245.0 752.5,254.0 C753.6,263.0 752.7,279.0 752.5,300.0 C752.3,321.0 751.9,358.3 751.5,380.0 C751.1,401.7 750.9,420.3 750.0,430.0 C749.1,439.7 748.2,435.8 746.0,438.0 C743.8,440.2 744.7,441.8 737.0,443.0 C729.3,444.2 714.5,444.8 700.0,445.5 C685.5,446.2 666.7,446.7 650.0,447.0 C633.3,447.3 616.7,447.5 600.0,447.5 C583.3,447.5 560.0,447.6 550.0,447.0 C540.0,446.4 542.8,445.8 540.0,444.0 C537.2,442.2 534.2,443.3 533.0,436.0 C531.8,428.7 532.7,417.7 533.0,400.0 C533.3,382.3 534.3,355.0 535.0,330.0 C535.7,305.0 536.3,264.7 537.0,250.0Z" stroke="#5a195b" stroke-width="1.8"/>
</g>
<line x1="759.5" y1="51.5" x2="668" y2="102" stroke="#000" stroke-width="1.6"/>
<polygon points="657,108 665.4,94.2 666.2,102.8 674.2,108.6" fill="#000"/>
<text x="832" y="50" font-family="'Liberation Sans', Arial, Helvetica, sans-serif" font-size="21.8" text-anchor="middle">skin removed</text>
<text x="835" y="75.5" font-family="'Liberation Sans', Arial, Helvetica, sans-serif" font-size="21.8" text-anchor="middle">after initial heating</text>
<rect x="16" y="481.2" width="43" height="3" fill="#000"/>
<text x="15.3" y="473" font-family="'Liberation Sans', Arial, Helvetica, sans-serif" font-size="19.3">2 mm</text>
<rect x="24.80" y="505.3" width="26.34" height="90.3" fill="#611b5f"/>
<rect x="50.74" y="505.3" width="26.34" height="90.3" fill="#67276a"/>
<rect x="76.67" y="505.3" width="26.34" height="90.3" fill="#76437b"/>
<rect x="102.61" y="505.3" width="26.34" height="90.3" fill="#805189"/>
<rect x="128.55" y="505.3" width="26.34" height="90.3" fill="#936e9b"/>
<rect x="154.48" y="505.3" width="26.34" height="90.3" fill="#9c7ea8"/>
<rect x="180.42" y="505.3" width="26.34" height="90.3" fill="#a690b3"/>
<rect x="206.35" y="505.3" width="26.34" height="90.3" fill="#b1a2bf"/>
<rect x="232.29" y="505.3" width="26.34" height="90.3" fill="#bcb3ca"/>
<rect x="258.23" y="505.3" width="26.34" height="90.3" fill="#c9c5d8"/>
<rect x="284.16" y="505.3" width="26.34" height="90.3" fill="#d5dbe8"/>
<rect x="441.90" y="505.1" width="26.38" height="90.5" fill="#dce9f0"/>
<rect x="467.88" y="505.1" width="26.38" height="90.5" fill="#c9dbe0"/>
<rect x="493.86" y="505.1" width="26.38" height="90.5" fill="#b9d0d3"/>
<rect x="519.85" y="505.1" width="26.38" height="90.5" fill="#abc4c0"/>
<rect x="545.83" y="505.1" width="26.38" height="90.5" fill="#9bb9b1"/>
<rect x="571.81" y="505.1" width="26.38" height="90.5" fill="#8dafa0"/>
<rect x="597.79" y="505.1" width="26.38" height="90.5" fill="#7fa393"/>
<rect x="623.78" y="505.1" width="26.38" height="90.5" fill="#6e9783"/>
<rect x="649.76" y="505.1" width="26.38" height="90.5" fill="#618b75"/>
<rect x="675.74" y="505.1" width="26.38" height="90.5" fill="#55866c"/>
<rect x="701.72" y="505.1" width="26.38" height="90.5" fill="#47765e"/>
<rect x="727.71" y="505.1" width="26.38" height="90.5" fill="#3b6e53"/>
<rect x="753.69" y="505.1" width="26.38" height="90.5" fill="#2d6346"/>
<rect x="779.67" y="505.1" width="26.38" height="90.5" fill="#235a3d"/>
<rect x="805.65" y="505.1" width="26.38" height="90.5" fill="#1a5132"/>
<rect x="831.64" y="505.1" width="26.38" height="90.5" fill="#114727"/>
<rect x="857.62" y="505.1" width="26.38" height="90.5" fill="#04401b"/>
<text x="24.4" y="619" font-family="'Liberation Sans', Arial, Helvetica, sans-serif" font-size="20.5" text-anchor="middle">0</text>
<text x="65.1" y="619" font-family="'Liberation Sans', Arial, Helvetica, sans-serif" font-size="20.5" text-anchor="middle">2</text>
<text x="102.1" y="619" font-family="'Liberation Sans', Arial, Helvetica, sans-serif" font-size="20.5" text-anchor="middle">4</text>
<text x="138.6" y="619" font-family="'Liberation Sans', Arial, Helvetica, sans-serif" font-size="20.5" text-anchor="middle">6</text>
<text x="176.1" y="619" font-family="'Liberation Sans', Arial, Helvetica, sans-serif" font-size="20.5" text-anchor="middle">8</text>
<text x="216.4" y="619" font-family="'Liberation Sans', Arial, Helvetica, sans-serif" font-size="20.5" text-anchor="middle">10</text>
<text x="256" y="619" font-family="'Liberation Sans', Arial, Helvetica, sans-serif" font-size="20.5" text-anchor="middle">12</text>
<text x="289.9" y="619" font-family="'Liberation Sans', Arial, Helvetica, sans-serif" font-size="20.5" text-anchor="middle">14</text>
<text x="313.4" y="619" font-family="'Liberation Sans', Arial, Helvetica, sans-serif" font-size="20.5" text-anchor="middle">h</text>
<text x="441.9" y="619" font-family="'Liberation Sans', Arial, Helvetica, sans-serif" font-size="20.5" text-anchor="middle">0</text>
<text x="482.5" y="619" font-family="'Liberation Sans', Arial, Helvetica, sans-serif" font-size="20.5" text-anchor="middle">2</text>
<text x="520.2" y="619" font-family="'Liberation Sans', Arial, Helvetica, sans-serif" font-size="20.5" text-anchor="middle">4</text>
<text x="556.5" y="619" font-family="'Liberation Sans', Arial, Helvetica, sans-serif" font-size="20.5" text-anchor="middle">6</text>
<text x="593.9" y="619" font-family="'Liberation Sans', Arial, Helvetica, sans-serif" font-size="20.5" text-anchor="middle">8</text>
<text x="634.2" y="619" font-family="'Liberation Sans', Arial, Helvetica, sans-serif" font-size="20.5" text-anchor="middle">10</text>
<text x="673.5" y="619" font-family="'Liberation Sans', Arial, Helvetica, sans-serif" font-size="20.5" text-anchor="middle">12</text>
<text x="713.3" y="619" font-family="'Liberation Sans', Arial, Helvetica, sans-serif" font-size="20.5" text-anchor="middle">14</text>
<text x="745.6" y="619" font-family="'Liberation Sans', Arial, Helvetica, sans-serif" font-size="20.5" text-anchor="middle">16</text>
<text x="782.8" y="619" font-family="'Liberation Sans', Arial, Helvetica, sans-serif" font-size="20.5" text-anchor="middle">18</text>
<text x="819.4" y="619" font-family="'Liberation Sans', Arial, Helvetica, sans-serif" font-size="20.5" text-anchor="middle">20</text>
<text x="858.4" y="619" font-family="'Liberation Sans', Arial, Helvetica, sans-serif" font-size="20.5" text-anchor="middle">22</text>
<text x="883.6" y="619" font-family="'Liberation Sans', Arial, Helvetica, sans-serif" font-size="20.5" text-anchor="middle">h</text>
<text x="373.5" y="549.6" font-family="'Liberation Sans', Arial, Helvetica, sans-serif" font-size="21.8" text-anchor="middle">Reheated</text>
<text x="373.5" y="575.6" font-family="'Liberation Sans', Arial, Helvetica, sans-serif" font-size="21.8" text-anchor="middle">to 950ºC</text>
<rect x="12.8" y="17.1" width="27.9" height="28.6" fill="none" stroke="#000" stroke-width="1.6"/>
<text x="27.1" y="40.5" font-family="'Liberation Sans', Arial, Helvetica, sans-serif" font-size="29.5" font-weight="bold" text-anchor="middle">A</text>
<rect x="990" y="17.1" width="27.9" height="27.9" fill="none" stroke="#000" stroke-width="1.6"/>
<text x="1005.3" y="40.3" font-family="'Liberation Sans', Arial, Helvetica, sans-serif" font-size="29.5" font-weight="bold" text-anchor="middle">B</text>
<rect x="14.1" y="683.4" width="28.1" height="28.4" fill="none" stroke="#000" stroke-width="1.6"/>
<text x="28.1" y="707.6" font-family="'Liberation Sans', Arial, Helvetica, sans-serif" font-size="29.5" font-weight="bold" text-anchor="middle">C</text>
<g stroke="#000" stroke-width="2" fill="none">
<path d="M1092,62 H1702.5 V584.4 H1092 Z"/>
<line x1="1085.2" y1="584.4" x2="1092" y2="584.4"/>
<line x1="1085.2" y1="532.2" x2="1092" y2="532.2"/>
<line x1="1085.2" y1="479.9" x2="1092" y2="479.9"/>
<line x1="1085.2" y1="427.7" x2="1092" y2="427.7"/>
<line x1="1085.2" y1="375.4" x2="1092" y2="375.4"/>
<line x1="1085.2" y1="323.2" x2="1092" y2="323.2"/>
<line x1="1085.2" y1="271.0" x2="1092" y2="271.0"/>
<line x1="1085.2" y1="218.7" x2="1092" y2="218.7"/>
<line x1="1085.2" y1="166.5" x2="1092" y2="166.5"/>
<line x1="1085.2" y1="114.2" x2="1092" y2="114.2"/>
<line x1="1085.2" y1="62.0" x2="1092" y2="62.0"/>
<line x1="1092.0" y1="584.4" x2="1092.0" y2="591"/>
<line x1="1214.1" y1="584.4" x2="1214.1" y2="591"/>
<line x1="1336.2" y1="584.4" x2="1336.2" y2="591"/>
<line x1="1458.3" y1="584.4" x2="1458.3" y2="591"/>
<line x1="1580.4" y1="584.4" x2="1580.4" y2="591"/>
<line x1="1702.5" y1="584.4" x2="1702.5" y2="591"/>
</g>
<text x="1073.8" y="592.0" font-family="'Liberation Sans', Arial, Helvetica, sans-serif" font-size="22" text-anchor="end">1</text>
<text x="1073.8" y="539.8" font-family="'Liberation Sans', Arial, Helvetica, sans-serif" font-size="22" text-anchor="end">1.5</text>
<text x="1073.8" y="487.5" font-family="'Liberation Sans', Arial, Helvetica, sans-serif" font-size="22" text-anchor="end">2</text>
<text x="1073.8" y="435.3" font-family="'Liberation Sans', Arial, Helvetica, sans-serif" font-size="22" text-anchor="end">2.5</text>
<text x="1073.8" y="383.0" font-family="'Liberation Sans', Arial, Helvetica, sans-serif" font-size="22" text-anchor="end">3</text>
<text x="1073.8" y="330.8" font-family="'Liberation Sans', Arial, Helvetica, sans-serif" font-size="22" text-anchor="end">3.5</text>
<text x="1073.8" y="278.6" font-family="'Liberation Sans', Arial, Helvetica, sans-serif" font-size="22" text-anchor="end">4</text>
<text x="1073.8" y="226.3" font-family="'Liberation Sans', Arial, Helvetica, sans-serif" font-size="22" text-anchor="end">4.5</text>
<text x="1073.8" y="174.1" font-family="'Liberation Sans', Arial, Helvetica, sans-serif" font-size="22" text-anchor="end">5</text>
<text x="1073.8" y="121.8" font-family="'Liberation Sans', Arial, Helvetica, sans-serif" font-size="22" text-anchor="end">5.5</text>
<text x="1073.8" y="69.6" font-family="'Liberation Sans', Arial, Helvetica, sans-serif" font-size="22" text-anchor="end">6</text>
<text x="1091.2" y="617" font-family="'Liberation Sans', Arial, Helvetica, sans-serif" font-size="22" text-anchor="middle">0</text>
<text x="1213.3" y="617" font-family="'Liberation Sans', Arial, Helvetica, sans-serif" font-size="22" text-anchor="middle">10</text>
<text x="1335.4" y="617" font-family="'Liberation Sans', Arial, Helvetica, sans-serif" font-size="22" text-anchor="middle">20</text>
<text x="1457.5" y="617" font-family="'Liberation Sans', Arial, Helvetica, sans-serif" font-size="22" text-anchor="middle">30</text>
<text x="1579.6" y="617" font-family="'Liberation Sans', Arial, Helvetica, sans-serif" font-size="22" text-anchor="middle">40</text>
<text x="1701.7" y="617" font-family="'Liberation Sans', Arial, Helvetica, sans-serif" font-size="22" text-anchor="middle">50</text>
<text x="1400.7" y="647.4" font-family="'Liberation Sans', Arial, Helvetica, sans-serif" font-size="21.5" font-weight="bold" text-anchor="middle">Time [hours]</text>
<text transform="translate(1033.3,319.6) rotate(-90)" font-family="'Liberation Sans', Arial, Helvetica, sans-serif" font-size="21.6" font-weight="bold" text-anchor="middle">Volume ratio</text>
<g stroke="#000"><line x1="1141.5" y1="574" x2="1141.5" y2="582" stroke-width="1.6"/><line x1="1136.8" y1="574" x2="1146.2" y2="574" stroke-width="1.9"/><line x1="1136.8" y1="582" x2="1146.2" y2="582" stroke-width="1.9"/></g>
<g stroke="#000"><line x1="1158.0" y1="539.4" x2="1158.0" y2="549.4" stroke-width="1.6"/><line x1="1153.3" y1="539.4" x2="1162.7" y2="539.4" stroke-width="1.9"/><line x1="1153.3" y1="549.4" x2="1162.7" y2="549.4" stroke-width="1.9"/></g>
<g stroke="#000"><line x1="1174.7" y1="460" x2="1174.7" y2="473.2" stroke-width="1.6"/><line x1="1170.0" y1="460" x2="1179.4" y2="460" stroke-width="1.9"/><line x1="1170.0" y1="473.2" x2="1179.4" y2="473.2" stroke-width="1.9"/></g>
<g stroke="#000"><line x1="1189.8" y1="378.5" x2="1189.8" y2="395.2" stroke-width="1.6"/><line x1="1185.1" y1="378.5" x2="1194.5" y2="378.5" stroke-width="1.9"/><line x1="1185.1" y1="395.2" x2="1194.5" y2="395.2" stroke-width="1.9"/></g>
<g stroke="#000"><line x1="1206.1" y1="309.5" x2="1206.1" y2="331.4" stroke-width="1.6"/><line x1="1201.4" y1="309.5" x2="1210.8" y2="309.5" stroke-width="1.9"/><line x1="1201.4" y1="331.4" x2="1210.8" y2="331.4" stroke-width="1.9"/></g>
<g stroke="#000"><line x1="1222.8" y1="257.7" x2="1222.8" y2="285.6" stroke-width="1.6"/><line x1="1218.1" y1="257.7" x2="1227.5" y2="257.7" stroke-width="1.9"/><line x1="1218.1" y1="285.6" x2="1227.5" y2="285.6" stroke-width="1.9"/></g>
<g stroke="#000"><line x1="1239.4" y1="138.0" x2="1239.4" y2="171.1" stroke-width="1.6"/><line x1="1234.7" y1="138.0" x2="1244.1" y2="138.0" stroke-width="1.9"/><line x1="1234.7" y1="171.1" x2="1244.1" y2="171.1" stroke-width="1.9"/></g>
<g stroke="#000"><line x1="1256.1" y1="132.8" x2="1256.1" y2="167.2" stroke-width="1.6"/><line x1="1251.4" y1="132.8" x2="1260.8" y2="132.8" stroke-width="1.9"/><line x1="1251.4" y1="167.2" x2="1260.8" y2="167.2" stroke-width="1.9"/></g>
<g stroke="#000"><line x1="1272.8" y1="136.5" x2="1272.8" y2="167.8" stroke-width="1.6"/><line x1="1268.1" y1="136.5" x2="1277.5" y2="136.5" stroke-width="1.9"/><line x1="1268.1" y1="167.8" x2="1277.5" y2="167.8" stroke-width="1.9"/></g>
<g stroke="#000"><line x1="1289.2" y1="139.8" x2="1289.2" y2="171.2" stroke-width="1.6"/><line x1="1284.5" y1="139.8" x2="1293.9" y2="139.8" stroke-width="1.9"/><line x1="1284.5" y1="171.2" x2="1293.9" y2="171.2" stroke-width="1.9"/></g>
<g stroke="#000"><line x1="1305.8" y1="134.9" x2="1305.8" y2="167.8" stroke-width="1.6"/><line x1="1301.1" y1="134.9" x2="1310.5" y2="134.9" stroke-width="1.9"/><line x1="1301.1" y1="167.8" x2="1310.5" y2="167.8" stroke-width="1.9"/></g>
<g stroke="#000"><line x1="1322.5" y1="132.8" x2="1322.5" y2="166.4" stroke-width="1.6"/><line x1="1317.8" y1="132.8" x2="1327.2" y2="132.8" stroke-width="1.9"/><line x1="1317.8" y1="166.4" x2="1327.2" y2="166.4" stroke-width="1.9"/></g>
<g stroke="#000"><line x1="1339.2" y1="138.0" x2="1339.2" y2="169.6" stroke-width="1.6"/><line x1="1334.5" y1="138.0" x2="1343.9" y2="138.0" stroke-width="1.9"/><line x1="1334.5" y1="169.6" x2="1343.9" y2="169.6" stroke-width="1.9"/></g>
<g stroke="#000"><line x1="1355.7" y1="139.8" x2="1355.7" y2="171.2" stroke-width="1.6"/><line x1="1351.0" y1="139.8" x2="1360.4" y2="139.8" stroke-width="1.9"/><line x1="1351.0" y1="171.2" x2="1360.4" y2="171.2" stroke-width="1.9"/></g>
<g stroke="#000"><line x1="1372.3" y1="146.5" x2="1372.3" y2="177.9" stroke-width="1.6"/><line x1="1367.6" y1="146.5" x2="1377.0" y2="146.5" stroke-width="1.9"/><line x1="1367.6" y1="177.9" x2="1377.0" y2="177.9" stroke-width="1.9"/></g>
<g stroke="#000"><line x1="1389.0" y1="146.5" x2="1389.0" y2="177.9" stroke-width="1.6"/><line x1="1384.3" y1="146.5" x2="1393.7" y2="146.5" stroke-width="1.9"/><line x1="1384.3" y1="177.9" x2="1393.7" y2="177.9" stroke-width="1.9"/></g>
<g stroke="#000"><line x1="1405.6" y1="151.3" x2="1405.6" y2="182.8" stroke-width="1.6"/><line x1="1400.9" y1="151.3" x2="1410.3" y2="151.3" stroke-width="1.9"/><line x1="1400.9" y1="182.8" x2="1410.3" y2="182.8" stroke-width="1.9"/></g>
<g stroke="#000"><line x1="1422.3" y1="156.4" x2="1422.3" y2="188.0" stroke-width="1.6"/><line x1="1417.6" y1="156.4" x2="1427.0" y2="156.4" stroke-width="1.9"/><line x1="1417.6" y1="188.0" x2="1427.0" y2="188.0" stroke-width="1.9"/></g>
<g stroke="#000"><line x1="1438.8" y1="161.4" x2="1438.8" y2="191.1" stroke-width="1.6"/><line x1="1434.1" y1="161.4" x2="1443.5" y2="161.4" stroke-width="1.9"/><line x1="1434.1" y1="191.1" x2="1443.5" y2="191.1" stroke-width="1.9"/></g>
<g stroke="#000"><line x1="1453.7" y1="166.4" x2="1453.7" y2="197.9" stroke-width="1.6"/><line x1="1449.0" y1="166.4" x2="1458.4" y2="166.4" stroke-width="1.9"/><line x1="1449.0" y1="197.9" x2="1458.4" y2="197.9" stroke-width="1.9"/></g>
<g stroke="#000"><line x1="1470.3" y1="166.4" x2="1470.3" y2="197.9" stroke-width="1.6"/><line x1="1465.6" y1="166.4" x2="1475.0" y2="166.4" stroke-width="1.9"/><line x1="1465.6" y1="197.9" x2="1475.0" y2="197.9" stroke-width="1.9"/></g>
<g stroke="#000"><line x1="1486.9" y1="172.8" x2="1486.9" y2="202.8" stroke-width="1.6"/><line x1="1482.2" y1="172.8" x2="1491.6" y2="172.8" stroke-width="1.9"/><line x1="1482.2" y1="202.8" x2="1491.6" y2="202.8" stroke-width="1.9"/></g>
<g stroke="#000"><line x1="1503.5" y1="177.9" x2="1503.5" y2="208.0" stroke-width="1.6"/><line x1="1498.8" y1="177.9" x2="1508.2" y2="177.9" stroke-width="1.9"/><line x1="1498.8" y1="208.0" x2="1508.2" y2="208.0" stroke-width="1.9"/></g>
<g stroke="#000"><line x1="1520.2" y1="181.2" x2="1520.2" y2="211.1" stroke-width="1.6"/><line x1="1515.5" y1="181.2" x2="1524.9" y2="181.2" stroke-width="1.9"/><line x1="1515.5" y1="211.1" x2="1524.9" y2="211.1" stroke-width="1.9"/></g>
<g stroke="#000"><line x1="1536.9" y1="184.7" x2="1536.9" y2="214.2" stroke-width="1.6"/><line x1="1532.2" y1="184.7" x2="1541.6" y2="184.7" stroke-width="1.9"/><line x1="1532.2" y1="214.2" x2="1541.6" y2="214.2" stroke-width="1.9"/></g>
<g stroke="#000"><line x1="1553.3" y1="184.7" x2="1553.3" y2="214.2" stroke-width="1.6"/><line x1="1548.6" y1="184.7" x2="1558.0" y2="184.7" stroke-width="1.9"/><line x1="1548.6" y1="214.2" x2="1558.0" y2="214.2" stroke-width="1.9"/></g>
<g stroke="#000"><line x1="1569.9" y1="191.0" x2="1569.9" y2="219.5" stroke-width="1.6"/><line x1="1565.2" y1="191.0" x2="1574.6" y2="191.0" stroke-width="1.9"/><line x1="1565.2" y1="219.5" x2="1574.6" y2="219.5" stroke-width="1.9"/></g>
<g stroke="#000"><line x1="1586.6" y1="196.0" x2="1586.6" y2="224.5" stroke-width="1.6"/><line x1="1581.9" y1="196.0" x2="1591.3" y2="196.0" stroke-width="1.9"/><line x1="1581.9" y1="224.5" x2="1591.3" y2="224.5" stroke-width="1.9"/></g>
<g stroke="#000"><line x1="1603.1" y1="197.9" x2="1603.1" y2="226.0" stroke-width="1.6"/><line x1="1598.4" y1="197.9" x2="1607.8" y2="197.9" stroke-width="1.9"/><line x1="1598.4" y1="226.0" x2="1607.8" y2="226.0" stroke-width="1.9"/></g>
<circle cx="1091.8" cy="584.2" r="4.4" fill="#4f81bd" stroke="#1f3a60" stroke-width="1"/>
<circle cx="1108.2" cy="581.4" r="4.4" fill="#4f81bd" stroke="#1f3a60" stroke-width="1"/>
<circle cx="1124.9" cy="580.7" r="4.4" fill="#4f81bd" stroke="#1f3a60" stroke-width="1"/>
<circle cx="1141.5" cy="578" r="4.4" fill="#4f81bd" stroke="#1f3a60" stroke-width="1"/>
<circle cx="1158.0" cy="544.0" r="4.4" fill="#4f81bd" stroke="#1f3a60" stroke-width="1"/>
<circle cx="1174.7" cy="466.3" r="4.4" fill="#4f81bd" stroke="#1f3a60" stroke-width="1"/>
<circle cx="1189.8" cy="386.6" r="4.4" fill="#4f81bd" stroke="#1f3a60" stroke-width="1"/>
<circle cx="1206.1" cy="320.4" r="4.4" fill="#4f81bd" stroke="#1f3a60" stroke-width="1"/>
<circle cx="1222.8" cy="272.3" r="4.4" fill="#4f81bd" stroke="#1f3a60" stroke-width="1"/>
<circle cx="1239.4" cy="154.2" r="4.4" fill="#4f81bd" stroke="#1f3a60" stroke-width="1"/>
<circle cx="1256.1" cy="149.3" r="4.4" fill="#4f81bd" stroke="#1f3a60" stroke-width="1"/>
<circle cx="1272.8" cy="150.9" r="4.4" fill="#4f81bd" stroke="#1f3a60" stroke-width="1"/>
<circle cx="1289.2" cy="154.4" r="4.4" fill="#4f81bd" stroke="#1f3a60" stroke-width="1"/>
<circle cx="1305.8" cy="150.9" r="4.4" fill="#4f81bd" stroke="#1f3a60" stroke-width="1"/>
<circle cx="1322.5" cy="149.2" r="4.4" fill="#4f81bd" stroke="#1f3a60" stroke-width="1"/>
<circle cx="1339.2" cy="154.5" r="4.4" fill="#4f81bd" stroke="#1f3a60" stroke-width="1"/>
<circle cx="1355.7" cy="154.4" r="4.4" fill="#4f81bd" stroke="#1f3a60" stroke-width="1"/>
<circle cx="1372.3" cy="160.9" r="4.4" fill="#4f81bd" stroke="#1f3a60" stroke-width="1"/>
<circle cx="1389.0" cy="162.4" r="4.4" fill="#4f81bd" stroke="#1f3a60" stroke-width="1"/>
<circle cx="1405.6" cy="167.6" r="4.4" fill="#4f81bd" stroke="#1f3a60" stroke-width="1"/>
<circle cx="1422.3" cy="171.0" r="4.4" fill="#4f81bd" stroke="#1f3a60" stroke-width="1"/>
<circle cx="1438.8" cy="175.8" r="4.4" fill="#4f81bd" stroke="#1f3a60" stroke-width="1"/>
<circle cx="1453.7" cy="180.7" r="4.4" fill="#4f81bd" stroke="#1f3a60" stroke-width="1"/>
<circle cx="1470.3" cy="180.7" r="4.4" fill="#4f81bd" stroke="#1f3a60" stroke-width="1"/>
<circle cx="1486.9" cy="187.4" r="4.4" fill="#4f81bd" stroke="#1f3a60" stroke-width="1"/>
<circle cx="1503.5" cy="192.5" r="4.4" fill="#4f81bd" stroke="#1f3a60" stroke-width="1"/>
<circle cx="1520.2" cy="195.8" r="4.4" fill="#4f81bd" stroke="#1f3a60" stroke-width="1"/>
<circle cx="1536.9" cy="199.1" r="4.4" fill="#4f81bd" stroke="#1f3a60" stroke-width="1"/>
<circle cx="1553.3" cy="199.1" r="4.4" fill="#4f81bd" stroke="#1f3a60" stroke-width="1"/>
<circle cx="1569.9" cy="205.7" r="4.4" fill="#4f81bd" stroke="#1f3a60" stroke-width="1"/>
<circle cx="1586.6" cy="210.8" r="4.4" fill="#4f81bd" stroke="#1f3a60" stroke-width="1"/>
<circle cx="1603.1" cy="210.8" r="4.4" fill="#4f81bd" stroke="#1f3a60" stroke-width="1"/>
<g stroke="#000"><line x1="1108.2" y1="580" x2="1108.2" y2="585" stroke-width="1.6"/><line x1="1103.5" y1="580" x2="1112.9" y2="580" stroke-width="1.9"/><line x1="1103.5" y1="585" x2="1112.9" y2="585" stroke-width="1.9"/></g>
<g stroke="#000"><line x1="1124.9" y1="578" x2="1124.9" y2="583" stroke-width="1.6"/><line x1="1120.2" y1="578" x2="1129.6" y2="578" stroke-width="1.9"/><line x1="1120.2" y1="583" x2="1129.6" y2="583" stroke-width="1.9"/></g>
<g stroke="#000"><line x1="1141.5" y1="576.5" x2="1141.5" y2="584" stroke-width="1.6"/><line x1="1136.8" y1="576.5" x2="1146.2" y2="576.5" stroke-width="1.9"/><line x1="1136.8" y1="584" x2="1146.2" y2="584" stroke-width="1.9"/></g>
<g stroke="#000"><line x1="1158.0" y1="566.4" x2="1158.0" y2="574.4" stroke-width="1.6"/><line x1="1153.3" y1="566.4" x2="1162.7" y2="566.4" stroke-width="1.9"/><line x1="1153.3" y1="574.4" x2="1162.7" y2="574.4" stroke-width="1.9"/></g>
<g stroke="#000"><line x1="1174.7" y1="514.4" x2="1174.7" y2="524.8" stroke-width="1.6"/><line x1="1170.0" y1="514.4" x2="1179.4" y2="514.4" stroke-width="1.9"/><line x1="1170.0" y1="524.8" x2="1179.4" y2="524.8" stroke-width="1.9"/></g>
<g stroke="#000"><line x1="1189.8" y1="406.8" x2="1189.8" y2="423.2" stroke-width="1.6"/><line x1="1185.1" y1="406.8" x2="1194.5" y2="406.8" stroke-width="1.9"/><line x1="1185.1" y1="423.2" x2="1194.5" y2="423.2" stroke-width="1.9"/></g>
<g stroke="#000"><line x1="1206.1" y1="309.5" x2="1206.1" y2="331.4" stroke-width="1.6"/><line x1="1201.4" y1="309.5" x2="1210.8" y2="309.5" stroke-width="1.9"/><line x1="1201.4" y1="331.4" x2="1210.8" y2="331.4" stroke-width="1.9"/></g>
<g stroke="#000"><line x1="1222.8" y1="260.6" x2="1222.8" y2="282.4" stroke-width="1.6"/><line x1="1218.1" y1="260.6" x2="1227.5" y2="260.6" stroke-width="1.9"/><line x1="1218.1" y1="282.4" x2="1227.5" y2="282.4" stroke-width="1.9"/></g>
<g stroke="#000"><line x1="1239.4" y1="167.8" x2="1239.4" y2="197.8" stroke-width="1.6"/><line x1="1234.7" y1="167.8" x2="1244.1" y2="167.8" stroke-width="1.9"/><line x1="1234.7" y1="197.8" x2="1244.1" y2="197.8" stroke-width="1.9"/></g>
<g stroke="#000"><line x1="1256.1" y1="167.2" x2="1256.1" y2="197.8" stroke-width="1.6"/><line x1="1251.4" y1="167.2" x2="1260.8" y2="167.2" stroke-width="1.9"/><line x1="1251.4" y1="197.8" x2="1260.8" y2="197.8" stroke-width="1.9"/></g>
<g stroke="#000"><line x1="1272.8" y1="171.2" x2="1272.8" y2="201.2" stroke-width="1.6"/><line x1="1268.1" y1="171.2" x2="1277.5" y2="171.2" stroke-width="1.9"/><line x1="1268.1" y1="201.2" x2="1277.5" y2="201.2" stroke-width="1.9"/></g>
<rect x="1087.7" y="580.1" width="8.2" height="8.2" fill="#c0504d" stroke="#7a2a28" stroke-width="0.8"/>
<rect x="1104.1" y="578.3" width="8.2" height="8.2" fill="#c0504d" stroke="#7a2a28" stroke-width="0.8"/>
<rect x="1120.8" y="576.6" width="8.2" height="8.2" fill="#c0504d" stroke="#7a2a28" stroke-width="0.8"/>
<rect x="1137.4" y="576.6" width="8.2" height="8.2" fill="#c0504d" stroke="#7a2a28" stroke-width="0.8"/>
<rect x="1153.9" y="566.1" width="8.2" height="8.2" fill="#c0504d" stroke="#7a2a28" stroke-width="0.8"/>
<rect x="1170.6" y="515.2" width="8.2" height="8.2" fill="#c0504d" stroke="#7a2a28" stroke-width="0.8"/>
<rect x="1185.7" y="410.8" width="8.2" height="8.2" fill="#c0504d" stroke="#7a2a28" stroke-width="0.8"/>
<rect x="1202.0" y="316.3" width="8.2" height="8.2" fill="#c0504d" stroke="#7a2a28" stroke-width="0.8"/>
<rect x="1218.7" y="264.8" width="8.2" height="8.2" fill="#c0504d" stroke="#7a2a28" stroke-width="0.8"/>
<rect x="1235.3" y="178.3" width="8.2" height="8.2" fill="#c0504d" stroke="#7a2a28" stroke-width="0.8"/>
<rect x="1252.0" y="178.3" width="8.2" height="8.2" fill="#c0504d" stroke="#7a2a28" stroke-width="0.8"/>
<rect x="1268.7" y="181.7" width="8.2" height="8.2" fill="#c0504d" stroke="#7a2a28" stroke-width="0.8"/>
<g stroke="#000"><line x1="1282.6" y1="287.7" x2="1282.6" y2="310.9" stroke-width="1.6"/><line x1="1277.9" y1="287.7" x2="1287.3" y2="287.7" stroke-width="1.9"/><line x1="1277.9" y1="310.9" x2="1287.3" y2="310.9" stroke-width="1.9"/></g>
<g stroke="#000"><line x1="1291.0" y1="315.8" x2="1291.0" y2="337.4" stroke-width="1.6"/><line x1="1286.3" y1="315.8" x2="1295.7" y2="315.8" stroke-width="1.9"/><line x1="1286.3" y1="337.4" x2="1295.7" y2="337.4" stroke-width="1.9"/></g>
<g stroke="#000"><line x1="1307.4" y1="385.3" x2="1307.4" y2="401.8" stroke-width="1.6"/><line x1="1302.7" y1="385.3" x2="1312.1" y2="385.3" stroke-width="1.9"/><line x1="1302.7" y1="401.8" x2="1312.1" y2="401.8" stroke-width="1.9"/></g>
<g stroke="#000"><line x1="1324.1" y1="425.1" x2="1324.1" y2="440.1" stroke-width="1.6"/><line x1="1319.4" y1="425.1" x2="1328.8" y2="425.1" stroke-width="1.9"/><line x1="1319.4" y1="440.1" x2="1328.8" y2="440.1" stroke-width="1.9"/></g>
<g stroke="#000"><line x1="1340.8" y1="445.1" x2="1340.8" y2="460.1" stroke-width="1.6"/><line x1="1336.1" y1="445.1" x2="1345.5" y2="445.1" stroke-width="1.9"/><line x1="1336.1" y1="460.1" x2="1345.5" y2="460.1" stroke-width="1.9"/></g>
<g stroke="#000"><line x1="1357.3" y1="458.3" x2="1357.3" y2="471.7" stroke-width="1.6"/><line x1="1352.6" y1="458.3" x2="1362.0" y2="458.3" stroke-width="1.9"/><line x1="1352.6" y1="471.7" x2="1362.0" y2="471.7" stroke-width="1.9"/></g>
<g stroke="#000"><line x1="1374.0" y1="466.5" x2="1374.0" y2="479.9" stroke-width="1.6"/><line x1="1369.3" y1="466.5" x2="1378.7" y2="466.5" stroke-width="1.9"/><line x1="1369.3" y1="479.9" x2="1378.7" y2="479.9" stroke-width="1.9"/></g>
<g stroke="#000"><line x1="1390.5" y1="471.4" x2="1390.5" y2="483.4" stroke-width="1.6"/><line x1="1385.8" y1="471.4" x2="1395.2" y2="471.4" stroke-width="1.9"/><line x1="1385.8" y1="483.4" x2="1395.2" y2="483.4" stroke-width="1.9"/></g>
<g stroke="#000"><line x1="1406.9" y1="473.5" x2="1406.9" y2="486.6" stroke-width="1.6"/><line x1="1402.2" y1="473.5" x2="1411.6" y2="473.5" stroke-width="1.9"/><line x1="1402.2" y1="486.6" x2="1411.6" y2="486.6" stroke-width="1.9"/></g>
<g stroke="#000"><line x1="1423.7" y1="473.5" x2="1423.7" y2="486.7" stroke-width="1.6"/><line x1="1419.0" y1="473.5" x2="1428.4" y2="473.5" stroke-width="1.9"/><line x1="1419.0" y1="486.7" x2="1428.4" y2="486.7" stroke-width="1.9"/></g>
<g stroke="#000"><line x1="1440.3" y1="473.5" x2="1440.3" y2="486.7" stroke-width="1.6"/><line x1="1435.6" y1="473.5" x2="1445.0" y2="473.5" stroke-width="1.9"/><line x1="1435.6" y1="486.7" x2="1445.0" y2="486.7" stroke-width="1.9"/></g>
<g stroke="#000"><line x1="1456.9" y1="476.7" x2="1456.9" y2="489.9" stroke-width="1.6"/><line x1="1452.2" y1="476.7" x2="1461.6" y2="476.7" stroke-width="1.9"/><line x1="1452.2" y1="489.9" x2="1461.6" y2="489.9" stroke-width="1.9"/></g>
<g stroke="#000"><line x1="1473.5" y1="480.0" x2="1473.5" y2="491.7" stroke-width="1.6"/><line x1="1468.8" y1="480.0" x2="1478.2" y2="480.0" stroke-width="1.9"/><line x1="1468.8" y1="491.7" x2="1478.2" y2="491.7" stroke-width="1.9"/></g>
<g stroke="#000"><line x1="1488.6" y1="480.0" x2="1488.6" y2="491.7" stroke-width="1.6"/><line x1="1483.9" y1="480.0" x2="1493.3" y2="480.0" stroke-width="1.9"/><line x1="1483.9" y1="491.7" x2="1493.3" y2="491.7" stroke-width="1.9"/></g>
<g stroke="#000"><line x1="1505.1" y1="480.0" x2="1505.1" y2="493.3" stroke-width="1.6"/><line x1="1500.4" y1="480.0" x2="1509.8" y2="480.0" stroke-width="1.9"/><line x1="1500.4" y1="493.3" x2="1509.8" y2="493.3" stroke-width="1.9"/></g>
<g stroke="#000"><line x1="1521.7" y1="480.0" x2="1521.7" y2="491.7" stroke-width="1.6"/><line x1="1517.0" y1="480.0" x2="1526.4" y2="480.0" stroke-width="1.9"/><line x1="1517.0" y1="491.7" x2="1526.4" y2="491.7" stroke-width="1.9"/></g>
<g stroke="#000"><line x1="1538.3" y1="481.8" x2="1538.3" y2="495.0" stroke-width="1.6"/><line x1="1533.6" y1="481.8" x2="1543.0" y2="481.8" stroke-width="1.9"/><line x1="1533.6" y1="495.0" x2="1543.0" y2="495.0" stroke-width="1.9"/></g>
<g stroke="#000"><line x1="1554.9" y1="481.8" x2="1554.9" y2="495.0" stroke-width="1.6"/><line x1="1550.2" y1="481.8" x2="1559.6" y2="481.8" stroke-width="1.9"/><line x1="1550.2" y1="495.0" x2="1559.6" y2="495.0" stroke-width="1.9"/></g>
<g stroke="#000"><line x1="1571.5" y1="486.7" x2="1571.5" y2="498.2" stroke-width="1.6"/><line x1="1566.8" y1="486.7" x2="1576.2" y2="486.7" stroke-width="1.9"/><line x1="1566.8" y1="498.2" x2="1576.2" y2="498.2" stroke-width="1.9"/></g>
<g stroke="#000"><line x1="1588.1" y1="486.7" x2="1588.1" y2="498.2" stroke-width="1.6"/><line x1="1583.4" y1="486.7" x2="1592.8" y2="486.7" stroke-width="1.9"/><line x1="1583.4" y1="498.2" x2="1592.8" y2="498.2" stroke-width="1.9"/></g>
<circle cx="1282.6" cy="298.7" r="4.4" fill="#9bbb59" stroke="#3a4a1e" stroke-width="1"/>
<circle cx="1291.0" cy="326.9" r="4.4" fill="#9bbb59" stroke="#3a4a1e" stroke-width="1"/>
<circle cx="1307.4" cy="393.1" r="4.4" fill="#9bbb59" stroke="#3a4a1e" stroke-width="1"/>
<circle cx="1324.1" cy="431.4" r="4.4" fill="#9bbb59" stroke="#3a4a1e" stroke-width="1"/>
<circle cx="1340.8" cy="453.1" r="4.4" fill="#9bbb59" stroke="#3a4a1e" stroke-width="1"/>
<circle cx="1357.3" cy="464.8" r="4.4" fill="#9bbb59" stroke="#3a4a1e" stroke-width="1"/>
<circle cx="1374.0" cy="473.1" r="4.4" fill="#9bbb59" stroke="#3a4a1e" stroke-width="1"/>
<circle cx="1390.5" cy="478.2" r="4.4" fill="#9bbb59" stroke="#3a4a1e" stroke-width="1"/>
<circle cx="1406.9" cy="479.6" r="4.4" fill="#9bbb59" stroke="#3a4a1e" stroke-width="1"/>
<circle cx="1423.7" cy="479.4" r="4.4" fill="#9bbb59" stroke="#3a4a1e" stroke-width="1"/>
<circle cx="1440.3" cy="479.4" r="4.4" fill="#9bbb59" stroke="#3a4a1e" stroke-width="1"/>
<circle cx="1456.9" cy="482.9" r="4.4" fill="#9bbb59" stroke="#3a4a1e" stroke-width="1"/>
<circle cx="1473.5" cy="486.1" r="4.4" fill="#9bbb59" stroke="#3a4a1e" stroke-width="1"/>
<circle cx="1488.6" cy="484.6" r="4.4" fill="#9bbb59" stroke="#3a4a1e" stroke-width="1"/>
<circle cx="1505.1" cy="486.1" r="4.4" fill="#9bbb59" stroke="#3a4a1e" stroke-width="1"/>
<circle cx="1521.7" cy="486.1" r="4.4" fill="#9bbb59" stroke="#3a4a1e" stroke-width="1"/>
<circle cx="1538.3" cy="487.9" r="4.4" fill="#9bbb59" stroke="#3a4a1e" stroke-width="1"/>
<circle cx="1554.9" cy="487.9" r="4.4" fill="#9bbb59" stroke="#3a4a1e" stroke-width="1"/>
<circle cx="1571.5" cy="491.2" r="4.4" fill="#9bbb59" stroke="#3a4a1e" stroke-width="1"/>
<circle cx="1588.1" cy="491.2" r="4.4" fill="#9bbb59" stroke="#3a4a1e" stroke-width="1"/>
<circle cx="1530" cy="304.3" r="4.2" fill="#4f81bd" stroke="#233e63" stroke-width="0.9"/>
<rect x="1525" y="350.6" width="8.2" height="8.2" fill="#c0504d" stroke="#7a2a28" stroke-width="0.8"/>
<circle cx="1530" cy="405.2" r="4.2" fill="#9bbb59" stroke="#3d4f22" stroke-width="0.9"/>
<text x="1540.3" y="312.5" font-family="'Liberation Sans', Arial, Helvetica, sans-serif" font-size="21.7">free foaming</text>
<text x="1540.3" y="362.6" font-family="'Liberation Sans', Arial, Helvetica, sans-serif" font-size="21.7">free foaming</text>
<text x="1540.3" y="413.5" font-family="'Liberation Sans', Arial, Helvetica, sans-serif" font-size="21.7">skin removal</text>
<g stroke="#111" stroke-width="1.6" fill="none" stroke-linecap="round">
<path d="M181.4,751 Q188,762 189.8,777.9"/>
<path d="M160.1,827.9 L163.8,825.7"/><path d="M168.5,821.4 L172.2,819"/><path d="M132.3,837.2 L137.9,836.8"/><path d="M104.5,834.6 L107.8,835.7"/>
</g>
<path d="M377.3,840.8 L375.3,840.7 L373.4,840.5 L371.6,840.0 L369.6,839.9 L367.7,839.6 L365.9,839.2 L364.1,838.5 L362.2,838.3 L360.4,837.5 L358.6,837.0 L356.7,836.5 L354.9,836.0 L353.2,835.1 L351.3,834.5 L349.7,833.6 L348.0,832.8 L346.3,831.9 L344.6,831.0 L343.0,830.0 L341.4,829.0 L339.7,828.2 L338.1,827.2 L336.7,825.8 L335.3,824.6 L333.6,823.7 L332.3,822.3 L331.0,821.0 L329.7,819.7 L328.3,818.4 L327.0,817.1 L325.9,815.6 L324.7,814.1 L323.7,812.6 L322.4,811.2 L321.7,809.5 L320.5,808.1 L319.5,806.5 L318.8,804.8 L317.8,803.3 L316.9,801.7 L316.2,800.0 L315.4,798.4 L314.9,796.6 L314.2,795.0 L313.6,793.2 L312.8,791.6 L312.4,789.8 L311.9,788.1 L311.2,786.4 L310.8,784.6 L312.6,784.3 L313.0,786.0 L313.7,787.7 L314.2,789.4 L314.6,791.1 L315.4,792.7 L315.9,794.4 L316.7,796.0 L317.1,797.7 L317.9,799.3 L318.5,801.0 L319.4,802.5 L320.4,804.0 L321.1,805.7 L322.1,807.1 L323.2,808.6 L323.9,810.2 L325.2,811.5 L326.2,813.1 L327.3,814.5 L328.4,815.9 L329.7,817.2 L331.0,818.5 L332.3,819.8 L333.6,821.1 L334.8,822.4 L336.5,823.3 L337.9,824.5 L339.2,825.8 L340.8,826.7 L342.4,827.6 L344.0,828.5 L345.6,829.5 L347.2,830.4 L348.9,831.2 L350.5,832.1 L352.1,833.0 L353.9,833.5 L355.6,834.3 L357.4,834.9 L359.2,835.4 L361.0,835.8 L362.7,836.6 L364.6,836.8 L366.3,837.5 L368.1,837.9 L370.0,838.2 L371.9,838.3 L373.7,838.8 L375.5,839.0 L377.4,839.1Z" fill="#1b1a12"/>
<path d="M310.4,782.8 L310.2,781.0 L309.9,779.2 L309.6,777.4 L309.5,775.6 L311.3,775.5 L311.4,777.3 L311.8,779.1 L312.1,780.8 L312.2,782.6Z" fill="#1b1a12"/>
<path d="M309.3,772.0 L309.4,770.2 L309.3,768.4 L309.2,766.5 L309.4,764.7 L309.7,762.9 L310.1,761.1 L310.5,759.3 L311.0,757.6 L311.4,755.8 L311.7,754.0 L312.3,752.3 L313.1,750.6 L313.6,748.9 L314.4,747.2 L315.2,745.5 L316.0,743.9 L316.8,742.3 L317.9,740.7 L318.7,739.1 L319.8,737.6 L320.7,736.1 L321.7,734.5 L322.8,733.0 L324.0,731.6 L324.9,730.0 L326.1,728.6 L327.3,727.2 L328.7,725.9 L329.8,724.4 L331.2,723.2 L332.4,721.7 L333.8,720.5 L335.1,719.2 L336.6,718.0 L338.0,716.8 L339.7,715.8 L341.2,714.6 L342.7,713.6 L344.3,712.6 L346.1,711.8 L347.7,710.7 L349.4,709.9 L351.2,709.2 L352.0,710.8 L350.3,711.5 L348.6,712.3 L347.0,713.3 L345.3,714.1 L343.7,715.0 L342.2,716.1 L340.7,717.2 L339.2,718.2 L337.8,719.4 L336.3,720.5 L335.0,721.8 L333.7,723.0 L332.5,724.4 L331.1,725.6 L330.1,727.1 L328.7,728.3 L327.6,729.7 L326.4,731.1 L325.5,732.6 L324.3,734.0 L323.2,735.4 L322.3,737.0 L321.4,738.5 L320.3,739.9 L319.5,741.5 L318.5,743.0 L317.7,744.6 L316.9,746.2 L316.1,747.8 L315.4,749.4 L314.9,751.1 L314.1,752.8 L313.5,754.5 L313.2,756.2 L312.8,757.9 L312.3,759.7 L311.9,761.4 L311.6,763.1 L311.2,764.9 L311.0,766.7 L311.2,768.5 L311.2,770.2 L311.2,772.0Z" fill="#1b1a12"/>
<path d="M356.6,707.2 L358.4,706.7 L360.3,706.3 L362.1,705.5 L364.0,705.1 L365.9,704.8 L367.8,704.4 L369.6,704.1 L371.5,703.8 L371.8,705.6 L370.0,705.8 L368.1,706.1 L366.3,706.5 L364.4,706.8 L362.6,707.2 L360.9,707.9 L359.1,708.3 L357.3,708.9Z" fill="#1b1a12"/>
<path d="M375.3,703.4 L377.3,703.3 L379.2,703.2 L381.1,703.2 L383.0,703.1 L384.9,703.1 L386.8,703.2 L388.7,703.2 L390.6,703.6 L392.5,703.8 L394.4,703.9 L396.3,704.2 L398.2,704.6 L397.8,706.4 L396.0,705.9 L394.2,705.7 L392.3,705.5 L390.4,705.4 L388.6,705.0 L386.7,704.9 L384.9,704.8 L383.0,704.8 L381.1,704.9 L379.3,704.9 L377.4,705.1 L375.5,705.1Z" fill="#1b1a12"/>
<path d="M455.5,777.4 L455.3,779.2 L455.2,781.0 L455.1,782.8 L455.2,784.6 L454.9,786.4 L454.3,788.1 L454.2,790.0 L453.6,791.7 L453.3,793.5 L452.5,795.2 L451.9,796.9 L451.5,798.7 L450.6,800.3 L449.8,802.0 L449.2,803.8 L448.2,805.3 L447.0,806.8 L446.2,808.5 L445.0,809.9 L443.9,811.4 L442.6,812.8 L441.6,814.3 L440.2,815.7 L439.0,817.1 L437.7,818.4 L436.2,819.5 L434.8,820.8 L433.3,822.0 L431.9,823.2 L430.4,824.3 L429.0,825.5 L427.6,826.7 L425.9,827.6 L424.5,828.9 L422.8,829.8 L421.2,830.8 L419.7,831.9 L418.8,830.4 L420.3,829.3 L421.8,828.3 L423.4,827.4 L424.8,826.2 L426.4,825.3 L427.8,824.2 L429.2,823.0 L430.7,821.9 L432.1,820.7 L433.5,819.6 L434.8,818.3 L436.3,817.2 L437.6,815.9 L438.8,814.6 L440.1,813.3 L441.1,811.7 L442.4,810.4 L443.4,809.0 L444.6,807.6 L445.4,806.0 L446.6,804.5 L447.5,803.0 L448.1,801.2 L448.9,799.6 L449.8,798.1 L450.2,796.3 L450.8,794.6 L451.5,793.0 L451.8,791.2 L452.4,789.5 L452.5,787.7 L453.0,786.0 L453.3,784.3 L453.3,782.5 L453.4,780.7 L453.4,779.0 L453.7,777.2Z" fill="#1b1a12"/>
<path d="M416.3,833.5 L414.6,834.4 L412.9,835.3 L411.1,835.8 L409.4,836.8 L407.5,837.2 L405.8,838.0 L403.9,838.6 L402.0,838.8 L400.2,839.5 L398.3,839.8 L396.4,840.2 L394.5,840.3 L392.6,840.6 L390.7,840.8 L388.8,841.2 L386.8,841.0 L386.7,839.3 L388.6,839.5 L390.5,839.1 L392.3,838.8 L394.2,838.6 L396.1,838.5 L397.9,838.1 L399.8,837.8 L401.5,837.1 L403.4,836.9 L405.2,836.3 L406.9,835.5 L408.7,835.2 L410.3,834.2 L412.1,833.7 L413.8,832.8 L415.4,832.0Z" fill="#1b1a12"/>
<path d="M564.7,753.2 L565.6,751.6 L566.3,750.0 L566.9,748.3 L567.8,746.7 L569.5,747.6 L568.7,749.1 L568.1,750.8 L567.4,752.4 L566.5,753.9Z" fill="#1a1a12"/>
<path d="M569.5,743.6 L570.5,742.1 L571.0,740.3 L572.2,738.9 L573.4,737.6 L575.0,738.7 L573.8,740.0 L572.7,741.3 L572.2,743.1 L571.3,744.5Z" fill="#1a1a12"/>
<path d="M575.5,734.7 L576.4,733.2 L577.3,731.6 L578.5,730.3 L579.7,729.1 L581.2,730.5 L580.0,731.7 L578.8,732.9 L577.9,734.4 L577.1,736.0Z" fill="#1a1a12"/>
<path d="M587.3,721.6 L588.9,720.7 L590.3,719.7 L591.5,718.3 L592.9,717.2 L594.4,716.3 L595.9,715.4 L597.4,714.5 L598.9,713.6 L600.6,713.1 L602.1,712.2 L603.8,711.5 L605.5,711.0 L607.1,710.4 L608.7,709.7 L610.4,709.2 L612.0,708.5 L613.7,707.9 L615.5,707.9 L617.2,707.3 L618.9,707.1 L620.7,706.9 L622.5,707.2 L624.2,707.2 L626.0,707.2 L627.7,707.2 L629.4,707.3 L631.2,707.2 L632.9,707.2 L634.7,707.5 L636.3,708.0 L638.1,708.2 L639.8,708.4 L641.4,709.3 L643.2,709.3 L644.9,709.6 L646.5,710.2 L648.2,710.7 L649.8,711.4 L651.4,712.2 L653.1,712.5 L654.6,713.4 L656.4,713.9 L658.0,714.5 L659.4,715.6 L660.9,716.5 L659.9,718.3 L658.5,717.4 L657.1,716.3 L655.5,715.7 L653.8,715.3 L652.4,714.4 L650.7,714.1 L649.1,713.4 L647.6,712.7 L646.0,712.1 L644.4,711.6 L642.7,711.3 L641.0,711.2 L639.4,710.5 L637.8,710.2 L636.1,710.0 L634.4,709.5 L632.8,709.3 L631.1,709.3 L629.4,709.4 L627.7,709.3 L626.0,709.2 L624.3,709.2 L622.6,709.2 L620.9,708.9 L619.2,709.1 L617.5,709.3 L615.9,709.9 L614.1,709.9 L612.5,710.5 L610.9,711.2 L609.3,711.7 L607.7,712.4 L606.1,713.0 L604.5,713.4 L602.9,714.1 L601.4,715.0 L599.8,715.5 L598.3,716.3 L596.8,717.2 L595.4,718.1 L593.9,719.0 L592.6,720.1 L591.4,721.4 L590.0,722.4 L588.5,723.3Z" fill="#1a1a12"/>
<path d="M664.0,718.2 L665.3,719.4 L666.7,720.5 L668.1,721.6 L669.8,722.4 L671.0,723.6 L672.1,725.1 L673.6,726.1 L674.9,727.3 L675.9,728.8 L676.9,730.3 L678.1,731.6 L679.0,733.2 L680.0,734.7 L681.4,735.8 L682.3,737.4 L683.1,739.0 L684.3,740.4 L684.9,742.1 L686.0,743.5 L686.8,745.1 L687.2,746.9 L688.0,748.5 L688.8,750.1 L689.5,751.8 L690.3,753.4 L690.8,755.1 L691.4,756.8 L691.8,758.6 L689.9,759.1 L689.6,757.4 L688.9,755.8 L688.5,754.1 L687.6,752.5 L687.0,750.9 L686.2,749.3 L685.5,747.8 L685.0,746.0 L684.2,744.5 L683.2,743.1 L682.6,741.4 L681.5,740.1 L680.6,738.6 L679.9,737.0 L678.4,735.9 L677.5,734.5 L676.6,732.9 L675.5,731.6 L674.5,730.2 L673.5,728.7 L672.3,727.5 L670.8,726.6 L669.8,725.1 L668.5,723.9 L666.9,723.2 L665.6,722.2 L664.2,721.1 L663.0,719.9Z" fill="#1a1a12"/>
<path d="M692.9,762.0 L693.4,763.8 L693.8,765.6 L694.3,767.4 L694.2,769.2 L694.7,771.0 L694.6,772.8 L692.6,773.0 L692.8,771.2 L692.3,769.4 L692.3,767.6 L691.9,765.9 L691.4,764.2 L691.0,762.5Z" fill="#1a1a12"/>
<path d="M694.6,776.5 L694.8,778.3 L694.3,780.1 L694.2,782.0 L694.3,783.8 L694.2,785.6 L693.7,787.4 L693.3,789.2 L693.2,791.0 L692.3,792.7 L692.3,794.5 L691.5,796.2 L690.8,797.9 L690.2,799.6 L689.7,801.3 L689.4,803.1 L688.3,804.6 L687.8,806.4 L687.1,808.0 L686.1,809.6 L685.3,811.2 L683.6,810.2 L684.4,808.6 L685.3,807.1 L686.0,805.5 L686.5,803.8 L687.5,802.3 L687.9,800.6 L688.4,798.9 L689.0,797.3 L689.6,795.6 L690.4,794.0 L690.4,792.2 L691.3,790.6 L691.4,788.8 L691.8,787.1 L692.3,785.4 L692.3,783.6 L692.3,781.8 L692.4,780.0 L692.9,778.3 L692.7,776.5Z" fill="#1a1a12"/>
<path d="M683.3,814.1 L682.3,815.7 L681.5,817.3 L680.4,818.6 L679.2,820.0 L678.2,821.5 L676.9,822.7 L675.7,824.0 L674.6,825.4 L673.3,826.6 L671.8,827.6 L670.6,828.9 L669.3,827.3 L670.5,826.1 L671.9,825.1 L673.2,824.0 L674.2,822.6 L675.5,821.4 L676.7,820.1 L677.7,818.7 L678.8,817.4 L680.0,816.1 L680.7,814.5 L681.6,813.0Z" fill="#1a1a12"/>
<path d="M668.0,831.2 L666.5,832.2 L664.9,833.0 L663.7,834.3 L662.0,834.8 L660.6,835.9 L659.2,837.0 L657.5,837.6 L656.1,838.6 L654.4,839.1 L653.7,837.3 L655.3,836.7 L656.6,835.7 L658.3,835.2 L659.6,834.2 L661.0,833.1 L662.6,832.6 L663.8,831.3 L665.3,830.5 L666.8,829.6Z" fill="#1a1a12"/>
<path d="M577.2,821.4 L576.3,819.9 L575.2,818.5 L574.3,817.0 L573.3,815.5 L572.2,814.1 L573.9,813.0 L574.9,814.4 L575.8,815.8 L576.7,817.3 L577.9,818.6 L578.7,820.1Z" fill="#1a1a12"/>
<path d="M617.2,845.8 L615.4,845.7 L613.7,845.1 L612.0,844.6 L610.3,844.1 L608.5,844.0 L606.9,843.1 L605.2,842.6 L603.6,842.1 L601.8,841.7 L600.3,840.6 L598.6,840.1 L597.0,839.4 L595.3,838.7 L593.7,837.8 L592.2,836.9 L590.8,835.7 L589.3,834.8 L587.9,833.7 L586.2,832.8 L588.5,829.8 L590.0,830.5 L591.4,831.6 L592.9,832.4 L594.1,833.6 L595.6,834.5 L597.1,835.3 L598.7,835.9 L600.2,836.6 L601.9,837.0 L603.2,838.1 L604.9,838.5 L606.5,839.0 L608.1,839.4 L609.6,840.3 L611.3,840.4 L612.9,840.9 L614.5,841.3 L616.1,841.8 L617.8,841.9Z" fill="#1a1a10"/>
<path d="M798.8,784.1 L798.8,782.3 L798.7,780.5 L798.6,778.7 L799.3,776.9 L800.2,775.2 L799.7,773.4 L801.1,771.8 L801.8,770.1 L801.9,768.4 L802.2,766.6 L803.2,765.1 L803.5,763.3 L803.7,761.6 L804.0,759.8 L805.0,758.3 L805.3,756.6 L805.2,754.6 L805.7,752.9 L806.7,751.4 L807.3,749.7 L808.1,748.1 L809.4,746.7 L810.3,745.2 L811.2,743.6 L811.1,741.3 L812.3,739.9 L813.0,738.1 L815.0,737.4 L815.5,735.4 L816.8,734.0 L817.8,732.4 L819.4,731.3 L820.1,729.3 L822.3,728.9 L823.3,727.1 L824.6,725.7 L826.0,724.3 L827.7,723.3 L829.3,722.2 L830.8,721.1 L832.4,720.0 L834.6,719.7 L836.1,718.4 L837.8,717.4 L839.6,716.7 L841.7,716.6 L843.4,715.6 L845.3,715.0 L847.3,714.9 L849.3,714.5 L851.3,714.5 L853.2,714.1 L855.1,713.9 L857.2,714.4 L859.0,713.7 L860.9,713.2 L862.8,713.4 L864.7,713.6 L866.7,714.1 L868.5,713.8 L870.4,714.0 L872.3,714.3 L874.2,713.9 L874.1,716.9 L872.3,717.4 L870.5,717.1 L868.7,716.8 L866.9,717.2 L865.1,716.7 L863.2,716.4 L861.4,716.3 L859.6,716.7 L857.9,717.5 L855.9,716.9 L854.0,717.0 L852.2,717.5 L850.3,717.4 L848.5,717.8 L846.5,717.9 L844.7,718.4 L843.1,719.4 L841.0,719.5 L839.3,720.2 L837.7,721.2 L836.2,722.3 L834.2,722.6 L832.7,723.7 L831.2,724.8 L829.6,725.8 L828.0,726.8 L826.7,728.1 L825.5,729.5 L824.5,731.2 L822.4,731.6 L821.8,733.5 L820.2,734.5 L819.3,736.1 L818.0,737.4 L817.6,739.3 L815.6,740.0 L814.9,741.7 L813.8,743.1 L814.0,745.3 L813.2,746.8 L812.3,748.3 L811.1,749.6 L810.3,751.1 L809.7,752.7 L808.7,754.1 L808.2,755.8 L808.4,757.7 L808.2,759.4 L807.1,760.8 L806.9,762.5 L806.7,764.1 L806.4,765.8 L805.4,767.3 L805.2,768.9 L805.1,770.6 L804.4,772.2 L803.0,773.7 L803.5,775.5 L802.6,777.1 L801.9,778.8 L802.0,780.5 L802.1,782.2 L802.1,783.9Z" fill="#1e1c10"/>
<path d="M904.2,718.3 L906.4,718.2 L908.0,719.3 L909.6,720.4 L911.6,720.9 L912.8,722.5 L914.6,723.2 L915.7,724.9 L917.4,725.8 L919.1,726.7 L920.6,727.8 L921.9,729.2 L922.8,731.0 L924.3,732.1 L925.3,733.7 L926.4,735.2 L928.0,736.3 L929.6,737.3 L930.8,738.7 L931.9,740.2 L933.4,741.4 L933.9,743.3 L934.9,744.8 L932.1,746.4 L931.1,745.0 L930.7,743.2 L929.2,742.0 L928.2,740.6 L927.0,739.3 L925.4,738.3 L923.9,737.3 L922.9,735.8 L921.9,734.3 L920.5,733.2 L919.7,731.5 L918.5,730.2 L917.1,729.1 L915.4,728.3 L913.8,727.4 L912.7,725.8 L911.0,725.1 L909.8,723.5 L907.9,723.1 L906.4,722.0 L904.9,721.0 L902.7,721.1Z" fill="#1e1c10"/>
<path d="M941.1,752.0 L941.9,753.7 L942.5,755.4 L944.0,756.9 L944.9,758.5 L944.8,760.5 L944.8,762.4 L945.2,764.2 L946.6,765.8 L945.7,767.8 L946.7,769.5 L946.5,771.4 L946.1,773.3 L946.5,775.1 L945.3,776.9 L945.1,778.7 L944.8,780.5 L945.4,782.3 L944.9,784.0 L943.6,785.7 L944.5,787.6 L944.0,789.3 L943.2,791.0 L942.8,792.7 L941.8,794.2 L941.3,795.9 L941.6,797.8 L940.6,799.3 L940.4,801.1 L940.1,802.8 L939.4,804.5 L939.5,806.4 L939.0,808.1 L938.9,810.1 L937.9,811.6 L937.3,813.4 L936.4,814.9 L935.8,816.7 L934.6,818.2 L933.4,819.6 L933.2,821.6 L932.0,823.1 L930.6,824.4 L929.2,825.7 L927.4,826.7 L925.9,827.9 L924.5,829.1 L922.8,830.1 L922.0,831.8 L920.1,832.6 L918.9,834.0 L916.9,834.6 L915.7,836.1 L914.0,837.0 L911.7,837.0 L910.2,838.1 L909.1,839.8 L907.1,840.1 L905.7,841.6 L903.7,841.7 L901.8,842.1 L900.4,843.5 L898.7,844.5 L896.7,844.6 L894.8,845.0 L893.1,846.0 L891.5,847.3 L889.6,847.6 L887.6,847.3 L885.7,847.9 L883.8,848.1 L881.9,848.4 L880.1,849.6 L878.1,849.1 L876.2,849.7 L874.2,849.7 L872.3,849.4 L872.3,846.4 L874.2,846.6 L876.0,846.7 L877.8,846.0 L879.8,846.6 L881.5,845.4 L883.3,845.1 L885.1,844.9 L886.9,844.3 L888.8,844.6 L890.7,844.4 L892.2,843.0 L893.8,842.1 L895.6,841.7 L897.5,841.6 L899.1,840.7 L900.4,839.3 L902.2,838.9 L904.2,838.8 L905.5,837.4 L907.4,837.1 L908.5,835.5 L909.9,834.4 L912.1,834.4 L913.8,833.6 L914.9,832.1 L916.8,831.6 L917.9,830.2 L919.7,829.5 L920.6,827.8 L922.2,826.9 L923.5,825.7 L925.0,824.6 L926.6,823.7 L928.0,822.5 L929.4,821.2 L930.5,819.8 L930.7,817.8 L931.8,816.5 L932.9,815.1 L933.5,813.4 L934.4,811.9 L934.9,810.2 L935.9,808.7 L935.9,806.9 L936.4,805.2 L936.3,803.4 L936.9,801.8 L937.2,800.1 L937.4,798.4 L938.4,797.0 L938.0,795.2 L938.6,793.6 L939.5,792.1 L940.0,790.5 L940.8,788.9 L941.2,787.2 L940.3,785.5 L941.5,783.9 L942.1,782.2 L941.4,780.5 L941.8,778.8 L942.0,777.1 L943.2,775.3 L942.8,773.6 L943.2,771.8 L943.4,770.0 L942.4,768.4 L943.4,766.4 L942.0,764.9 L941.6,763.2 L941.6,761.4 L941.7,759.5 L940.9,757.9 L939.4,756.5 L938.8,754.9 L938.0,753.3Z" fill="#1e1c10"/>
<path d="M860.7,848.7 L858.8,848.4 L856.7,848.9 L854.8,848.3 L853.1,847.2 L851.0,847.4 L849.4,845.9 L847.6,845.5 L845.5,845.4 L843.9,844.4 L842.4,842.9 L843.8,840.1 L845.1,841.5 L846.7,842.5 L848.7,842.6 L850.5,843.0 L852.0,844.4 L854.0,844.2 L855.6,845.3 L857.4,845.9 L859.4,845.4 L861.2,845.6Z" fill="#1e1c10"/>
<path d="M832.7,837.2 L831.4,835.9 L830.0,834.7 L828.1,834.1 L830.2,831.6 L831.9,832.2 L833.3,833.3 L834.5,834.6Z" fill="#1e1c10"/>
<path d="M818.7,825.4 L817.1,824.4 L816.5,822.5 L815.2,821.2 L813.1,820.5 L811.9,819.1 L811.3,817.4 L814.1,815.7 L814.7,817.4 L815.8,818.7 L817.9,819.4 L819.1,820.6 L819.6,822.4 L821.2,823.3Z" fill="#1e1c10"/>
<path d="M1147.3,716.6 L1148.7,716.4 L1150.2,716.5 L1151.6,716.1 L1153.1,716.3 L1154.5,715.8 L1156.0,715.8 L1157.5,715.3 L1159.0,715.8 L1160.4,716.0 L1161.8,716.4 L1163.3,716.5 L1164.7,717.0 L1166.1,717.2 L1167.5,717.7 L1168.9,718.1 L1170.3,718.8 L1171.7,719.0 L1173.1,719.4 L1174.5,719.8 L1175.6,720.6 L1177.0,721.0 L1178.3,721.5 L1179.7,722.0 L1180.7,723.1 L1181.9,724.0 L1183.1,724.8 L1184.4,725.6 L1185.5,726.6 L1186.9,727.0 L1188.1,727.8 L1189.3,728.4 L1190.0,729.6 L1191.1,730.5 L1191.9,731.7 L1192.8,732.7 L1193.6,734.0 L1194.8,734.9 L1195.5,736.2 L1196.3,737.4 L1197.1,738.7 L1198.4,739.5 L1199.4,740.6 L1200.3,741.8 L1201.0,743.0 L1201.7,744.3 L1202.1,745.7 L1202.7,747.0 L1203.6,748.2 L1204.6,749.3 L1205.1,750.7 L1205.6,752.1 L1206.2,753.4 L1206.8,754.7 L1207.4,756.1 L1207.7,757.5 L1208.3,758.9 L1208.6,760.3 L1209.0,761.7 L1209.4,763.1 L1209.5,764.5 L1209.8,765.9 L1209.8,767.4 L1210.4,768.8 L1210.7,770.2 L1210.9,771.7 L1211.1,773.1 L1211.0,774.6 L1211.4,776.0 L1211.4,777.5 L1211.4,778.9 L1211.1,780.4 L1210.7,781.8 L1210.2,783.2 L1210.2,784.6 L1209.7,786.0 L1209.7,787.5 L1209.0,788.9 L1208.7,790.3 L1208.1,791.6 L1207.7,793.0 L1207.2,794.4 L1206.7,795.7 L1206.4,797.0 L1206.1,798.5 L1205.8,799.9 L1204.9,801.1 L1204.0,802.3 L1202.9,803.4 L1202.6,804.9 L1201.9,806.1 L1201.6,807.6 L1200.8,808.9 L1200.1,810.1 L1198.9,811.1 L1198.1,812.2 L1197.7,813.6 L1196.9,814.8 L1196.1,816.0 L1195.0,817.0 L1194.1,818.2 L1193.4,819.5 L1192.4,820.6 L1191.7,821.9 L1190.7,823.0 L1190.2,824.4 L1189.2,825.5 L1188.4,826.7 L1187.3,827.7 L1186.4,828.8 L1185.3,829.8 L1184.3,830.9 L1183.2,831.9 L1181.8,832.4 L1180.3,832.7 L1178.9,833.2 L1177.8,834.2 L1176.6,835.1 L1175.3,835.7 L1174.0,836.4 L1172.6,837.0 L1171.3,837.5 L1169.7,837.7 L1168.4,838.2 L1167.2,839.2 L1165.9,839.8 L1164.7,840.7 L1163.3,841.2 L1162.0,842.0 L1160.6,842.4 L1159.1,842.4 L1157.6,842.4 L1156.2,842.7 L1154.8,843.1 L1153.3,843.2 L1151.8,843.4 L1150.3,843.3 L1148.9,843.6 L1147.5,844.0 L1146.1,844.4 L1144.6,844.6 L1143.2,844.6 L1141.7,844.7 L1140.3,844.7 L1138.8,844.3 L1137.3,844.3 L1135.9,844.6 L1134.5,845.3 L1133.0,845.4 L1131.6,845.8 L1130.1,845.9 L1128.7,846.2 L1127.3,846.4 L1125.8,846.5 L1124.4,846.7 L1122.9,846.3 L1121.6,846.1 L1120.2,846.1 L1118.8,845.9 L1117.4,845.4 L1116.1,844.6 L1114.8,844.2 L1113.4,843.8 L1111.9,843.5 L1110.6,842.8 L1109.1,842.8 L1107.7,842.2 L1106.3,841.8 L1105.0,841.3 L1103.6,840.9 L1102.1,840.8 L1100.8,840.1 L1099.5,839.3 L1098.4,838.4 L1097.4,837.3 L1096.2,836.4 L1095.2,835.4 L1094.0,834.5 L1092.9,833.6 L1092.0,832.4 L1090.8,831.6 L1090.0,830.3 L1088.6,829.6 L1087.9,828.3 L1086.8,827.3 L1085.9,826.1 L1084.6,825.4 L1083.6,824.3 L1082.7,823.1 L1082.1,821.8 L1081.3,820.5 L1080.5,819.3 L1080.1,817.9 L1079.2,816.7 L1078.4,815.5 L1077.4,814.4 L1076.8,813.0 L1076.4,811.6 L1075.5,810.4 L1074.6,809.2 L1073.5,808.3 L1072.7,807.0 L1072.2,805.7 L1071.6,804.4 L1071.0,803.1 L1070.3,801.8 L1070.0,800.3 L1069.9,798.9 L1069.7,797.4 L1069.5,796.0 L1069.2,794.5 L1069.2,793.0 L1069.2,791.6 L1068.8,790.2 L1068.3,788.8 L1068.1,787.4 L1068.0,786.0 L1067.9,784.5 L1067.5,783.1 L1067.4,781.7 L1067.1,780.2 L1067.1,778.7 L1067.0,777.3 L1067.2,775.8 L1067.0,774.4 L1067.1,772.9 L1067.2,771.5 L1067.2,770.1 L1067.3,768.6 L1067.3,767.1 L1068.0,765.8 L1068.7,764.5 L1069.5,763.2 L1069.9,761.8 L1070.0,760.3 L1070.4,758.9 L1070.7,757.5 L1071.4,756.2 L1071.8,754.8 L1072.4,753.4 L1072.7,752.0 L1073.3,750.6 L1074.4,749.6 L1075.6,748.6 L1076.7,747.6 L1077.1,746.1 L1077.8,744.8 L1078.4,743.4 L1079.4,742.3 L1080.5,741.2 L1081.6,740.2 L1082.9,739.5 L1084.4,739.1 L1085.7,738.5 L1087.2,738.1 L1088.3,737.2 L1089.7,736.7 L1091.1,736.2 L1092.5,735.8 L1093.9,735.3 L1095.3,734.8 L1096.7,734.4 L1098.0,733.7 L1099.2,732.9 L1100.3,731.9 L1101.6,731.3 L1102.8,730.6 L1103.9,729.7 L1105.1,728.7 L1105.9,727.5 L1106.8,726.4 L1107.6,725.2 L1108.7,724.3 L1109.5,723.5 L1110.6,722.9 L1111.8,722.2 L1113.1,721.7 L1114.4,721.1 L1115.9,720.8 L1117.3,720.4 L1118.7,720.0 L1120.0,719.5 L1121.4,719.3 L1122.7,719.0 L1124.1,719.0 L1125.6,718.7 L1127.0,718.2 L1128.5,718.0 L1129.9,717.9 L1131.4,717.9 L1132.8,718.0 L1134.3,718.3 L1135.8,718.4 L1137.2,717.8 L1138.6,717.4 L1140.1,717.7 L1141.6,717.7 L1141.9,721.3 L1140.4,721.4 L1138.9,721.5 L1137.3,721.8 L1135.8,722.4 L1134.3,721.9 L1132.8,722.2 L1131.4,721.5 L1129.9,721.5 L1128.5,721.2 L1127.0,721.7 L1125.6,721.9 L1124.2,722.0 L1123.0,721.9 L1121.8,721.6 L1120.7,722.1 L1119.3,722.1 L1118.0,722.7 L1116.5,722.8 L1115.2,723.4 L1113.9,724.2 L1112.8,724.9 L1111.6,725.1 L1110.6,725.0 L1109.6,725.2 L1109.0,726.2 L1108.3,727.4 L1107.4,728.5 L1106.7,729.8 L1106.0,731.4 L1105.2,733.3 L1103.6,734.4 L1102.1,735.5 L1100.6,736.1 L1099.4,737.1 L1098.0,737.4 L1096.7,738.1 L1095.5,738.8 L1094.3,739.6 L1093.1,740.2 L1091.5,740.3 L1090.2,740.9 L1088.9,741.5 L1087.6,742.2 L1086.4,742.9 L1085.0,743.0 L1084.3,744.1 L1083.6,744.6 L1083.4,745.8 L1082.7,746.8 L1082.1,748.1 L1080.8,748.9 L1079.7,749.9 L1078.6,750.9 L1078.0,752.2 L1076.9,753.1 L1076.0,753.9 L1075.2,754.8 L1075.1,756.0 L1074.9,757.4 L1075.0,758.9 L1074.6,760.3 L1073.9,761.6 L1072.8,762.8 L1072.0,764.0 L1071.8,765.5 L1071.3,766.9 L1071.0,768.2 L1070.1,769.3 L1070.1,770.5 L1070.2,771.6 L1070.8,772.9 L1070.7,774.3 L1070.8,775.7 L1070.6,777.2 L1070.5,778.6 L1070.2,780.1 L1069.7,781.6 L1070.1,783.0 L1070.4,784.4 L1071.0,785.7 L1070.9,787.0 L1070.9,788.3 L1071.4,789.6 L1071.8,791.0 L1071.6,792.5 L1071.9,794.0 L1072.0,795.4 L1072.5,796.8 L1073.0,798.2 L1073.4,799.6 L1074.1,800.8 L1073.7,802.2 L1074.2,803.3 L1074.2,804.6 L1074.9,805.6 L1075.6,806.9 L1076.4,808.1 L1077.6,809.0 L1078.5,810.2 L1079.7,811.2 L1080.1,812.6 L1081.0,813.8 L1081.7,815.1 L1082.7,816.2 L1083.7,817.3 L1084.3,818.6 L1085.2,819.7 L1086.1,820.7 L1086.9,821.7 L1087.6,822.6 L1088.2,823.8 L1089.6,824.4 L1090.9,825.0 L1091.8,826.2 L1093.1,827.0 L1094.0,828.2 L1095.0,829.2 L1096.0,830.2 L1097.2,831.1 L1098.4,832.0 L1099.2,833.2 L1100.3,834.2 L1101.4,835.0 L1102.3,836.0 L1102.8,837.0 L1103.8,837.2 L1104.8,837.7 L1106.0,838.2 L1107.2,839.1 L1108.7,839.4 L1110.2,839.4 L1111.6,839.9 L1112.8,840.7 L1114.2,841.2 L1115.5,842.0 L1116.8,842.5 L1118.2,842.9 L1119.6,843.1 L1120.9,843.0 L1121.9,843.6 L1122.9,843.7 L1124.2,843.8 L1125.5,843.3 L1126.9,843.3 L1128.4,843.0 L1129.9,843.1 L1131.3,843.0 L1132.8,842.8 L1134.2,842.6 L1135.7,842.5 L1137.2,842.9 L1138.6,842.6 L1140.0,842.1 L1141.4,841.3 L1142.7,840.8 L1144.1,840.9 L1145.5,841.1 L1146.8,840.7 L1148.3,840.6 L1149.7,840.3 L1151.2,840.6 L1152.6,840.0 L1154.0,839.6 L1155.3,838.6 L1156.6,837.7 L1158.0,837.3 L1159.4,837.0 L1160.9,837.1 L1162.0,836.4 L1163.2,836.4 L1164.1,835.7 L1165.4,835.4 L1166.5,834.4 L1168.0,834.2 L1169.3,833.5 L1170.8,833.2 L1172.2,832.8 L1173.6,832.3 L1174.8,831.4 L1175.9,830.5 L1177.0,829.4 L1178.5,829.1 L1179.8,828.7 L1181.0,828.2 L1182.1,827.8 L1182.8,827.0 L1184.0,826.6 L1184.4,825.2 L1185.6,824.3 L1186.1,822.9 L1187.2,821.9 L1188.2,820.9 L1189.8,820.3 L1190.7,819.2 L1191.2,817.7 L1191.7,816.2 L1192.8,815.2 L1194.2,814.5 L1195.0,813.3 L1195.8,812.2 L1196.3,811.1 L1197.6,810.4 L1198.2,809.1 L1198.9,807.9 L1199.6,806.6 L1199.9,805.2 L1200.9,804.0 L1200.9,802.4 L1202.1,801.4 L1202.3,799.8 L1203.3,798.7 L1203.8,797.3 L1204.3,796.1 L1204.8,795.0 L1204.6,793.6 L1204.8,792.4 L1205.0,791.0 L1205.8,789.7 L1206.4,788.3 L1206.5,786.8 L1206.2,785.3 L1206.2,783.8 L1206.5,782.4 L1207.4,781.1 L1207.2,779.8 L1207.6,778.7 L1207.4,777.6 L1207.7,776.4 L1207.1,775.1 L1206.5,773.7 L1206.5,772.3 L1206.4,770.8 L1206.5,769.3 L1205.8,767.9 L1205.3,766.5 L1205.2,765.1 L1205.3,763.8 L1205.7,762.5 L1205.5,761.3 L1205.2,760.0 L1204.6,758.8 L1203.9,757.5 L1203.2,756.2 L1202.7,754.9 L1202.2,753.5 L1201.8,752.1 L1201.3,750.7 L1200.7,749.4 L1200.1,748.1 L1199.2,747.1 L1198.7,745.9 L1198.0,745.0 L1197.6,743.6 L1196.6,742.6 L1195.8,741.4 L1194.8,740.3 L1194.6,738.7 L1193.8,737.4 L1192.9,736.3 L1192.1,735.1 L1191.3,733.9 L1190.6,732.6 L1189.9,731.4 L1189.2,730.5 L1188.2,729.8 L1187.1,729.3 L1185.7,728.9 L1184.5,728.1 L1183.3,727.4 L1182.1,726.5 L1180.6,726.3 L1179.3,725.4 L1178.0,724.9 L1176.9,724.0 L1175.6,723.8 L1174.5,723.5 L1173.5,723.3 L1172.2,723.1 L1170.9,722.5 L1169.6,721.7 L1168.3,721.1 L1166.8,721.1 L1165.2,721.5 L1163.8,721.2 L1162.3,721.0 L1161.0,720.5 L1159.7,720.8 L1158.7,720.5 L1157.6,720.2 L1156.4,720.3 L1155.0,720.2 L1153.6,720.4 L1152.2,720.8 L1150.7,721.1 L1149.3,721.7 L1147.9,721.7Z" fill="#0e0d0b"/>
<path d="M1374.5,836.2 L1373.1,836.7 L1371.8,837.4 L1370.4,836.9 L1368.9,836.4 L1367.5,835.7 L1366.1,835.7 L1364.7,835.5 L1363.3,835.4 L1361.9,835.9 L1360.6,836.5 L1359.3,837.5 L1357.9,837.3 L1356.6,836.8 L1355.4,836.5 L1354.2,835.6 L1352.9,835.3 L1351.7,834.6 L1350.3,834.3 L1348.7,834.5 L1347.4,833.9 L1346.2,833.4 L1344.9,832.7 L1343.6,832.4 L1342.2,832.1 L1341.3,830.7 L1340.4,829.2 L1339.0,829.0 L1337.3,829.2 L1335.8,829.1 L1334.6,828.3 L1333.6,827.3 L1332.8,826.1 L1332.1,824.7 L1330.9,823.9 L1329.4,823.7 L1328.1,823.1 L1327.4,821.6 L1326.9,820.0 L1325.8,819.1 L1324.2,818.9 L1323.0,818.2 L1322.0,817.3 L1321.6,815.6 L1320.4,815.1 L1319.7,813.9 L1318.2,813.4 L1317.4,812.3 L1316.2,811.5 L1315.7,810.1 L1315.1,808.8 L1313.7,808.1 L1312.2,807.6 L1310.9,806.9 L1310.7,805.2 L1310.5,803.6 L1310.1,802.2 L1308.7,801.6 L1307.3,800.7 L1307.1,799.3 L1307.0,797.9 L1307.3,796.4 L1306.7,795.1 L1306.9,793.6 L1306.2,792.4 L1305.4,791.1 L1304.2,790.0 L1304.1,788.6 L1304.2,787.1 L1304.5,785.7 L1303.9,784.4 L1303.3,783.0 L1303.8,781.6 L1304.1,780.2 L1304.7,778.9 L1304.5,777.5 L1305.6,776.3 L1306.6,775.1 L1307.2,773.8 L1306.7,772.2 L1306.7,770.8 L1306.8,769.4 L1307.6,768.2 L1307.1,766.7 L1306.8,765.2 L1307.0,763.8 L1307.1,762.4 L1308.6,761.4 L1308.7,759.9 L1309.5,758.8 L1310.1,757.6 L1310.9,756.4 L1312.0,755.5 L1311.9,753.7 L1313.1,752.9 L1313.8,751.7 L1314.6,750.6 L1314.9,749.1 L1315.9,748.1 L1317.5,747.7 L1318.2,746.5 L1319.1,745.4 L1319.4,743.6 L1321.1,743.6 L1321.9,742.4 L1323.2,741.7 L1323.6,740.0 L1325.4,740.0 L1326.8,739.5 L1328.6,739.5 L1329.1,737.9 L1330.2,737.1 L1330.7,735.4 L1332.1,735.1 L1333.1,734.1 L1334.5,733.6 L1335.8,733.2 L1337.2,733.0 L1338.4,732.3 L1339.6,731.4 L1340.9,731.1 L1342.6,731.4 L1343.7,730.6 L1345.1,730.2 L1346.2,729.3 L1347.6,729.1 L1348.8,728.2 L1350.2,728.5 L1351.5,728.0 L1352.8,727.3 L1354.1,726.8 L1355.7,727.7 L1357.1,727.4 L1358.4,726.8 L1359.8,726.6 L1361.3,727.4 L1362.7,726.9 L1364.0,726.5 L1365.2,725.6 L1366.7,725.9 L1368.0,725.3 L1369.3,724.7 L1370.6,724.4 L1372.1,724.8 L1373.4,724.2 L1374.7,723.2 L1376.0,723.0 L1377.5,723.2 L1378.9,723.2 L1380.2,722.5 L1381.5,722.0 L1382.8,721.5 L1384.1,721.2 L1385.5,721.5 L1386.9,722.5 L1388.3,722.9 L1389.7,723.2 L1391.1,723.4 L1392.5,723.4 L1393.8,722.5 L1395.2,722.0 L1396.6,721.4 L1397.9,721.5 L1399.3,721.5 L1400.4,722.8 L1401.7,723.3 L1402.7,724.6 L1404.3,724.1 L1405.6,724.7 L1407.2,724.5 L1408.3,725.3 L1409.3,726.7 L1410.4,727.8 L1411.8,728.0 L1413.0,728.3 L1414.4,728.3 L1415.3,729.4 L1416.4,730.1 L1417.4,731.1 L1418.9,731.4 L1420.3,731.8 L1421.5,732.4 L1422.5,733.4 L1423.8,734.1 L1425.0,734.7 L1426.2,735.5 L1427.6,735.8 L1428.9,736.3 L1430.0,737.3 L1430.7,738.7 L1431.5,740.1 L1432.7,740.7 L1433.5,741.8 L1434.9,742.0 L1436.1,742.7 L1437.5,743.2 L1438.7,744.0 L1439.5,745.2 L1440.7,745.9 L1441.8,746.8 L1443.0,747.5 L1444.1,748.4 L1444.5,749.8 L1445.9,750.4 L1446.8,751.4 L1448.2,752.1 L1448.3,753.7 L1448.9,755.0 L1449.8,756.0 L1450.7,757.1 L1450.7,758.4 L1451.0,759.6 L1451.2,760.8 L1451.8,762.3 L1451.4,763.6 L1450.9,765.0 L1450.4,766.3 L1450.3,767.7 L1450.1,769.1 L1449.3,770.4 L1448.8,771.7 L1449.3,773.2 L1450.1,774.7 L1450.1,776.1 L1449.7,777.4 L1448.7,778.7 L1448.2,780.0 L1447.7,781.3 L1448.1,782.8 L1447.5,784.1 L1447.3,785.5 L1447.3,786.9 L1447.8,788.4 L1448.2,789.9 L1447.0,791.1 L1447.1,792.5 L1446.6,793.8 L1446.2,795.1 L1445.3,796.2 L1444.6,797.3 L1444.0,798.6 L1443.4,799.8 L1442.7,801.1 L1442.6,802.6 L1441.5,803.6 L1439.9,804.2 L1438.9,805.2 L1437.9,806.2 L1437.6,807.7 L1436.6,808.6 L1436.0,809.9 L1435.2,811.0 L1434.9,812.5 L1434.4,814.0 L1433.2,814.8 L1431.5,814.7 L1430.1,815.3 L1428.9,816.0 L1428.3,817.5 L1427.2,818.4 L1425.8,818.8 L1424.7,819.6 L1423.1,819.8 L1422.2,820.8 L1420.7,821.2 L1419.8,822.2 L1418.5,822.9 L1417.5,823.8 L1416.1,824.2 L1414.9,824.7 L1413.5,825.0 L1412.5,826.1 L1411.4,826.9 L1410.1,827.5 L1408.7,827.8 L1407.4,828.3 L1406.6,829.8 L1405.6,830.9 L1404.3,831.5 L1402.7,831.3 L1401.2,831.5 L1400.2,832.6 L1399.0,833.3 L1397.8,833.9 L1396.6,834.5 L1395.2,834.5 L1393.9,834.7 L1392.4,834.0 L1391.1,834.6 L1389.7,834.4 L1388.4,835.4 L1387.0,835.9 L1385.7,836.9 L1384.3,836.5 L1382.9,836.3 L1381.4,835.4 L1380.0,835.9 L1379.6,830.2 L1380.9,828.8 L1382.2,828.8 L1383.5,828.2 L1385.0,828.4 L1386.3,827.8 L1387.7,828.2 L1389.2,828.5 L1390.5,827.5 L1391.8,827.0 L1393.1,827.2 L1394.3,828.0 L1395.3,828.7 L1395.7,827.6 L1396.3,827.0 L1397.4,826.7 L1398.9,826.8 L1399.8,825.6 L1401.3,825.4 L1401.9,823.6 L1403.6,823.9 L1404.6,822.7 L1406.5,823.4 L1407.4,822.1 L1408.3,820.9 L1409.1,819.5 L1410.5,819.1 L1411.5,818.3 L1412.4,817.4 L1413.1,816.3 L1414.2,816.0 L1415.6,815.9 L1416.9,815.4 L1418.1,814.7 L1419.5,814.3 L1420.5,813.3 L1421.9,812.9 L1422.7,811.6 L1424.1,811.2 L1425.5,810.8 L1426.5,809.7 L1427.6,809.1 L1428.3,808.1 L1428.7,807.5 L1428.7,806.9 L1429.1,806.3 L1430.5,806.2 L1431.5,805.3 L1432.7,804.4 L1433.8,803.4 L1434.9,802.5 L1435.1,801.0 L1435.8,799.8 L1436.8,798.8 L1438.1,798.0 L1437.8,796.1 L1438.0,794.7 L1438.1,793.6 L1439.1,793.4 L1439.5,792.9 L1439.0,792.1 L1438.1,790.9 L1439.2,789.8 L1440.7,788.6 L1441.8,787.4 L1440.7,785.8 L1439.7,784.2 L1439.2,782.7 L1440.8,781.6 L1442.0,780.4 L1443.5,779.2 L1443.1,777.8 L1443.5,776.5 L1443.2,775.1 L1443.8,773.8 L1443.1,772.3 L1443.4,770.9 L1443.7,769.6 L1444.6,768.3 L1444.2,766.8 L1444.7,765.5 L1445.0,764.1 L1444.6,762.7 L1444.7,761.4 L1444.7,760.4 L1444.8,760.0 L1443.8,760.4 L1444.3,760.3 L1444.9,759.0 L1444.1,758.1 L1442.2,757.8 L1440.4,757.4 L1440.3,756.2 L1440.0,755.4 L1440.2,754.1 L1440.3,752.5 L1439.6,751.3 L1438.1,750.9 L1436.8,750.4 L1435.5,749.8 L1434.3,749.0 L1432.9,748.5 L1432.5,746.9 L1432.0,745.6 L1431.6,744.2 L1430.7,743.5 L1430.1,742.2 L1429.0,741.3 L1427.2,741.7 L1425.6,741.6 L1424.2,741.2 L1423.1,740.3 L1421.8,739.8 L1420.9,738.6 L1419.9,737.6 L1419.0,736.5 L1417.1,736.8 L1415.9,736.1 L1415.0,734.9 L1413.9,734.1 L1412.9,733.4 L1411.6,733.8 L1410.9,733.2 L1410.0,732.6 L1409.3,731.1 L1408.0,730.7 L1406.3,731.2 L1404.7,731.8 L1403.3,731.5 L1402.4,729.8 L1401.3,728.8 L1400.3,727.5 L1399.0,727.1 L1398.0,726.3 L1396.9,726.5 L1396.0,726.5 L1394.9,727.9 L1393.8,726.9 L1392.4,726.7 L1391.1,726.0 L1389.7,727.0 L1388.3,727.4 L1386.9,726.7 L1385.6,726.4 L1384.4,727.4 L1383.6,728.9 L1382.7,729.8 L1381.5,729.4 L1380.1,729.3 L1378.6,728.5 L1377.2,728.8 L1375.8,728.8 L1374.6,730.0 L1373.3,730.6 L1371.8,730.0 L1370.4,730.0 L1368.8,728.9 L1367.8,730.8 L1366.2,730.2 L1365.1,731.7 L1363.7,731.8 L1362.4,732.2 L1361.0,732.6 L1359.6,732.5 L1358.5,734.0 L1356.8,732.8 L1355.5,733.5 L1354.1,733.2 L1353.1,734.9 L1351.9,735.3 L1351.1,736.0 L1349.8,735.2 L1349.0,736.5 L1347.3,735.5 L1346.2,736.6 L1344.4,735.9 L1343.6,737.5 L1342.3,738.0 L1341.3,739.2 L1340.2,740.1 L1338.7,740.2 L1337.1,739.8 L1335.4,739.0 L1334.5,739.7 L1334.2,741.2 L1333.7,742.0 L1332.4,742.3 L1331.1,742.7 L1330.2,743.8 L1330.1,745.9 L1328.8,746.4 L1327.6,747.3 L1326.3,747.8 L1325.7,749.2 L1324.9,750.4 L1323.9,751.2 L1322.9,751.5 L1322.5,752.0 L1322.3,752.7 L1322.1,753.6 L1321.7,754.8 L1321.1,756.1 L1320.6,757.4 L1319.8,758.5 L1318.4,759.3 L1318.1,760.7 L1317.4,761.9 L1316.0,762.6 L1314.8,763.0 L1313.2,763.2 L1313.9,764.3 L1313.7,765.2 L1314.3,766.6 L1313.2,767.8 L1312.2,769.0 L1311.1,770.2 L1311.9,771.8 L1312.1,773.2 L1312.0,774.6 L1311.3,775.9 L1311.6,777.4 L1312.4,779.0 L1311.7,780.2 L1310.6,781.4 L1310.5,782.7 L1310.6,783.6 L1311.5,784.2 L1310.7,784.8 L1310.9,785.6 L1311.4,786.8 L1312.7,787.9 L1313.0,789.2 L1313.8,790.5 L1313.0,792.1 L1313.8,793.3 L1312.8,795.0 L1314.3,796.0 L1313.9,797.3 L1314.7,797.9 L1314.5,798.5 L1314.8,799.1 L1314.6,800.4 L1315.4,801.4 L1316.4,802.4 L1318.1,802.8 L1319.2,803.7 L1320.6,804.3 L1321.2,805.7 L1321.5,807.2 L1322.2,808.5 L1322.9,809.5 L1324.3,809.8 L1324.9,810.5 L1326.0,810.5 L1325.9,812.4 L1326.6,813.5 L1327.1,815.2 L1328.7,815.4 L1329.8,816.2 L1331.1,816.8 L1331.6,818.4 L1332.7,819.3 L1334.0,819.9 L1336.0,819.5 L1337.6,819.6 L1338.5,820.7 L1339.1,821.9 L1339.9,822.5 L1340.5,823.3 L1341.1,824.6 L1342.3,824.8 L1344.0,824.2 L1345.7,823.7 L1347.1,824.1 L1348.2,825.0 L1349.2,826.1 L1350.6,826.5 L1351.4,828.2 L1353.1,827.7 L1353.9,829.4 L1355.3,829.7 L1356.1,831.1 L1357.1,831.3 L1357.9,831.1 L1358.5,830.5 L1359.2,830.9 L1360.3,830.7 L1361.7,831.1 L1363.0,829.8 L1364.4,830.2 L1365.8,830.2 L1367.2,830.9 L1368.6,831.1 L1370.0,830.7 L1371.3,829.9 L1372.7,828.9 L1374.1,829.6Z" fill="#1c1a14"/>
<path d="M1368.6,831.6 L1367.3,832.0 L1365.9,832.0 L1364.5,832.2 L1363.1,832.3 L1361.7,832.2 L1360.4,832.0 L1359.2,831.9 L1358.4,831.8 L1357.7,832.1 L1356.9,832.1 L1355.8,831.8 L1354.7,830.9 L1353.5,830.4 L1352.2,829.7 L1350.8,829.6 L1349.6,828.9 L1348.2,828.6 L1346.9,828.0 L1345.7,827.3 L1344.5,826.5 L1343.4,825.7 L1342.1,825.2 L1340.9,825.0 L1339.9,824.4 L1339.0,823.9 L1338.4,823.0 L1337.4,822.2 L1336.1,821.7 L1335.0,820.8 L1333.7,820.2 L1332.9,819.1 L1331.6,818.5 L1330.4,817.7 L1329.0,817.2 L1328.1,816.1 L1327.1,815.2 L1326.0,814.3 L1324.9,813.6 L1324.0,812.9 L1323.4,812.0 L1322.6,811.3 L1321.7,810.5 L1320.7,809.6 L1319.9,808.5 L1319.3,807.2 L1318.4,806.2 L1317.6,805.0 L1316.6,804.0 L1315.9,802.8 L1315.0,801.7 L1314.2,800.8 L1316.1,799.3 L1316.6,800.5 L1317.6,801.4 L1318.5,802.5 L1319.7,803.3 L1320.2,804.7 L1321.2,805.7 L1322.0,806.8 L1323.2,807.6 L1323.8,808.8 L1324.2,809.9 L1324.9,810.4 L1325.8,810.7 L1326.8,811.2 L1327.6,812.2 L1328.6,813.2 L1329.6,814.1 L1330.6,815.1 L1331.5,816.2 L1332.9,816.7 L1334.2,817.2 L1335.8,817.5 L1336.5,818.9 L1337.5,819.8 L1338.2,821.1 L1339.2,821.8 L1340.0,822.5 L1341.0,822.5 L1342.1,822.4 L1343.2,822.8 L1344.2,823.9 L1345.2,824.8 L1346.5,825.4 L1347.8,825.9 L1349.2,826.3 L1350.7,826.3 L1352.1,826.4 L1353.2,827.4 L1354.3,828.5 L1355.5,829.0 L1356.9,829.0 L1358.0,828.7 L1358.3,829.4 L1358.6,829.8 L1359.2,830.4 L1360.3,830.1 L1361.6,829.7 L1362.9,829.5 L1364.3,829.5 L1365.7,829.7 L1367.1,829.8 L1368.5,829.6Z" fill="#4c4226"/>
<path d="M1441.3,791.5 L1441.4,792.6 L1441.3,793.5 L1441.2,794.3 L1440.8,795.1 L1440.3,796.2 L1439.5,797.2 L1438.6,798.3 L1437.4,799.2 L1436.7,800.4 L1436.1,801.7 L1435.4,802.9 L1434.8,804.1 L1433.6,805.0 L1432.9,806.2 L1432.1,807.2 L1431.7,808.4 L1431.2,809.1 L1430.5,809.5 L1429.6,809.9 L1428.5,810.4 L1427.5,811.3 L1426.5,809.9 L1427.4,808.8 L1428.1,807.9 L1428.5,807.2 L1428.9,807.0 L1429.4,806.6 L1430.4,806.0 L1430.7,804.7 L1431.8,803.8 L1432.3,802.4 L1433.6,801.7 L1433.9,800.2 L1435.1,799.3 L1435.5,797.9 L1436.5,796.9 L1437.0,795.6 L1438.1,794.7 L1438.5,793.8 L1438.7,793.2 L1438.9,792.7 L1439.2,792.1 L1439.2,791.1Z" fill="#4c4226"/>
<path d="M1564.2,761.1 L1564.4,759.7 L1564.9,758.5 L1565.7,757.4 L1565.6,756.0 L1566.3,754.9 L1567.0,753.8 L1568.3,753.0 L1569.1,751.9 L1569.7,750.9 L1570.6,749.9 L1571.6,749.2 L1572.5,748.3 L1573.3,747.4 L1573.9,746.1 L1574.8,745.3 L1575.9,744.6 L1577.1,744.1 L1578.9,744.6 L1579.6,743.8 L1580.4,742.9 L1581.5,742.4 L1582.7,742.2 L1584.1,742.8 L1585.3,742.7 L1586.5,742.1 L1587.7,741.6 L1589.0,741.5 L1590.3,741.9 L1591.4,741.1 L1592.6,740.8 L1593.8,740.1 L1595.1,739.9 L1596.4,740.5 L1597.6,740.7 L1598.9,740.9 L1600.1,740.2 L1601.4,740.3 L1602.7,740.9 L1603.9,741.0 L1605.2,741.3 L1606.4,740.6 L1607.6,741.3 L1608.8,740.9 L1610.0,741.2 L1611.3,741.2 L1612.5,741.2 L1613.8,741.3 L1615.0,741.1 L1616.3,740.7 L1617.6,740.3 L1618.9,739.8 L1620.1,740.7 L1621.2,741.7 L1622.2,742.5 L1623.4,742.9 L1624.7,742.4 L1625.9,742.8 L1627.1,743.1 L1628.3,743.9 L1629.5,744.0 L1630.9,743.6 L1632.1,743.7 L1633.3,744.2 L1634.5,744.5 L1635.5,745.3 L1636.5,745.9 L1637.6,746.3 L1639.1,746.2 L1640.1,746.8 L1640.9,748.0 L1641.9,748.8 L1643.3,748.8 L1644.4,749.4 L1645.5,750.1 L1646.4,751.0 L1647.6,751.5 L1648.6,752.3 L1649.7,752.9 L1651.0,753.0 L1652.1,753.7 L1653.3,753.9 L1654.6,754.1 L1656.0,754.2 L1656.8,755.4 L1657.7,756.2 L1658.8,756.9 L1659.8,757.6 L1660.7,758.5 L1661.8,759.2 L1663.4,758.9 L1664.8,759.0 L1665.8,759.7 L1666.6,760.8 L1667.6,761.5 L1668.2,762.7 L1668.9,763.6 L1668.9,765.2 L1670.2,765.8 L1671.1,766.7 L1672.0,767.6 L1672.3,768.9 L1673.0,770.0 L1674.2,770.6 L1675.0,771.6 L1675.6,772.7 L1676.2,773.9 L1677.0,774.8 L1678.3,775.3 L1679.2,776.2 L1680.6,776.8 L1681.1,778.0 L1681.7,779.0 L1681.8,780.5 L1682.4,781.6 L1682.8,782.8 L1683.7,783.7 L1684.0,785.1 L1685.0,785.8 L1685.4,787.1 L1686.5,787.9 L1687.3,788.9 L1688.3,789.7 L1689.4,790.5 L1689.4,791.9 L1689.9,793.0 L1689.9,794.3 L1690.3,795.4 L1690.6,796.6 L1691.0,797.7 L1691.9,798.8 L1692.9,799.8 L1692.8,801.1 L1693.0,802.4 L1692.9,803.7 L1693.5,804.8 L1693.2,806.2 L1693.4,807.5 L1693.6,808.7 L1694.3,809.8 L1694.9,810.9 L1695.2,812.0 L1695.2,813.1 L1694.8,814.2 L1695.4,815.4 L1695.2,816.6 L1695.8,818.0 L1694.6,819.1 L1694.7,820.4 L1694.0,821.5 L1694.3,822.8 L1693.9,824.0 L1694.0,825.3 L1693.5,826.4 L1692.5,827.0 L1691.6,827.5 L1690.7,828.2 L1689.8,829.0 L1688.8,829.7 L1687.8,830.6 L1686.8,831.3 L1685.4,831.4 L1684.0,831.5 L1683.1,832.4 L1682.2,833.4 L1681.0,833.8 L1679.9,834.3 L1678.9,834.9 L1678.0,835.9 L1676.9,836.1 L1675.7,836.7 L1674.6,837.2 L1673.3,837.4 L1672.0,837.3 L1670.9,837.9 L1669.7,838.2 L1668.5,838.6 L1667.1,838.3 L1666.0,839.0 L1664.9,839.7 L1663.6,839.9 L1662.3,839.8 L1660.9,839.3 L1659.7,839.7 L1658.6,840.4 L1657.5,841.1 L1656.5,842.3 L1655.3,842.6 L1654.1,842.9 L1652.6,842.2 L1651.4,842.3 L1650.1,842.3 L1648.9,842.9 L1647.9,843.8 L1646.7,844.2 L1645.5,844.4 L1644.2,844.4 L1643.0,844.4 L1641.8,844.6 L1640.7,844.8 L1639.5,844.8 L1638.3,845.4 L1637.0,845.3 L1635.8,845.2 L1634.5,845.1 L1633.3,845.7 L1632.0,846.5 L1630.8,846.7 L1629.5,846.7 L1628.3,846.1 L1627.0,845.7 L1625.8,845.5 L1624.5,845.6 L1623.3,846.1 L1622.2,845.6 L1621.3,844.8 L1620.8,843.4 L1619.8,842.8 L1618.7,842.2 L1617.4,842.0 L1616.0,841.8 L1614.3,842.0 L1613.1,841.7 L1612.5,840.3 L1611.9,838.9 L1611.4,837.4 L1609.9,837.4 L1609.0,836.6 L1607.9,835.9 L1607.0,835.0 L1605.4,835.2 L1604.1,834.9 L1603.4,833.7 L1603.1,832.1 L1602.0,831.7 L1600.6,831.4 L1599.5,830.7 L1598.5,830.0 L1597.9,828.8 L1597.2,827.7 L1596.3,826.8 L1595.6,825.8 L1594.5,825.1 L1594.3,823.6 L1592.9,823.1 L1591.9,822.4 L1591.0,821.5 L1590.1,820.6 L1589.6,819.4 L1588.1,819.1 L1587.1,818.4 L1586.1,817.6 L1585.6,816.4 L1585.3,815.1 L1584.3,814.4 L1583.9,813.2 L1583.4,812.1 L1582.8,810.9 L1582.5,809.7 L1581.1,809.1 L1580.2,808.2 L1579.4,807.2 L1579.2,805.9 L1579.1,804.4 L1578.6,803.3 L1576.5,803.0 L1575.4,802.3 L1574.8,801.1 L1573.7,800.3 L1573.5,799.0 L1572.8,797.9 L1572.7,796.6 L1571.4,795.7 L1570.7,794.6 L1570.2,793.4 L1569.7,792.3 L1569.1,791.2 L1568.9,789.9 L1569.3,788.4 L1568.9,787.2 L1568.2,786.2 L1567.3,785.2 L1567.2,783.9 L1567.5,782.4 L1566.6,781.4 L1565.7,780.3 L1564.4,779.2 L1564.3,777.8 L1564.5,776.4 L1565.2,775.1 L1565.0,773.9 L1564.4,772.6 L1564.4,771.4 L1564.8,770.1 L1565.1,768.8 L1565.1,767.6 L1565.1,766.3 L1564.9,765.1 L1564.3,763.8 L1564.2,762.5Z M1574.6,762.8 L1573.5,763.6 L1573.2,764.7 L1572.4,766.0 L1573.7,767.1 L1573.8,768.4 L1574.5,769.6 L1574.3,770.9 L1574.2,772.1 L1574.6,773.4 L1573.8,774.6 L1573.6,775.7 L1573.9,776.6 L1574.1,777.1 L1574.9,777.6 L1575.4,778.3 L1576.0,779.3 L1575.5,780.8 L1574.8,782.4 L1575.7,783.4 L1576.4,784.5 L1577.0,785.6 L1577.0,786.9 L1578.1,787.9 L1579.1,788.8 L1580.5,789.6 L1580.5,790.8 L1580.5,791.8 L1580.8,792.6 L1580.6,793.7 L1581.1,794.7 L1581.4,795.9 L1582.5,796.7 L1583.1,797.8 L1583.1,799.3 L1582.4,801.1 L1582.7,802.4 L1584.0,803.1 L1584.9,804.0 L1585.5,805.1 L1585.3,806.6 L1586.0,807.7 L1587.3,808.4 L1588.1,809.4 L1588.8,810.3 L1588.7,811.5 L1589.9,811.6 L1590.2,812.4 L1591.5,812.4 L1591.8,813.7 L1592.5,814.7 L1592.9,816.1 L1594.1,816.6 L1594.7,817.8 L1596.1,818.2 L1596.2,819.9 L1597.7,820.1 L1598.3,821.3 L1599.7,821.7 L1600.3,822.9 L1601.5,823.5 L1602.6,824.1 L1603.7,824.7 L1603.7,826.4 L1604.2,827.5 L1604.6,828.6 L1606.0,828.3 L1606.7,828.9 L1607.6,829.6 L1608.4,830.5 L1609.5,831.1 L1610.6,831.7 L1611.2,833.0 L1612.3,833.7 L1613.0,834.9 L1614.6,834.6 L1615.3,836.0 L1617.0,835.7 L1617.4,837.2 L1618.5,837.9 L1619.4,838.8 L1620.6,839.2 L1622.3,838.8 L1623.0,839.5 L1623.6,839.4 L1623.7,839.7 L1623.9,840.1 L1624.7,840.4 L1625.8,841.2 L1627.0,840.5 L1628.3,839.7 L1629.5,838.5 L1630.8,839.6 L1632.0,839.9 L1633.3,840.7 L1634.5,840.3 L1635.8,840.7 L1637.0,839.9 L1638.3,839.5 L1639.4,840.1 L1640.4,840.2 L1641.3,840.2 L1641.9,839.1 L1642.9,838.9 L1644.2,839.3 L1645.5,839.4 L1646.7,839.1 L1647.7,837.8 L1648.9,837.7 L1650.4,838.3 L1651.7,838.2 L1652.8,837.5 L1653.8,836.4 L1654.8,835.4 L1656.2,836.1 L1657.7,836.9 L1659.0,837.3 L1660.2,836.9 L1661.2,835.8 L1662.6,836.0 L1663.6,835.2 L1664.8,834.9 L1665.7,833.4 L1667.0,833.3 L1668.3,833.3 L1669.8,834.0 L1670.6,832.4 L1671.9,832.3 L1673.0,831.7 L1674.4,832.1 L1675.2,830.8 L1676.2,830.9 L1677.2,831.0 L1678.0,830.8 L1678.7,829.8 L1679.8,829.5 L1681.3,829.6 L1682.1,828.4 L1683.0,827.6 L1683.5,826.0 L1685.1,826.2 L1686.2,825.5 L1687.2,824.9 L1687.6,823.4 L1687.9,823.1 L1688.3,823.7 L1689.4,824.5 L1689.6,824.1 L1689.5,823.1 L1689.7,821.9 L1690.0,820.7 L1690.0,819.4 L1690.1,818.2 L1690.1,816.9 L1691.3,815.9 L1690.8,814.6 L1691.1,813.8 L1691.1,813.3 L1690.9,812.8 L1690.2,812.1 L1689.9,811.0 L1689.1,810.0 L1689.0,808.7 L1687.7,807.8 L1688.0,806.4 L1687.5,805.2 L1688.1,803.8 L1687.6,802.6 L1687.8,801.2 L1687.5,800.0 L1687.3,798.8 L1686.3,797.8 L1685.6,796.9 L1685.6,796.0 L1685.1,795.3 L1685.0,794.5 L1684.3,793.7 L1683.8,792.7 L1682.2,792.2 L1681.3,791.3 L1680.3,790.5 L1680.7,788.7 L1680.3,787.5 L1679.7,786.4 L1679.1,785.3 L1678.6,784.1 L1678.2,782.9 L1676.8,782.3 L1675.0,782.0 L1674.7,780.8 L1674.8,779.4 L1674.5,778.2 L1673.4,777.6 L1672.6,776.7 L1672.2,775.4 L1672.0,774.0 L1671.0,773.2 L1669.7,772.6 L1668.8,771.8 L1667.7,771.1 L1667.0,770.0 L1666.4,768.9 L1666.0,767.7 L1665.6,766.4 L1664.4,766.2 L1663.8,765.9 L1663.5,765.1 L1662.7,764.7 L1661.8,763.9 L1660.9,763.1 L1660.3,761.7 L1659.0,761.4 L1657.4,761.6 L1656.4,760.9 L1655.4,760.2 L1654.4,759.3 L1653.1,759.1 L1651.6,759.3 L1650.6,758.8 L1649.7,758.1 L1649.3,756.3 L1648.4,755.5 L1647.4,754.6 L1646.0,754.8 L1644.8,754.4 L1643.7,753.8 L1642.5,753.4 L1641.2,753.0 L1639.7,753.3 L1638.6,752.8 L1637.9,751.4 L1637.1,750.1 L1636.1,749.5 L1634.6,750.3 L1633.8,750.1 L1633.1,749.4 L1632.3,748.2 L1630.8,749.0 L1629.7,748.4 L1628.4,748.6 L1627.3,747.8 L1625.9,748.1 L1624.7,747.8 L1623.5,747.6 L1622.4,747.1 L1621.3,747.5 L1620.4,747.5 L1619.4,748.1 L1618.4,747.1 L1617.2,746.3 L1616.0,746.0 L1614.7,746.7 L1613.4,747.5 L1612.2,746.8 L1611.0,745.8 L1609.8,744.9 L1608.7,744.3 L1607.6,744.0 L1606.5,743.5 L1605.3,744.5 L1604.2,745.2 L1603.0,746.3 L1601.8,746.5 L1600.6,747.2 L1599.3,746.4 L1598.0,746.2 L1596.7,745.7 L1595.6,747.0 L1594.4,746.8 L1593.4,747.6 L1592.2,747.1 L1591.1,748.1 L1589.8,747.5 L1588.5,747.1 L1587.2,746.7 L1585.9,746.6 L1584.8,747.6 L1583.6,748.4 L1582.6,749.0 L1582.1,749.6 L1582.0,749.6 L1581.7,748.9 L1582.6,750.4 L1581.7,750.6 L1581.1,751.6 L1580.3,752.5 L1578.8,752.8 L1577.6,753.4 L1575.9,753.5 L1576.0,755.3 L1576.3,756.9 L1576.4,757.5 L1576.0,757.4 L1574.7,757.1 L1574.1,757.7 L1573.9,758.8 L1573.9,760.1 L1573.3,761.1 L1573.2,761.9 L1573.9,762.4Z" fill="#1d1c18" fill-rule="evenodd"/>
<path d="M1656.6,842.4 L1655.3,842.5 L1654.1,842.9 L1652.8,843.0 L1651.6,843.3 L1650.4,843.7 L1649.3,844.2 L1648.1,844.6 L1646.9,844.8 L1645.6,845.2 L1644.5,845.7 L1643.3,846.0 L1642.0,846.1 L1640.8,846.1 L1639.5,846.2 L1638.3,846.2 L1637.0,846.2 L1635.8,846.2 L1634.5,846.2 L1633.3,846.3 L1632.0,846.2 L1630.8,846.0 L1629.5,845.8 L1628.3,845.8 L1627.0,845.8 L1625.8,845.9 L1624.5,845.8 L1623.3,846.0 L1622.2,845.6 L1621.0,845.5 L1620.0,844.8 L1618.7,844.5 L1617.7,843.8 L1616.7,843.0 L1615.8,842.1 L1614.7,841.5 L1613.6,840.9 L1612.6,840.2 L1611.7,839.3 L1610.7,838.4 L1609.6,837.8 L1608.6,837.1 L1607.6,836.4 L1606.6,835.6 L1605.4,835.1 L1604.2,834.6 L1603.1,834.1 L1602.1,833.4 L1601.1,832.6 L1600.3,831.7 L1599.4,830.8 L1598.6,829.9 L1597.6,829.1 L1596.6,828.3 L1595.8,827.4 L1594.8,826.6 L1594.0,825.6 L1593.1,824.8 L1592.3,823.7 L1591.6,822.7 L1592.9,821.4 L1594.1,822.0 L1595.0,822.9 L1595.9,823.7 L1596.6,824.7 L1597.4,825.8 L1598.1,826.8 L1599.2,827.5 L1600.3,828.2 L1601.1,829.1 L1601.8,830.1 L1602.5,831.0 L1603.4,831.6 L1604.5,832.1 L1605.5,832.7 L1606.3,833.7 L1607.2,834.7 L1608.1,835.6 L1609.3,836.0 L1610.6,836.3 L1611.8,836.7 L1612.9,837.4 L1613.7,838.4 L1614.5,839.5 L1615.7,840.0 L1616.7,840.7 L1617.8,841.3 L1618.8,842.0 L1620.0,842.4 L1621.1,842.7 L1622.0,843.2 L1622.7,843.5 L1623.5,843.8 L1624.6,844.0 L1625.8,843.9 L1627.0,843.7 L1628.3,843.4 L1629.5,843.8 L1630.8,844.3 L1632.0,844.6 L1633.3,844.2 L1634.5,844.0 L1635.8,843.9 L1637.0,844.2 L1638.3,843.9 L1639.5,843.8 L1640.6,843.9 L1641.7,843.7 L1642.8,843.6 L1643.9,843.1 L1645.1,842.9 L1646.3,842.8 L1647.6,842.7 L1648.8,842.4 L1650.0,841.9 L1651.2,841.7 L1652.4,841.3 L1653.7,841.1 L1654.8,840.5 L1656.0,840.2Z" fill="#9a6a2a"/>
<path d="M1663.3,759.0 L1664.4,759.6 L1665.4,760.4 L1666.3,761.2 L1667.3,761.9 L1668.2,762.7 L1669.0,763.6 L1669.7,764.6 L1670.5,765.6 L1671.3,766.6 L1672.2,767.4 L1673.2,768.3 L1674.1,769.1 L1674.8,770.1 L1675.3,771.3 L1676.0,772.4 L1676.8,773.4 L1677.7,774.2 L1678.7,775.0 L1679.5,776.0 L1680.2,777.0 L1680.7,778.2 L1681.2,779.4 L1682.0,780.3 L1682.7,781.4 L1683.3,782.5 L1684.1,783.5 L1684.9,784.4 L1685.8,785.3 L1686.3,786.5 L1687.2,787.4 L1687.7,788.6 L1688.3,789.7 L1688.9,790.8 L1689.5,791.9 L1690.3,792.8 L1690.9,793.9 L1688.5,794.8 L1687.8,794.0 L1687.4,793.1 L1687.0,792.0 L1686.4,791.0 L1685.7,789.9 L1684.8,789.0 L1684.4,787.8 L1683.9,786.6 L1683.4,785.4 L1682.9,784.3 L1682.3,783.2 L1681.7,782.1 L1680.5,781.3 L1679.6,780.5 L1678.6,779.6 L1678.2,778.4 L1677.5,777.4 L1677.2,776.2 L1676.5,775.2 L1675.6,774.3 L1674.8,773.4 L1673.9,772.5 L1673.2,771.4 L1672.4,770.5 L1671.4,769.6 L1670.5,768.8 L1669.3,768.1 L1668.7,767.0 L1668.1,765.9 L1667.5,764.8 L1666.8,764.0 L1666.0,763.3 L1665.2,762.7 L1664.4,761.9 L1663.3,761.4 L1662.4,760.7Z" fill="#9a6a2a"/>
<text x="126.6" y="698.9" font-family="'Liberation Sans', Arial, Helvetica, sans-serif" font-size="22" text-anchor="middle">5 h</text>
<text x="382.4" y="698.9" font-family="'Liberation Sans', Arial, Helvetica, sans-serif" font-size="22" text-anchor="middle">6 h</text>
<text x="630.6" y="698.9" font-family="'Liberation Sans', Arial, Helvetica, sans-serif" font-size="22" text-anchor="middle">12 h</text>
<text x="883.4" y="698.9" font-family="'Liberation Sans', Arial, Helvetica, sans-serif" font-size="22" text-anchor="middle">24 h</text>
<text x="1136.3" y="698.9" font-family="'Liberation Sans', Arial, Helvetica, sans-serif" font-size="22" text-anchor="middle">48.5 h</text>
<text x="1391.8" y="698.9" font-family="'Liberation Sans', Arial, Helvetica, sans-serif" font-size="22" text-anchor="middle">96 h</text>
<text x="1644.2" y="698.9" font-family="'Liberation Sans', Arial, Helvetica, sans-serif" font-size="22" text-anchor="middle">120 h</text>
<rect x="12" y="849.9" width="50" height="3" fill="#000"/>
<text x="13" y="845.4" font-family="'Liberation Sans', Arial, Helvetica, sans-serif" font-size="19.3">5 mm</text>
<g stroke="#000" fill="none">
<line x1="964.6" y1="0" x2="964.6" y2="675" stroke-width="3"/>
<line x1="0" y1="675.3" x2="1772" y2="675.3" stroke-width="3.2"/>
<line x1="251.6" y1="675" x2="251.6" y2="862" stroke-width="2.4"/>
<line x1="503.4" y1="675" x2="503.4" y2="862" stroke-width="2.4"/>
<line x1="756.5" y1="675" x2="756.5" y2="862" stroke-width="2.4"/>
<line x1="1009.7" y1="675" x2="1009.7" y2="862" stroke-width="2.4"/>
<line x1="1263.9" y1="675" x2="1263.9" y2="862" stroke-width="2.4"/>
<line x1="1516.7" y1="675" x2="1516.7" y2="862" stroke-width="2.4"/>
<line x1="2.4" y1="675" x2="2.4" y2="863" stroke-width="2.2"/>
<line x1="1769.3" y1="675" x2="1769.3" y2="863" stroke-width="2.4"/>
<line x1="0" y1="860" x2="1772" y2="860" stroke-width="2.4"/>
</g>
<rect x="0" y="676" width="1.4" height="187" fill="#231f20"/>
<rect x="0" y="861.2" width="1772" height="1.8" fill="#231f20"/>
<rect x="1770.5" y="676" width="1.5" height="187" fill="#231f20"/>
</svg></body></html>
